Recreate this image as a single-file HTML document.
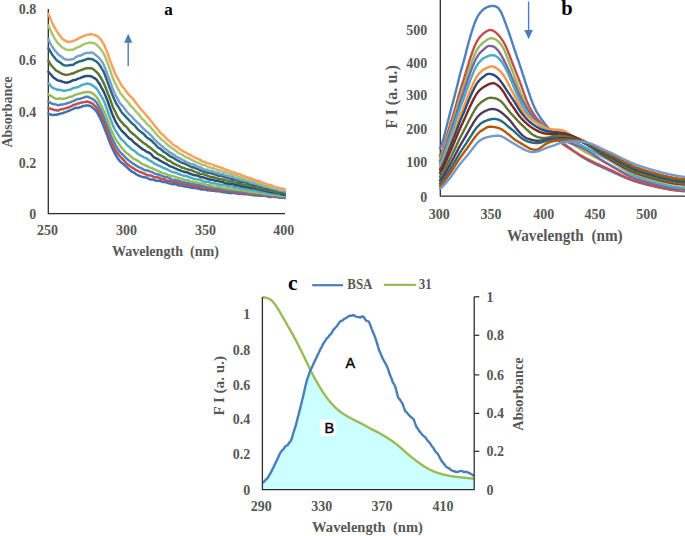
<!DOCTYPE html>
<html><head><meta charset="utf-8"><title>Figure</title>
<style>html,body{margin:0;padding:0;background:#fff;}svg{display:block;}</style></head>
<body><svg width="685" height="536" viewBox="0 0 685 536">
<rect width="685" height="536" fill="#fff"/>
<path d="M48.3 9V213.6H285" fill="none" stroke="#2e2e2e" stroke-width="1.3"/>
<path d="M48.50 113.66L49.49 114.06L50.48 114.36L51.46 114.75L52.45 115.11L53.44 115.12L54.43 114.84L55.42 114.67L56.41 114.66L57.39 114.53L58.38 114.19L59.37 113.91L60.36 113.65L61.35 113.38L62.34 113.20L63.32 112.88L64.31 112.48L65.30 112.19L66.29 111.85L67.28 111.44L68.27 111.09L69.25 110.74L70.24 110.23L71.23 109.68L72.22 109.34L73.21 108.95L74.20 108.35L75.18 107.90L76.17 107.83L77.16 107.91L78.15 107.81L79.14 107.55L80.13 107.31L81.11 106.95L82.10 106.40L83.09 106.02L84.08 105.91L85.07 105.75L86.05 105.49L87.04 105.37L88.03 105.51L89.02 105.75L90.01 106.00L91.00 106.40L91.98 107.06L92.97 107.96L93.96 108.80L94.95 109.68L95.94 110.80L96.93 112.14L97.91 113.72L98.90 115.57L99.89 117.61L100.88 119.68L101.87 121.86L102.86 124.21L103.84 126.75L104.83 129.31L105.82 131.80L106.81 134.30L107.80 136.96L108.79 139.72L109.77 142.34L110.76 144.76L111.75 147.05L112.74 149.19L113.73 151.20L114.72 153.23L115.70 155.14L116.69 156.72L117.68 158.23L118.67 159.66L119.66 160.87L120.64 161.89L121.63 162.76L122.62 163.49L123.61 164.29L124.60 165.20L125.59 166.07L126.57 166.91L127.56 167.84L128.55 168.80L129.54 169.72L130.53 170.67L131.52 171.38L132.50 171.93L133.49 172.46L134.48 173.07L135.47 173.83L136.46 174.46L137.45 174.87L138.43 175.28L139.42 175.77L140.41 176.19L141.40 176.56L142.39 176.90L143.38 177.08L144.36 177.21L145.35 177.40L146.34 177.58L147.33 177.94L148.32 178.52L149.31 179.06L150.29 179.42L151.28 179.54L152.27 179.47L153.26 179.51L154.25 179.93L155.23 180.44L156.22 180.66L157.21 180.68L158.20 180.69L159.19 180.73L160.18 180.87L161.16 181.26L162.15 181.78L163.14 181.99L164.13 181.98L165.12 182.06L166.11 182.23L167.09 182.60L168.08 183.09L169.07 183.38L170.06 183.47L171.05 183.65L172.04 184.05L173.02 184.33L174.01 184.25L175.00 184.10L175.99 184.20L176.98 184.64L177.97 185.21L178.95 185.51L179.94 185.57L180.93 185.53L181.92 185.71L182.91 186.14L183.89 186.38L184.88 186.32L185.87 186.40L186.86 186.72L187.85 186.93L188.84 187.06L189.82 187.21L190.81 187.55L191.80 187.87L192.79 187.95L193.78 187.97L194.77 188.01L195.75 188.01L196.74 188.16L197.73 188.49L198.72 188.76L199.71 188.91L200.70 189.23L201.68 189.54L202.67 189.59L203.66 189.41L204.65 189.32L205.64 189.59L206.63 190.08L207.61 190.39L208.60 190.38L209.59 190.29L210.58 190.41L211.57 190.72L212.56 190.79L213.54 190.62L214.53 190.77L215.52 191.19L216.51 191.36L217.50 191.24L218.48 191.22L219.47 191.39L220.46 191.52L221.45 191.67L222.44 191.98L223.43 192.19L224.41 192.27L225.40 192.37L226.39 192.63L227.38 192.74L228.37 192.80L229.36 193.02L230.34 193.16L231.33 193.04L232.32 192.80L233.31 192.85L234.30 193.16L235.29 193.30L236.27 193.36L237.26 193.56L238.25 193.87L239.24 194.02L240.23 193.98L241.22 193.85L242.20 193.86L243.19 194.06L244.18 194.33L245.17 194.31L246.16 194.14L247.15 194.21L248.13 194.39L249.12 194.44L250.11 194.57L251.10 194.84L252.09 195.09L253.07 195.27L254.06 195.35L255.05 195.38L256.04 195.38L257.03 195.36L258.02 195.51L259.00 195.68L259.99 195.63L260.98 195.60L261.97 195.72L262.96 195.79L263.95 195.74L264.93 195.83L265.92 196.07L266.91 196.31L267.90 196.64L268.89 196.88L269.88 196.94L270.86 196.90L271.85 196.75L272.84 196.67L273.83 196.82L274.82 197.01L275.81 197.08L276.79 197.05L277.78 197.19L278.77 197.43L279.76 197.48L280.75 197.63L281.74 197.78L282.72 197.66L283.71 197.67L284.70 197.96" fill="none" stroke="#3F70B0" stroke-width="2.5" stroke-linejoin="round" stroke-linecap="round"/>
<path d="M48.50 108.03L49.49 108.46L50.48 108.75L51.46 109.04L52.45 109.28L53.44 109.64L54.43 109.95L55.42 110.04L56.41 110.32L57.39 110.60L58.38 110.42L59.37 109.92L60.36 109.55L61.35 109.32L62.34 109.13L63.32 108.93L64.31 108.65L65.30 108.36L66.29 108.05L67.28 107.84L68.27 107.49L69.25 107.01L70.24 106.58L71.23 106.13L72.22 105.60L73.21 105.03L74.20 104.74L75.18 104.62L76.17 104.25L77.16 103.69L78.15 103.40L79.14 103.27L80.13 102.91L81.11 102.58L82.10 102.50L83.09 102.36L84.08 102.16L85.07 101.90L86.05 101.67L87.04 101.57L88.03 101.73L89.02 102.14L90.01 102.53L91.00 102.90L91.98 103.26L92.97 103.86L93.96 104.89L94.95 105.98L95.94 106.95L96.93 108.07L97.91 109.57L98.90 111.40L99.89 113.29L100.88 115.22L101.87 117.15L102.86 119.33L103.84 121.87L104.83 124.48L105.82 127.14L106.81 129.86L107.80 132.51L108.79 135.05L109.77 137.74L110.76 140.32L111.75 142.73L112.74 144.99L113.73 147.15L114.72 149.07L115.70 150.70L116.69 152.24L117.68 153.63L118.67 154.82L119.66 155.97L120.64 157.02L121.63 158.00L122.62 159.00L123.61 160.05L124.60 161.13L125.59 162.24L126.57 163.29L127.56 164.23L128.55 165.04L129.54 165.80L130.53 166.48L131.52 167.17L132.50 167.81L133.49 168.38L134.48 169.03L135.47 169.79L136.46 170.29L137.45 170.64L138.43 171.24L139.42 171.75L140.41 171.94L141.40 172.31L142.39 172.77L143.38 173.15L144.36 173.66L145.35 174.15L146.34 174.54L147.33 174.90L148.32 175.21L149.31 175.36L150.29 175.49L151.28 175.71L152.27 176.13L153.26 176.67L154.25 177.21L155.23 177.38L156.22 177.22L157.21 177.21L158.20 177.50L159.19 178.00L160.18 178.53L161.16 178.88L162.15 179.06L163.14 179.16L164.13 179.32L165.12 179.83L166.11 180.44L167.09 180.72L168.08 180.75L169.07 180.91L170.06 181.26L171.05 181.47L172.04 181.58L173.02 181.66L174.01 181.84L175.00 182.09L175.99 182.27L176.98 182.49L177.97 182.81L178.95 183.10L179.94 183.44L180.93 183.77L181.92 183.93L182.91 183.97L183.89 184.17L184.88 184.46L185.87 184.58L186.86 184.75L187.85 185.02L188.84 185.19L189.82 185.43L190.81 185.59L191.80 185.84L192.79 186.19L193.78 186.34L194.77 186.47L195.75 186.69L196.74 186.97L197.73 187.08L198.72 186.97L199.71 186.93L200.70 187.13L201.68 187.38L202.67 187.55L203.66 187.70L204.65 187.85L205.64 188.10L206.63 188.40L207.61 188.68L208.60 188.90L209.59 188.97L210.58 188.99L211.57 189.15L212.56 189.37L213.54 189.52L214.53 189.81L215.52 190.13L216.51 190.20L217.50 190.06L218.48 190.04L219.47 190.25L220.46 190.44L221.45 190.47L222.44 190.47L223.43 190.48L224.41 190.49L225.40 190.61L226.39 190.89L227.38 191.31L228.37 191.49L229.36 191.32L230.34 191.34L231.33 191.64L232.32 191.79L233.31 191.78L234.30 191.76L235.29 191.98L236.27 192.38L237.26 192.72L238.25 192.98L239.24 193.06L240.23 192.97L241.22 192.98L242.20 193.06L243.19 193.17L244.18 193.40L245.17 193.65L246.16 193.63L247.15 193.61L248.13 193.93L249.12 194.29L250.11 194.34L251.10 194.14L252.09 194.10L253.07 194.47L254.06 194.79L255.05 194.78L256.04 194.67L257.03 194.72L258.02 194.82L259.00 194.89L259.99 195.06L260.98 195.10L261.97 195.14L262.96 195.33L263.95 195.33L264.93 195.25L265.92 195.45L266.91 195.75L267.90 195.90L268.89 196.12L269.88 196.17L270.86 196.06L271.85 196.21L272.84 196.49L273.83 196.65L274.82 196.73L275.81 196.72L276.79 196.72L277.78 196.83L278.77 197.13L279.76 197.28L280.75 197.18L281.74 197.07L282.72 197.11L283.71 197.16L284.70 197.07" fill="none" stroke="#C0504D" stroke-width="2.5" stroke-linejoin="round" stroke-linecap="round"/>
<path d="M48.50 101.60L49.49 102.21L50.48 102.84L51.46 103.47L52.45 103.93L53.44 104.09L54.43 104.22L55.42 104.39L56.41 104.66L57.39 104.98L58.38 105.17L59.37 104.99L60.36 104.62L61.35 104.48L62.34 104.48L63.32 104.35L64.31 104.14L65.30 103.86L66.29 103.53L67.28 103.23L68.27 102.83L69.25 102.60L70.24 102.38L71.23 101.87L72.22 101.37L73.21 101.09L74.20 100.73L75.18 100.14L76.17 99.63L77.16 99.34L78.15 99.06L79.14 98.97L80.13 98.79L81.11 98.39L82.10 98.14L83.09 97.87L84.08 97.41L85.07 97.02L86.05 96.78L87.04 96.71L88.03 96.84L89.02 97.24L90.01 97.79L91.00 98.26L91.98 98.70L92.97 99.33L93.96 100.05L94.95 100.83L95.94 101.81L96.93 103.05L97.91 104.79L98.90 106.70L99.89 108.45L100.88 110.22L101.87 112.21L102.86 114.54L103.84 117.14L104.83 119.71L105.82 122.20L106.81 124.76L107.80 127.29L108.79 129.82L109.77 132.52L110.76 135.18L111.75 137.66L112.74 139.86L113.73 141.82L114.72 143.70L115.70 145.58L116.69 147.25L117.68 148.78L118.67 150.16L119.66 151.52L120.64 152.69L121.63 153.66L122.62 154.48L123.61 155.43L124.60 156.49L125.59 157.58L126.57 158.54L127.56 159.40L128.55 160.33L129.54 161.09L130.53 161.64L131.52 162.39L132.50 163.20L133.49 163.84L134.48 164.46L135.47 165.15L136.46 165.77L137.45 166.38L138.43 166.82L139.42 167.25L140.41 167.77L141.40 168.24L142.39 168.84L143.38 169.43L144.36 169.93L145.35 170.22L146.34 170.31L147.33 170.43L148.32 170.72L149.31 171.15L150.29 171.62L151.28 171.92L152.27 172.24L153.26 172.72L154.25 173.29L155.23 173.79L156.22 174.10L157.21 174.29L158.20 174.48L159.19 174.80L160.18 175.24L161.16 175.63L162.15 175.92L163.14 176.38L164.13 176.79L165.12 176.92L166.11 176.98L167.09 177.23L168.08 177.56L169.07 177.93L170.06 178.45L171.05 179.08L172.04 179.51L173.02 179.75L174.01 179.86L175.00 180.04L175.99 180.32L176.98 180.43L177.97 180.56L178.95 180.87L179.94 181.19L180.93 181.57L181.92 181.78L182.91 181.85L183.89 182.10L184.88 182.47L185.87 182.69L186.86 182.73L187.85 182.79L188.84 183.05L189.82 183.42L190.81 183.71L191.80 183.97L192.79 184.10L193.78 184.08L194.77 184.20L195.75 184.51L196.74 184.74L197.73 184.84L198.72 184.86L199.71 185.04L200.70 185.40L201.68 185.68L202.67 185.88L203.66 186.28L204.65 186.62L205.64 186.75L206.63 186.73L207.61 186.60L208.60 186.58L209.59 186.74L210.58 186.98L211.57 187.33L212.56 187.64L213.54 187.83L214.53 188.01L215.52 188.04L216.51 188.08L217.50 188.30L218.48 188.45L219.47 188.60L220.46 188.94L221.45 189.30L222.44 189.37L223.43 189.38L224.41 189.47L225.40 189.45L226.39 189.54L227.38 189.83L228.37 190.03L229.36 190.03L230.34 190.18L231.33 190.30L232.32 190.42L233.31 190.75L234.30 191.06L235.29 191.08L236.27 191.04L237.26 191.23L238.25 191.45L239.24 191.63L240.23 191.63L241.22 191.64L242.20 191.89L243.19 192.08L244.18 192.18L245.17 192.28L246.16 192.27L247.15 192.37L248.13 192.62L249.12 192.65L250.11 192.60L251.10 192.79L252.09 193.24L253.07 193.56L254.06 193.63L255.05 193.66L256.04 193.61L257.03 193.60L258.02 193.67L259.00 193.84L259.99 194.01L260.98 194.05L261.97 194.15L262.96 194.39L263.95 194.50L264.93 194.51L265.92 194.51L266.91 194.67L267.90 195.02L268.89 195.31L269.88 195.42L270.86 195.39L271.85 195.41L272.84 195.32L273.83 195.28L274.82 195.45L275.81 195.73L276.79 195.94L277.78 196.20L278.77 196.54L279.76 196.75L280.75 196.90L281.74 196.91L282.72 196.78L283.71 196.71L284.70 196.61" fill="none" stroke="#4F81BD" stroke-width="2.5" stroke-linejoin="round" stroke-linecap="round"/>
<path d="M48.50 94.02L49.49 95.02L50.48 95.71L51.46 96.16L52.45 96.75L53.44 97.56L54.43 98.14L55.42 98.43L56.41 98.67L57.39 98.87L58.38 98.74L59.37 98.41L60.36 98.37L61.35 98.69L62.34 98.91L63.32 98.76L64.31 98.54L65.30 98.40L66.29 98.18L67.28 97.91L68.27 97.47L69.25 97.02L70.24 96.82L71.23 96.68L72.22 96.45L73.21 95.95L74.20 95.34L75.18 94.86L76.17 94.49L77.16 94.28L78.15 94.04L79.14 93.67L80.13 93.33L81.11 93.18L82.10 92.99L83.09 92.62L84.08 92.28L85.07 92.26L86.05 92.24L87.04 91.97L88.03 91.87L89.02 92.11L90.01 92.29L91.00 92.48L91.98 92.97L92.97 93.60L93.96 94.25L94.95 95.26L95.94 96.47L96.93 97.64L97.91 98.89L98.90 100.61L99.89 102.60L100.88 104.61L101.87 106.59L102.86 108.58L103.84 110.69L104.83 112.94L105.82 115.38L106.81 118.06L107.80 120.69L108.79 123.39L109.77 126.31L110.76 128.94L111.75 131.21L112.74 133.36L113.73 135.59L114.72 137.63L115.70 139.40L116.69 140.88L117.68 142.27L118.67 143.60L119.66 144.94L120.64 146.40L121.63 147.75L122.62 148.81L123.61 149.88L124.60 151.08L125.59 152.13L126.57 152.92L127.56 153.53L128.55 154.33L129.54 155.26L130.53 156.07L131.52 157.03L132.50 157.94L133.49 158.57L134.48 159.06L135.47 159.54L136.46 160.03L137.45 160.62L138.43 161.35L139.42 162.05L140.41 162.75L141.40 163.55L142.39 164.09L143.38 164.37L144.36 164.86L145.35 165.42L146.34 165.78L147.33 166.16L148.32 166.69L149.31 167.14L150.29 167.58L151.28 167.99L152.27 168.34L153.26 168.77L154.25 169.19L155.23 169.64L156.22 170.10L157.21 170.60L158.20 171.06L159.19 171.46L160.18 171.78L161.16 172.29L162.15 172.86L163.14 173.20L164.13 173.39L165.12 173.61L166.11 173.99L167.09 174.52L168.08 174.91L169.07 175.14L170.06 175.50L171.05 175.88L172.04 175.99L173.02 176.01L174.01 176.35L175.00 176.91L175.99 177.30L176.98 177.52L177.97 177.66L178.95 177.91L179.94 178.34L180.93 178.64L181.92 178.85L182.91 179.06L183.89 179.43L184.88 179.97L185.87 180.16L186.86 179.98L187.85 180.08L188.84 180.62L189.82 181.15L190.81 181.44L191.80 181.61L192.79 181.70L193.78 181.95L194.77 182.28L195.75 182.43L196.74 182.48L197.73 182.69L198.72 182.94L199.71 183.03L200.70 183.11L201.68 183.38L202.67 183.69L203.66 183.77L204.65 183.91L205.64 184.35L206.63 184.92L207.61 185.16L208.60 185.04L209.59 185.02L210.58 185.32L211.57 185.72L212.56 185.99L213.54 186.27L214.53 186.49L215.52 186.64L216.51 186.67L217.50 186.58L218.48 186.65L219.47 187.06L220.46 187.38L221.45 187.38L222.44 187.45L223.43 187.83L224.41 188.16L225.40 188.30L226.39 188.36L227.38 188.38L228.37 188.36L229.36 188.63L230.34 189.07L231.33 189.31L232.32 189.33L233.31 189.29L234.30 189.30L235.29 189.31L236.27 189.49L237.26 189.82L238.25 189.93L239.24 189.88L240.23 189.87L241.22 189.94L242.20 190.18L243.19 190.46L244.18 190.61L245.17 190.81L246.16 191.04L247.15 191.20L248.13 191.46L249.12 191.68L250.11 191.92L251.10 192.08L252.09 192.00L253.07 191.94L254.06 192.12L255.05 192.27L256.04 192.39L257.03 192.63L258.02 192.82L259.00 192.87L259.99 192.87L260.98 192.92L261.97 193.14L262.96 193.56L263.95 193.79L264.93 193.78L265.92 193.95L266.91 194.20L267.90 194.28L268.89 194.21L269.88 194.23L270.86 194.50L271.85 194.94L272.84 195.20L273.83 195.18L274.82 195.02L275.81 195.01L276.79 195.18L277.78 195.38L278.77 195.54L279.76 195.81L280.75 195.98L281.74 195.89L282.72 195.77L283.71 195.89L284.70 196.16" fill="none" stroke="#9BBB59" stroke-width="2.5" stroke-linejoin="round" stroke-linecap="round"/>
<path d="M48.50 83.24L49.49 84.27L50.48 85.48L51.46 86.59L52.45 87.43L53.44 88.14L54.43 88.62L55.42 88.87L56.41 89.30L57.39 89.76L58.38 89.81L59.37 89.78L60.36 89.98L61.35 90.17L62.34 90.37L63.32 90.66L64.31 90.80L65.30 90.74L66.29 90.39L67.28 90.12L68.27 90.03L69.25 89.83L70.24 89.59L71.23 89.22L72.22 88.71L73.21 88.13L74.20 87.74L75.18 87.62L76.17 87.48L77.16 87.21L78.15 86.88L79.14 86.53L80.13 86.05L81.11 85.39L82.10 84.87L83.09 84.64L84.08 84.48L85.07 84.15L86.05 83.77L87.04 83.62L88.03 83.70L89.02 83.88L90.01 84.15L91.00 84.58L91.98 85.09L92.97 85.69L93.96 86.38L94.95 87.22L95.94 88.03L96.93 89.06L97.91 90.52L98.90 92.23L99.89 93.89L100.88 95.46L101.87 97.08L102.86 98.90L103.84 101.01L104.83 103.37L105.82 105.94L106.81 108.69L107.80 111.64L108.79 114.52L109.77 117.17L110.76 119.67L111.75 122.24L112.74 124.87L113.73 127.18L114.72 129.09L115.70 130.80L116.69 132.36L117.68 133.91L118.67 135.51L119.66 137.07L120.64 138.41L121.63 139.56L122.62 140.42L123.61 141.19L124.60 142.22L125.59 143.47L126.57 144.60L127.56 145.45L128.55 146.23L129.54 147.18L130.53 148.19L131.52 149.05L132.50 149.63L133.49 150.25L134.48 151.08L135.47 151.77L136.46 152.60L137.45 153.57L138.43 154.30L139.42 154.82L140.41 155.28L141.40 155.78L142.39 156.42L143.38 157.06L144.36 157.48L145.35 157.82L146.34 158.34L147.33 159.06L148.32 159.79L149.31 160.26L150.29 160.75L151.28 161.41L152.27 162.09L153.26 162.82L154.25 163.44L155.23 163.91L156.22 164.31L157.21 164.77L158.20 165.31L159.19 165.77L160.18 166.08L161.16 166.61L162.15 167.33L163.14 167.89L164.13 168.20L165.12 168.44L166.11 168.83L167.09 169.33L168.08 169.87L169.07 170.48L170.06 171.02L171.05 171.43L172.04 171.81L173.02 172.17L174.01 172.34L175.00 172.44L175.99 172.66L176.98 173.09L177.97 173.71L178.95 174.22L179.94 174.44L180.93 174.66L181.92 175.11L182.91 175.49L183.89 175.67L184.88 175.83L185.87 176.03L186.86 176.29L187.85 176.54L188.84 176.98L189.82 177.50L190.81 177.80L191.80 178.06L192.79 178.45L193.78 178.79L194.77 179.02L195.75 179.17L196.74 179.34L197.73 179.42L198.72 179.38L199.71 179.49L200.70 179.80L201.68 180.33L202.67 180.93L203.66 181.28L204.65 181.51L205.64 181.63L206.63 181.68L207.61 181.89L208.60 182.10L209.59 182.31L210.58 182.66L211.57 182.94L212.56 183.11L213.54 183.32L214.53 183.49L215.52 183.60L216.51 183.82L217.50 184.06L218.48 184.33L219.47 184.52L220.46 184.70L221.45 184.86L222.44 184.82L223.43 184.81L224.41 185.02L225.40 185.35L226.39 185.60L227.38 185.68L228.37 185.84L229.36 185.97L230.34 186.11L231.33 186.41L232.32 186.67L233.31 186.89L234.30 187.06L235.29 187.08L236.27 187.21L237.26 187.37L238.25 187.57L239.24 187.84L240.23 188.17L241.22 188.32L242.20 188.28L243.19 188.48L244.18 188.73L245.17 188.82L246.16 189.04L247.15 189.29L248.13 189.37L249.12 189.61L250.11 189.90L251.10 189.98L252.09 190.05L253.07 190.21L254.06 190.15L255.05 190.22L256.04 190.49L257.03 190.69L258.02 191.02L259.00 191.43L259.99 191.68L260.98 191.88L261.97 192.02L262.96 192.12L263.95 192.42L264.93 192.60L265.92 192.57L266.91 192.61L267.90 192.86L268.89 193.01L269.88 193.13L270.86 193.35L271.85 193.62L272.84 193.96L273.83 194.07L274.82 193.91L275.81 193.89L276.79 194.19L277.78 194.48L278.77 194.49L279.76 194.46L280.75 194.58L281.74 194.89L282.72 195.14L283.71 195.01L284.70 194.77" fill="none" stroke="#4BACC6" stroke-width="2.5" stroke-linejoin="round" stroke-linecap="round"/>
<path d="M48.50 71.81L49.49 73.17L50.48 74.24L51.46 75.23L52.45 76.37L53.44 77.45L54.43 78.16L55.42 78.79L56.41 79.56L57.39 80.13L58.38 80.51L59.37 80.73L60.36 80.93L61.35 81.27L62.34 81.62L63.32 81.90L64.31 82.19L65.30 82.59L66.29 82.71L67.28 82.46L68.27 82.16L69.25 82.07L70.24 81.75L71.23 81.09L72.22 80.57L73.21 80.24L74.20 80.02L75.18 79.89L76.17 79.58L77.16 79.05L78.15 78.61L79.14 78.39L80.13 78.11L81.11 77.65L82.10 77.20L83.09 76.81L84.08 76.48L85.07 76.18L86.05 76.05L87.04 76.11L88.03 76.09L89.02 76.07L90.01 76.15L91.00 76.32L91.98 76.62L92.97 77.28L93.96 77.90L94.95 78.36L95.94 79.04L96.93 80.13L97.91 81.58L98.90 83.00L99.89 84.54L100.88 86.47L101.87 88.31L102.86 90.01L103.84 91.94L104.83 94.15L105.82 96.62L106.81 99.10L107.80 101.67L108.79 104.51L109.77 107.36L110.76 110.05L111.75 112.73L112.74 115.16L113.73 117.52L114.72 119.82L115.70 121.80L116.69 123.49L117.68 125.12L118.67 126.66L119.66 128.04L120.64 129.35L121.63 130.52L122.62 131.57L123.61 132.65L124.60 133.53L125.59 134.46L126.57 135.59L127.56 136.68L128.55 137.69L129.54 138.52L130.53 139.11L131.52 139.85L132.50 140.83L133.49 141.86L134.48 142.80L135.47 143.65L136.46 144.35L137.45 145.11L138.43 146.05L139.42 146.82L140.41 147.44L141.40 148.21L142.39 149.06L143.38 149.63L144.36 150.10L145.35 150.86L146.34 151.63L147.33 152.03L148.32 152.37L149.31 152.89L150.29 153.54L151.28 154.38L152.27 155.47L153.26 156.58L154.25 157.45L155.23 158.00L156.22 158.42L157.21 158.87L158.20 159.41L159.19 160.07L160.18 160.67L161.16 161.23L162.15 161.74L163.14 162.29L164.13 162.88L165.12 163.39L166.11 163.78L167.09 164.27L168.08 164.95L169.07 165.58L170.06 166.10L171.05 166.59L172.04 166.92L173.02 167.24L174.01 167.77L175.00 168.31L175.99 168.67L176.98 169.08L177.97 169.59L178.95 169.98L179.94 170.27L180.93 170.71L181.92 171.10L182.91 171.40L183.89 171.68L184.88 172.00L185.87 172.21L186.86 172.36L187.85 172.66L188.84 173.17L189.82 173.73L190.81 174.02L191.80 174.29L192.79 174.71L193.78 175.03L194.77 175.20L195.75 175.28L196.74 175.40L197.73 175.68L198.72 176.10L199.71 176.54L200.70 176.91L201.68 177.12L202.67 177.28L203.66 177.50L204.65 177.83L205.64 178.13L206.63 178.44L207.61 178.92L208.60 179.30L209.59 179.39L210.58 179.54L211.57 179.74L212.56 179.76L213.54 179.98L214.53 180.46L215.52 180.73L216.51 180.71L217.50 180.79L218.48 181.11L219.47 181.43L220.46 181.63L221.45 181.69L222.44 181.87L223.43 182.24L224.41 182.77L225.40 183.11L226.39 183.22L227.38 183.42L228.37 183.70L229.36 183.74L230.34 183.64L231.33 183.82L232.32 184.14L233.31 184.32L234.30 184.62L235.29 184.99L236.27 185.12L237.26 185.13L238.25 185.17L239.24 185.46L240.23 185.94L241.22 186.16L242.20 186.29L243.19 186.66L244.18 186.91L245.17 186.97L246.16 187.05L247.15 187.07L248.13 187.30L249.12 187.71L250.11 187.89L251.10 187.91L252.09 187.96L253.07 188.08L254.06 188.32L255.05 188.65L256.04 188.87L257.03 189.06L258.02 189.28L259.00 189.39L259.99 189.66L260.98 190.06L261.97 190.17L262.96 190.18L263.95 190.34L264.93 190.52L265.92 190.86L266.91 191.24L267.90 191.42L268.89 191.62L269.88 191.77L270.86 191.97L271.85 192.26L272.84 192.30L273.83 192.26L274.82 192.50L275.81 192.79L276.79 192.91L277.78 192.97L278.77 193.10L279.76 193.34L280.75 193.75L281.74 194.20L282.72 194.40L283.71 194.46L284.70 194.67" fill="none" stroke="#2C4D75" stroke-width="2.5" stroke-linejoin="round" stroke-linecap="round"/>
<path d="M48.50 60.67L49.49 62.64L50.48 64.29L51.46 65.54L52.45 66.70L53.44 67.77L54.43 68.81L55.42 69.89L56.41 70.71L57.39 71.25L58.38 71.71L59.37 72.29L60.36 72.93L61.35 73.46L62.34 73.82L63.32 74.19L64.31 74.49L65.30 74.84L66.29 75.02L67.28 74.86L68.27 74.55L69.25 74.35L70.24 74.15L71.23 73.79L72.22 73.51L73.21 73.40L74.20 72.99L75.18 72.31L76.17 71.84L77.16 71.57L78.15 71.06L79.14 70.62L80.13 70.38L81.11 70.00L82.10 69.65L83.09 69.38L84.08 69.00L85.07 68.59L86.05 68.35L87.04 68.22L88.03 68.20L89.02 68.27L90.01 68.17L91.00 68.12L91.98 68.37L92.97 69.03L93.96 69.87L94.95 70.62L95.94 71.44L96.93 72.32L97.91 73.33L98.90 74.74L99.89 76.26L100.88 77.81L101.87 79.55L102.86 81.36L103.84 83.37L104.83 85.65L105.82 88.02L106.81 90.59L107.80 93.14L108.79 95.75L109.77 98.41L110.76 101.09L111.75 103.82L112.74 106.51L113.73 108.81L114.72 110.59L115.70 112.47L116.69 114.65L117.68 116.73L118.67 118.45L119.66 119.87L120.64 121.07L121.63 122.09L122.62 123.18L123.61 124.47L124.60 125.54L125.59 126.32L126.57 127.11L127.56 128.17L128.55 129.48L129.54 130.77L130.53 131.77L131.52 132.60L132.50 133.42L133.49 134.26L134.48 135.01L135.47 135.86L136.46 136.80L137.45 137.75L138.43 138.70L139.42 139.50L140.41 140.38L141.40 141.28L142.39 141.99L143.38 142.72L144.36 143.46L145.35 144.07L146.34 144.73L147.33 145.59L148.32 146.44L149.31 147.14L150.29 147.81L151.28 148.50L152.27 149.40L153.26 150.32L154.25 151.09L155.23 151.88L156.22 152.61L157.21 153.40L158.20 154.14L159.19 154.76L160.18 155.23L161.16 155.68L162.15 156.22L163.14 156.86L164.13 157.55L165.12 158.22L166.11 159.04L167.09 159.93L168.08 160.49L169.07 160.75L170.06 161.05L171.05 161.72L172.04 162.57L173.02 163.15L174.01 163.66L175.00 164.22L175.99 164.72L176.98 165.17L177.97 165.55L178.95 165.93L179.94 166.47L180.93 167.11L181.92 167.52L182.91 167.65L183.89 167.96L184.88 168.46L185.87 168.82L186.86 169.13L187.85 169.43L188.84 169.73L189.82 169.92L190.81 170.06L191.80 170.38L192.79 170.90L193.78 171.40L194.77 171.80L195.75 172.14L196.74 172.42L197.73 172.75L198.72 173.26L199.71 173.68L200.70 173.88L201.68 173.98L202.67 174.07L203.66 174.29L204.65 174.68L205.64 175.05L206.63 175.31L207.61 175.67L208.60 176.10L209.59 176.50L210.58 176.80L211.57 176.90L212.56 176.95L213.54 177.19L214.53 177.55L215.52 177.86L216.51 178.10L217.50 178.45L218.48 178.89L219.47 179.19L220.46 179.30L221.45 179.34L222.44 179.53L223.43 179.70L224.41 179.78L225.40 180.01L226.39 180.37L227.38 180.62L228.37 180.96L229.36 181.26L230.34 181.39L231.33 181.33L232.32 181.46L233.31 181.91L234.30 182.37L235.29 182.62L236.27 182.78L237.26 182.99L238.25 183.10L239.24 183.14L240.23 183.34L241.22 183.77L242.20 184.21L243.19 184.39L244.18 184.54L245.17 184.86L246.16 185.35L247.15 185.55L248.13 185.46L249.12 185.65L250.11 186.00L251.10 186.10L252.09 186.20L253.07 186.46L254.06 186.61L255.05 186.89L256.04 187.45L257.03 187.83L258.02 188.00L259.00 188.31L259.99 188.62L260.98 188.78L261.97 188.80L262.96 188.92L263.95 189.12L264.93 189.25L265.92 189.40L266.91 189.74L267.90 190.15L268.89 190.33L269.88 190.49L270.86 190.74L271.85 190.76L272.84 190.85L273.83 191.23L274.82 191.62L275.81 191.86L276.79 192.04L277.78 192.24L278.77 192.47L279.76 192.56L280.75 192.63L281.74 192.79L282.72 192.82L283.71 193.01L284.70 193.35" fill="none" stroke="#5F7530" stroke-width="2.5" stroke-linejoin="round" stroke-linecap="round"/>
<path d="M48.50 48.24L49.49 49.88L50.48 51.59L51.46 53.41L52.45 54.95L53.44 56.18L54.43 57.44L55.42 58.71L56.41 59.84L57.39 60.74L58.38 61.42L59.37 62.03L60.36 62.59L61.35 63.36L62.34 64.22L63.32 64.82L64.31 65.25L65.30 65.54L66.29 65.63L67.28 65.53L68.27 65.37L69.25 65.21L70.24 65.05L71.23 65.00L72.22 65.04L73.21 64.83L74.20 64.12L75.18 63.31L76.17 62.74L77.16 62.32L78.15 61.92L79.14 61.58L80.13 61.31L81.11 61.09L82.10 60.80L83.09 60.46L84.08 60.11L85.07 59.78L86.05 59.37L87.04 59.02L88.03 58.75L89.02 58.75L90.01 58.97L91.00 59.06L91.98 59.09L92.97 59.46L93.96 60.15L94.95 60.66L95.94 61.09L96.93 61.94L97.91 63.00L98.90 64.07L99.89 65.45L100.88 67.21L101.87 68.89L102.86 70.36L103.84 72.11L104.83 74.54L105.82 77.29L106.81 80.02L107.80 82.69L108.79 85.37L109.77 87.96L110.76 90.52L111.75 93.28L112.74 95.87L113.73 98.05L114.72 100.18L115.70 102.39L116.69 104.30L117.68 105.83L118.67 107.28L119.66 108.91L120.64 110.58L121.63 112.17L122.62 113.48L123.61 114.48L124.60 115.47L125.59 116.58L126.57 117.69L127.56 118.70L128.55 119.64L129.54 120.77L130.53 121.95L131.52 122.89L132.50 123.66L133.49 124.44L134.48 125.37L135.47 126.54L136.46 127.83L137.45 128.92L138.43 129.88L139.42 130.76L140.41 131.48L141.40 132.17L142.39 133.00L143.38 133.80L144.36 134.66L145.35 135.81L146.34 136.97L147.33 137.77L148.32 138.36L149.31 139.06L150.29 139.72L151.28 140.50L152.27 141.49L153.26 142.48L154.25 143.42L155.23 144.40L156.22 145.48L157.21 146.68L158.20 147.66L159.19 148.24L160.18 148.73L161.16 149.42L162.15 150.36L163.14 151.36L164.13 152.00L165.12 152.53L166.11 153.22L167.09 153.93L168.08 154.68L169.07 155.40L170.06 156.13L171.05 156.76L172.04 157.17L173.02 157.59L174.01 158.21L175.00 158.83L175.99 159.44L176.98 160.13L177.97 160.62L178.95 161.04L179.94 161.70L180.93 162.30L181.92 162.70L182.91 163.04L183.89 163.31L184.88 163.56L185.87 164.05L186.86 164.73L187.85 165.23L188.84 165.68L189.82 166.21L190.81 166.67L191.80 166.96L192.79 167.17L193.78 167.45L194.77 167.86L195.75 168.37L196.74 168.66L197.73 168.94L198.72 169.57L199.71 170.22L200.70 170.59L201.68 170.81L202.67 171.15L203.66 171.56L204.65 171.79L205.64 172.00L206.63 172.42L207.61 172.73L208.60 172.80L209.59 172.92L210.58 173.16L211.57 173.45L212.56 173.82L213.54 174.10L214.53 174.37L215.52 174.57L216.51 174.90L217.50 175.42L218.48 175.77L219.47 175.91L220.46 176.06L221.45 176.12L222.44 176.30L223.43 176.62L224.41 176.92L225.40 177.12L226.39 177.37L227.38 177.76L228.37 178.12L229.36 178.42L230.34 178.63L231.33 178.84L232.32 179.20L233.31 179.60L234.30 179.80L235.29 179.86L236.27 179.97L237.26 180.30L238.25 180.90L239.24 181.40L240.23 181.62L241.22 181.66L242.20 181.60L243.19 181.65L244.18 181.80L245.17 182.07L246.16 182.54L247.15 183.09L248.13 183.55L249.12 183.79L250.11 183.95L251.10 184.35L252.09 184.72L253.07 184.95L254.06 185.24L255.05 185.46L256.04 185.43L257.03 185.40L258.02 185.68L259.00 186.18L259.99 186.53L260.98 186.70L261.97 186.98L262.96 187.45L263.95 187.86L264.93 188.14L265.92 188.32L266.91 188.45L267.90 188.58L268.89 188.78L269.88 189.07L270.86 189.24L271.85 189.30L272.84 189.42L273.83 189.67L274.82 189.98L275.81 190.23L276.79 190.67L277.78 191.19L278.77 191.49L279.76 191.63L280.75 191.79L281.74 191.97L282.72 192.05L283.71 192.04L284.70 192.24" fill="none" stroke="#276A7C" stroke-width="2.5" stroke-linejoin="round" stroke-linecap="round"/>
<path d="M48.50 39.16L49.49 41.53L50.48 43.80L51.46 45.59L52.45 47.03L53.44 48.53L54.43 49.99L55.42 51.19L56.41 52.22L57.39 53.28L58.38 54.46L59.37 55.37L60.36 55.95L61.35 56.52L62.34 57.33L63.32 58.25L64.31 58.94L65.30 59.35L66.29 59.53L67.28 59.67L68.27 59.73L69.25 59.72L70.24 59.58L71.23 59.31L72.22 59.23L73.21 59.11L74.20 58.51L75.18 57.60L76.17 56.88L77.16 56.43L78.15 56.01L79.14 55.73L80.13 55.59L81.11 55.29L82.10 54.85L83.09 54.26L84.08 53.69L85.07 53.35L86.05 53.11L87.04 52.99L88.03 52.97L89.02 52.84L90.01 52.67L91.00 52.51L91.98 52.52L92.97 52.87L93.96 53.55L94.95 54.45L95.94 55.20L96.93 55.91L97.91 56.81L98.90 57.85L99.89 59.02L100.88 60.26L101.87 61.68L102.86 63.27L103.84 65.13L104.83 67.40L105.82 69.93L106.81 72.76L107.80 75.58L108.79 78.14L109.77 80.53L110.76 83.15L111.75 86.06L112.74 88.84L113.73 91.31L114.72 93.52L115.70 95.43L116.69 97.17L117.68 99.01L118.67 100.93L119.66 102.68L120.64 104.05L121.63 105.12L122.62 106.16L123.61 107.27L124.60 108.52L125.59 109.93L126.57 111.36L127.56 112.65L128.55 113.68L129.54 114.59L130.53 115.46L131.52 116.41L132.50 117.51L133.49 118.58L134.48 119.67L135.47 120.73L136.46 121.74L137.45 122.70L138.43 123.54L139.42 124.45L140.41 125.40L141.40 126.48L142.39 127.63L143.38 128.63L144.36 129.50L145.35 130.48L146.34 131.36L147.33 132.00L148.32 132.81L149.31 133.82L150.29 134.68L151.28 135.62L152.27 136.83L153.26 138.09L154.25 139.13L155.23 140.00L156.22 140.97L157.21 142.06L158.20 142.94L159.19 143.78L160.18 144.71L161.16 145.48L162.15 146.17L163.14 147.12L164.13 148.22L165.12 148.94L166.11 149.38L167.09 149.97L168.08 150.79L169.07 151.72L170.06 152.54L171.05 153.07L172.04 153.61L173.02 154.30L174.01 154.85L175.00 155.50L175.99 156.25L176.98 156.82L177.97 157.30L178.95 157.87L179.94 158.38L180.93 158.89L181.92 159.53L182.91 160.02L183.89 160.47L184.88 161.04L185.87 161.60L186.86 162.09L187.85 162.60L188.84 163.02L189.82 163.42L190.81 163.70L191.80 163.89L192.79 164.21L193.78 164.57L194.77 165.01L195.75 165.52L196.74 166.07L197.73 166.58L198.72 166.84L199.71 167.12L200.70 167.54L201.68 168.06L202.67 168.73L203.66 169.21L204.65 169.46L205.64 169.66L206.63 169.81L207.61 170.03L208.60 170.45L209.59 170.95L210.58 171.13L211.57 171.09L212.56 171.31L213.54 171.78L214.53 172.18L215.52 172.41L216.51 172.53L217.50 172.71L218.48 173.17L219.47 173.77L220.46 174.05L221.45 174.08L222.44 174.14L223.43 174.31L224.41 174.76L225.40 175.30L226.39 175.60L227.38 175.80L228.37 176.05L229.36 176.34L230.34 176.46L231.33 176.55L232.32 176.72L233.31 177.02L234.30 177.53L235.29 178.11L236.27 178.44L237.26 178.50L238.25 178.63L239.24 179.01L240.23 179.60L241.22 180.05L242.20 180.12L243.19 180.20L244.18 180.50L245.17 180.69L246.16 180.94L247.15 181.31L248.13 181.51L249.12 181.91L250.11 182.54L251.10 182.88L252.09 182.92L253.07 183.03L254.06 183.30L255.05 183.66L256.04 183.88L257.03 184.07L258.02 184.47L259.00 184.89L259.99 185.03L260.98 185.16L261.97 185.58L262.96 186.19L263.95 186.60L264.93 186.67L265.92 186.67L266.91 186.86L267.90 187.16L268.89 187.46L269.88 187.78L270.86 188.13L271.85 188.38L272.84 188.48L273.83 188.76L274.82 189.16L275.81 189.40L276.79 189.67L277.78 189.99L278.77 190.31L279.76 190.53L280.75 190.45L281.74 190.42L282.72 190.78L283.71 191.30L284.70 191.56" fill="none" stroke="#7BA0D0" stroke-width="2.5" stroke-linejoin="round" stroke-linecap="round"/>
<path d="M48.50 25.42L49.49 27.98L50.48 30.38L51.46 32.53L52.45 34.44L53.44 36.34L54.43 38.06L55.42 39.59L56.41 41.10L57.39 42.44L58.38 43.64L59.37 44.61L60.36 45.65L61.35 46.75L62.34 47.52L63.32 47.98L64.31 48.52L65.30 49.16L66.29 49.64L67.28 49.87L68.27 49.88L69.25 49.90L70.24 49.85L71.23 49.86L72.22 49.82L73.21 49.55L74.20 49.16L75.18 48.56L76.17 47.85L77.16 47.43L78.15 47.15L79.14 46.84L80.13 46.32L81.11 45.72L82.10 45.22L83.09 44.68L84.08 44.15L85.07 43.76L86.05 43.53L87.04 43.35L88.03 43.04L89.02 42.63L90.01 42.47L91.00 42.64L91.98 42.87L92.97 43.02L93.96 43.19L94.95 43.57L95.94 44.21L96.93 45.01L97.91 46.02L98.90 47.08L99.89 48.08L100.88 49.41L101.87 50.79L102.86 52.17L103.84 53.84L104.83 55.90L105.82 58.30L106.81 60.97L107.80 63.62L108.79 66.29L109.77 69.20L110.76 72.19L111.75 75.06L112.74 77.73L113.73 80.24L114.72 82.48L115.70 84.35L116.69 86.19L117.68 88.19L118.67 90.07L119.66 91.92L120.64 93.46L121.63 94.65L122.62 95.92L123.61 97.25L124.60 98.49L125.59 99.60L126.57 100.60L127.56 101.72L128.55 102.89L129.54 104.20L130.53 105.57L131.52 106.67L132.50 107.60L133.49 108.64L134.48 109.77L135.47 110.98L136.46 112.02L137.45 113.03L138.43 114.15L139.42 115.33L140.41 116.73L141.40 118.06L142.39 119.03L143.38 119.77L144.36 120.76L145.35 122.06L146.34 123.28L147.33 124.32L148.32 125.22L149.31 125.97L150.29 126.87L151.28 128.21L152.27 129.48L153.26 130.45L154.25 131.52L155.23 132.83L156.22 134.14L157.21 135.13L158.20 135.99L159.19 137.04L160.18 138.16L161.16 139.24L162.15 140.09L163.14 140.75L164.13 141.45L165.12 142.38L166.11 143.48L167.09 144.38L168.08 145.16L169.07 145.94L170.06 146.66L171.05 147.43L172.04 148.13L173.02 148.80L174.01 149.36L175.00 149.95L175.99 150.79L176.98 151.73L177.97 152.48L178.95 153.04L179.94 153.54L180.93 154.06L181.92 154.46L182.91 155.10L183.89 155.94L184.88 156.57L185.87 157.05L186.86 157.40L187.85 157.70L188.84 158.20L189.82 158.83L190.81 159.40L191.80 159.97L192.79 160.46L193.78 160.85L194.77 161.32L195.75 161.82L196.74 162.31L197.73 162.75L198.72 163.20L199.71 163.61L200.70 164.08L201.68 164.55L202.67 164.84L203.66 164.89L204.65 165.01L205.64 165.46L206.63 166.08L207.61 166.52L208.60 166.93L209.59 167.26L210.58 167.64L211.57 168.05L212.56 168.20L213.54 168.35L214.53 168.69L215.52 168.99L216.51 169.43L217.50 169.90L218.48 170.23L219.47 170.43L220.46 170.53L221.45 170.91L222.44 171.50L223.43 171.86L224.41 171.94L225.40 172.01L226.39 172.33L227.38 172.79L228.37 173.13L229.36 173.47L230.34 173.77L231.33 174.01L232.32 174.28L233.31 174.75L234.30 175.18L235.29 175.40L236.27 175.60L237.26 175.97L238.25 176.48L239.24 176.77L240.23 177.02L241.22 177.53L242.20 177.96L243.19 178.25L244.18 178.61L245.17 178.95L246.16 179.18L247.15 179.25L248.13 179.23L249.12 179.54L250.11 180.11L251.10 180.46L252.09 180.59L253.07 180.87L254.06 181.33L255.05 181.80L256.04 182.15L257.03 182.49L258.02 182.80L259.00 183.14L259.99 183.63L260.98 183.89L261.97 183.92L262.96 184.09L263.95 184.49L264.93 184.96L265.92 185.32L266.91 185.68L267.90 185.92L268.89 186.15L269.88 186.47L270.86 186.89L271.85 187.31L272.84 187.57L273.83 187.63L274.82 187.74L275.81 187.94L276.79 188.11L277.78 188.37L278.77 188.73L279.76 189.27L280.75 189.69L281.74 189.82L282.72 189.75L283.71 189.66L284.70 189.77" fill="none" stroke="#A9C66F" stroke-width="2.5" stroke-linejoin="round" stroke-linecap="round"/>
<path d="M48.50 13.91L49.49 16.31L50.48 18.73L51.46 21.15L52.45 23.49L53.44 25.49L54.43 27.11L55.42 28.74L56.41 30.53L57.39 32.22L58.38 33.59L59.37 34.75L60.36 36.08L61.35 37.61L62.34 38.80L63.32 39.57L64.31 40.18L65.30 40.70L66.29 41.25L67.28 41.78L68.27 41.93L69.25 41.83L70.24 41.75L71.23 41.54L72.22 41.32L73.21 41.05L74.20 40.59L75.18 40.11L76.17 39.64L77.16 39.16L78.15 38.75L79.14 38.18L80.13 37.50L81.11 37.08L82.10 36.82L83.09 36.45L84.08 35.91L85.07 35.41L86.05 35.12L87.04 34.99L88.03 34.88L89.02 34.62L90.01 34.21L91.00 34.11L91.98 34.36L92.97 34.64L93.96 34.83L94.95 35.16L95.94 35.54L96.93 35.83L97.91 36.43L98.90 37.45L99.89 38.53L100.88 39.61L101.87 40.94L102.86 42.53L103.84 44.21L104.83 46.36L105.82 48.87L106.81 51.30L107.80 53.81L108.79 56.77L109.77 59.71L110.76 62.34L111.75 64.87L112.74 67.34L113.73 70.00L114.72 72.60L115.70 74.72L116.69 76.56L117.68 78.36L118.67 80.10L119.66 81.81L120.64 83.61L121.63 85.41L122.62 86.75L123.61 87.77L124.60 89.10L125.59 90.66L126.57 91.92L127.56 93.05L128.55 94.35L129.54 95.47L130.53 96.37L131.52 97.29L132.50 98.40L133.49 99.65L134.48 100.94L135.47 102.28L136.46 103.57L137.45 104.75L138.43 106.02L139.42 107.41L140.41 108.68L141.40 109.81L142.39 110.75L143.38 111.80L144.36 112.97L145.35 114.13L146.34 115.35L147.33 116.48L148.32 117.65L149.31 118.82L150.29 119.97L151.28 121.16L152.27 122.47L153.26 123.80L154.25 125.13L155.23 126.33L156.22 127.57L157.21 128.86L158.20 129.87L159.19 131.02L160.18 132.44L161.16 133.49L162.15 134.18L163.14 135.05L164.13 136.05L165.12 137.00L166.11 138.15L167.09 139.35L168.08 140.23L169.07 140.86L170.06 141.55L171.05 142.57L172.04 143.67L173.02 144.52L174.01 145.18L175.00 145.81L175.99 146.33L176.98 146.74L177.97 147.43L178.95 148.41L179.94 149.27L180.93 149.93L181.92 150.45L182.91 151.05L183.89 151.69L184.88 152.21L185.87 152.64L186.86 153.26L187.85 153.82L188.84 154.15L189.82 154.62L190.81 155.23L191.80 155.86L192.79 156.47L193.78 157.01L194.77 157.51L195.75 157.92L196.74 158.39L197.73 158.94L198.72 159.30L199.71 159.63L200.70 160.26L201.68 161.05L202.67 161.59L203.66 161.79L204.65 161.99L205.64 162.46L206.63 162.93L207.61 163.14L208.60 163.38L209.59 163.75L210.58 164.10L211.57 164.37L212.56 164.68L213.54 165.07L214.53 165.49L215.52 165.80L216.51 166.12L217.50 166.53L218.48 166.96L219.47 167.33L220.46 167.58L221.45 167.70L222.44 167.97L223.43 168.50L224.41 169.11L225.40 169.54L226.39 169.76L227.38 170.08L228.37 170.40L229.36 170.86L230.34 171.37L231.33 171.67L232.32 171.87L233.31 172.13L234.30 172.36L235.29 172.85L236.27 173.48L237.26 173.79L238.25 173.87L239.24 174.04L240.23 174.44L241.22 174.97L242.20 175.42L243.19 175.72L244.18 176.15L245.17 176.51L246.16 176.79L247.15 177.28L248.13 177.66L249.12 177.78L250.11 177.95L251.10 178.32L252.09 178.76L253.07 179.17L254.06 179.58L255.05 179.98L256.04 180.34L257.03 180.73L258.02 180.88L259.00 180.95L259.99 181.34L260.98 181.94L261.97 182.41L262.96 182.74L263.95 183.10L264.93 183.42L265.92 183.77L266.91 184.05L267.90 184.42L268.89 184.74L269.88 184.88L270.86 185.09L271.85 185.49L272.84 186.01L273.83 186.39L274.82 186.69L275.81 187.04L276.79 187.38L277.78 187.57L278.77 187.78L279.76 188.10L280.75 188.31L281.74 188.39L282.72 188.60L283.71 188.91L284.70 188.93" fill="none" stroke="#F9A15E" stroke-width="2.5" stroke-linejoin="round" stroke-linecap="round"/>
<text x="36.30" y="13.50" font-size="14.00" text-anchor="end" font-weight="bold" fill="#575757" font-family='"Liberation Serif", serif' >0.8</text>
<text x="36.30" y="65.30" font-size="14.00" text-anchor="end" font-weight="bold" fill="#575757" font-family='"Liberation Serif", serif' >0.6</text>
<text x="36.30" y="116.90" font-size="14.00" text-anchor="end" font-weight="bold" fill="#575757" font-family='"Liberation Serif", serif' >0.4</text>
<text x="36.30" y="168.40" font-size="14.00" text-anchor="end" font-weight="bold" fill="#575757" font-family='"Liberation Serif", serif' >0.2</text>
<text x="36.30" y="218.90" font-size="14.00" text-anchor="end" font-weight="bold" fill="#575757" font-family='"Liberation Serif", serif' >0</text>
<text x="47.50" y="234.80" font-size="14.00" text-anchor="middle" font-weight="bold" fill="#575757" font-family='"Liberation Serif", serif' >250</text>
<text x="126.50" y="234.80" font-size="14.00" text-anchor="middle" font-weight="bold" fill="#575757" font-family='"Liberation Serif", serif' >300</text>
<text x="205.50" y="234.80" font-size="14.00" text-anchor="middle" font-weight="bold" fill="#575757" font-family='"Liberation Serif", serif' >350</text>
<text x="283.70" y="234.80" font-size="14.00" text-anchor="middle" font-weight="bold" fill="#575757" font-family='"Liberation Serif", serif' >400</text>
<text x="165.40" y="255.50" font-size="14.00" text-anchor="middle" font-weight="bold" fill="#575757" textLength="107.00" lengthAdjust="spacingAndGlyphs" font-family='"Liberation Serif", serif' >Wavelength&#160;&#160;(nm)</text>
<g transform="translate(7.30 112.00) rotate(-90)"><text x="0.00" y="4.62" font-size="14.00" text-anchor="middle" font-weight="bold" fill="#575757" textLength="71.00" lengthAdjust="spacingAndGlyphs" font-family='"Liberation Serif", serif' >Absorbance</text></g>
<text x="168.50" y="14.90" font-size="17.00" text-anchor="middle" font-weight="bold" fill="#000" font-family='"Liberation Serif", serif' >a</text>
<path d="M128.2 66V41" stroke="#4A7EBB" stroke-width="1.4" fill="none"/>
<path d="M128.2 33.7L124.1 42.7H132.3Z" fill="#4A7EBB"/>
<path d="M440.3 0V196.2H685" fill="none" stroke="#2e2e2e" stroke-width="1.3"/>
<clipPath id="cb"><rect x="438" y="0" width="247" height="197"/></clipPath>
<g clip-path="url(#cb)"><path d="M440.00 148.20L440.50 147.32L441.00 146.23L441.50 144.95L442.00 143.52L442.50 141.96L443.00 140.31L443.50 138.57L444.00 136.78L444.50 134.92L445.00 133.01L445.50 131.06L446.00 129.08L446.50 127.07L447.00 125.05L447.50 123.03L448.00 121.02L448.50 119.02L449.00 117.04L449.50 115.09L450.00 113.17L450.50 111.26L451.00 109.38L451.50 107.51L452.00 105.65L452.50 103.80L453.00 101.96L453.50 100.10L454.00 98.24L454.50 96.36L455.00 94.45L455.50 92.52L456.00 90.56L456.50 88.56L457.00 86.53L457.50 84.48L458.00 82.42L458.50 80.36L459.00 78.32L459.50 76.32L460.00 74.38L460.50 72.50L461.00 70.68L461.50 68.93L462.00 67.20L462.50 65.50L463.00 63.78L463.50 62.02L464.00 60.22L464.50 58.36L465.00 56.45L465.50 54.50L466.00 52.52L466.50 50.55L467.00 48.59L467.50 46.66L468.00 44.75L468.50 42.88L469.00 41.05L469.50 39.26L470.00 37.51L470.50 35.80L471.00 34.13L471.50 32.49L472.00 30.90L472.50 29.33L473.00 27.81L473.50 26.33L474.00 24.89L474.50 23.52L475.00 22.20L475.50 20.97L476.00 19.81L476.50 18.73L477.00 17.73L477.50 16.80L478.00 15.94L478.50 15.14L479.00 14.39L479.50 13.68L480.00 13.01L480.50 12.39L481.00 11.80L481.50 11.24L482.00 10.73L482.50 10.24L483.00 9.80L483.50 9.39L484.00 9.00L484.50 8.65L485.00 8.32L485.50 8.02L486.00 7.73L486.50 7.47L487.00 7.22L487.50 7.00L488.00 6.80L488.50 6.63L489.00 6.47L489.50 6.34L490.00 6.22L490.50 6.13L491.00 6.05L491.50 5.99L492.00 5.95L492.50 5.92L493.00 5.93L493.50 5.95L494.00 6.01L494.50 6.10L495.00 6.22L495.50 6.37L496.00 6.56L496.50 6.80L497.00 7.09L497.50 7.44L498.00 7.86L498.50 8.36L499.00 8.94L499.50 9.60L500.00 10.36L500.50 11.20L501.00 12.14L501.50 13.15L502.00 14.24L502.50 15.40L503.00 16.62L503.50 17.87L504.00 19.17L504.50 20.48L505.00 21.81L505.50 23.15L506.00 24.49L506.50 25.83L507.00 27.19L507.50 28.57L508.00 29.97L508.50 31.39L509.00 32.84L509.50 34.31L510.00 35.81L510.50 37.32L511.00 38.85L511.50 40.38L512.00 41.91L512.50 43.45L513.00 44.98L513.50 46.50L514.00 48.01L514.50 49.51L515.00 50.99L515.50 52.46L516.00 53.92L516.50 55.38L517.00 56.83L517.50 58.28L518.00 59.74L518.50 61.20L519.00 62.67L519.50 64.15L520.00 65.63L520.50 67.13L521.00 68.64L521.50 70.17L522.00 71.71L522.50 73.26L523.00 74.81L523.50 76.37L524.00 77.93L524.50 79.47L525.00 81.01L525.50 82.53L526.00 84.04L526.50 85.54L527.00 87.03L527.50 88.52L528.00 90.01L528.50 91.50L529.00 92.99L529.50 94.46L530.00 95.93L530.50 97.37L531.00 98.79L531.50 100.18L532.00 101.53L532.50 102.84L533.00 104.10L533.50 105.31L534.00 106.47L534.50 107.57L535.00 108.62L535.50 109.61L536.00 110.56L536.50 111.46L537.00 112.32L537.50 113.16L538.00 113.98L538.50 114.79L539.00 115.57L539.50 116.35L540.00 117.11L540.50 117.86L541.00 118.59L541.50 119.30L542.00 119.99L542.50 120.66L543.00 121.32L543.50 121.96L544.00 122.59L544.50 123.22L545.00 123.84L545.50 124.48L546.00 125.11L546.50 125.75L547.00 126.40L547.50 127.04L548.00 127.69L548.50 128.33L549.00 128.97L549.50 129.60L550.00 130.22L550.50 130.84L551.00 131.45L551.50 132.05L552.00 132.64L552.50 133.22L553.00 133.79L553.50 134.35L554.00 134.89L554.50 135.42L555.00 135.94L555.50 136.44L556.00 136.93L556.50 137.41L557.00 137.88L557.50 138.34L558.00 138.79L558.50 139.24L559.00 139.67L559.50 140.10L560.00 140.53L560.50 140.94L561.00 141.36L561.50 141.77L562.00 142.17L562.50 142.58L563.00 142.97L563.50 143.37L564.00 143.76L564.50 144.15L565.00 144.53L565.50 144.91L566.00 145.28L566.50 145.65L567.00 146.02L567.50 146.38L568.00 146.75L568.50 147.11L569.00 147.47L569.50 147.83L570.00 148.19L570.50 148.55L571.00 148.91L571.50 149.28L572.00 149.64L572.50 150.01L573.00 150.39L573.50 150.76L574.00 151.13L574.50 151.51L575.00 151.88L575.50 152.26L576.00 152.63L576.50 153.01L577.00 153.38L577.50 153.75L578.00 154.11L578.50 154.47L579.00 154.83L579.50 155.18L580.00 155.53L580.50 155.87L581.00 156.20L581.50 156.53L582.00 156.85L582.50 157.16L583.00 157.47L583.50 157.78L584.00 158.07L584.50 158.37L585.00 158.66L585.50 158.94L586.00 159.23L586.50 159.51L587.00 159.78L587.50 160.06L588.00 160.33L588.50 160.60L589.00 160.87L589.50 161.13L590.00 161.39L590.50 161.65L591.00 161.91L591.50 162.17L592.00 162.42L592.50 162.67L593.00 162.92L593.50 163.17L594.00 163.41L594.50 163.66L595.00 163.90L595.50 164.14L596.00 164.38L596.50 164.62L597.00 164.85L597.50 165.09L598.00 165.32L598.50 165.56L599.00 165.79L599.50 166.02L600.00 166.25L600.50 166.48L601.00 166.71L601.50 166.94L602.00 167.16L602.50 167.39L603.00 167.62L603.50 167.84L604.00 168.07L604.50 168.29L605.00 168.52L605.50 168.74L606.00 168.97L606.50 169.20L607.00 169.42L607.50 169.65L608.00 169.88L608.50 170.10L609.00 170.33L609.50 170.56L610.00 170.79L610.50 171.02L611.00 171.25L611.50 171.48L612.00 171.71L612.50 171.94L613.00 172.17L613.50 172.40L614.00 172.63L614.50 172.86L615.00 173.09L615.50 173.32L616.00 173.55L616.50 173.78L617.00 174.01L617.50 174.23L618.00 174.46L618.50 174.69L619.00 174.91L619.50 175.14L620.00 175.36L620.50 175.59L621.00 175.81L621.50 176.03L622.00 176.25L622.50 176.47L623.00 176.69L623.50 176.90L624.00 177.12L624.50 177.33L625.00 177.54L625.50 177.75L626.00 177.96L626.50 178.17L627.00 178.37L627.50 178.58L628.00 178.78L628.50 178.98L629.00 179.17L629.50 179.37L630.00 179.56L630.50 179.75L631.00 179.93L631.50 180.12L632.00 180.30L632.50 180.48L633.00 180.66L633.50 180.83L634.00 181.00L634.50 181.17L635.00 181.34L635.50 181.50L636.00 181.66L636.50 181.81L637.00 181.97L637.50 182.12L638.00 182.26L638.50 182.41L639.00 182.55L639.50 182.68L640.00 182.82L640.50 182.95L641.00 183.08L641.50 183.21L642.00 183.34L642.50 183.47L643.00 183.60L643.50 183.73L644.00 183.86L644.50 183.98L645.00 184.11L645.50 184.24L646.00 184.36L646.50 184.49L647.00 184.61L647.50 184.74L648.00 184.86L648.50 184.99L649.00 185.11L649.50 185.23L650.00 185.35L650.50 185.47L651.00 185.59L651.50 185.71L652.00 185.83L652.50 185.95L653.00 186.07L653.50 186.18L654.00 186.30L654.50 186.42L655.00 186.53L655.50 186.64L656.00 186.76L656.50 186.87L657.00 186.98L657.50 187.09L658.00 187.20L658.50 187.31L659.00 187.42L659.50 187.52L660.00 187.63L660.50 187.73L661.00 187.83L661.50 187.94L662.00 188.04L662.50 188.14L663.00 188.24L663.50 188.34L664.00 188.43L664.50 188.53L665.00 188.62L665.50 188.71L666.00 188.81L666.50 188.90L667.00 188.99L667.50 189.07L668.00 189.16L668.50 189.25L669.00 189.33L669.50 189.41L670.00 189.49L670.50 189.57L671.00 189.65L671.50 189.73L672.00 189.81L672.50 189.88L673.00 189.95L673.50 190.02L674.00 190.09L674.50 190.16L675.00 190.23L675.50 190.29L676.00 190.36L676.50 190.42L677.00 190.48L677.50 190.53L678.00 190.59L678.50 190.65L679.00 190.70L679.50 190.75L680.00 190.80L680.50 190.85L681.00 190.89L681.50 190.94L682.00 190.98L682.50 191.02L683.00 191.05L683.50 191.09L684.00 191.12L684.50 191.14L685.00 191.16" fill="none" stroke="#4F81BD" stroke-width="2.4" stroke-linejoin="round" stroke-linecap="round"/><path d="M440.00 155.77L440.50 155.00L441.00 154.05L441.50 152.93L442.00 151.68L442.50 150.32L443.00 148.88L443.50 147.37L444.00 145.81L444.50 144.20L445.00 142.54L445.50 140.85L446.00 139.13L446.50 137.39L447.00 135.64L447.50 133.88L448.00 132.13L448.50 130.40L449.00 128.67L449.50 126.97L450.00 125.28L450.50 123.61L451.00 121.95L451.50 120.31L452.00 118.67L452.50 117.03L453.00 115.40L453.50 113.76L454.00 112.11L454.50 110.44L455.00 108.76L455.50 107.06L456.00 105.33L456.50 103.57L457.00 101.79L457.50 100.00L458.00 98.19L458.50 96.39L459.00 94.61L459.50 92.87L460.00 91.17L460.50 89.52L461.00 87.93L461.50 86.39L462.00 84.88L462.50 83.37L463.00 81.86L463.50 80.33L464.00 78.75L464.50 77.13L465.00 75.46L465.50 73.76L466.00 72.05L466.50 70.34L467.00 68.63L467.50 66.95L468.00 65.29L468.50 63.65L469.00 62.05L469.50 60.47L470.00 58.93L470.50 57.42L471.00 55.94L471.50 54.49L472.00 53.07L472.50 51.67L473.00 50.31L473.50 48.99L474.00 47.70L474.50 46.46L475.00 45.28L475.50 44.16L476.00 43.10L476.50 42.12L477.00 41.20L477.50 40.35L478.00 39.55L478.50 38.81L479.00 38.12L479.50 37.47L480.00 36.85L480.50 36.28L481.00 35.73L481.50 35.23L482.00 34.75L482.50 34.30L483.00 33.88L483.50 33.48L484.00 33.09L484.50 32.72L485.00 32.37L485.50 32.02L486.00 31.68L486.50 31.36L487.00 31.06L487.50 30.78L488.00 30.54L488.50 30.33L489.00 30.17L489.50 30.05L490.00 29.99L490.50 29.98L491.00 30.03L491.50 30.13L492.00 30.27L492.50 30.46L493.00 30.69L493.50 30.95L494.00 31.24L494.50 31.56L495.00 31.90L495.50 32.28L496.00 32.69L496.50 33.13L497.00 33.60L497.50 34.10L498.00 34.63L498.50 35.18L499.00 35.75L499.50 36.34L500.00 36.95L500.50 37.58L501.00 38.23L501.50 38.90L502.00 39.60L502.50 40.34L503.00 41.12L503.50 41.95L504.00 42.82L504.50 43.75L505.00 44.73L505.50 45.77L506.00 46.86L506.50 47.99L507.00 49.16L507.50 50.36L508.00 51.59L508.50 52.84L509.00 54.11L509.50 55.40L510.00 56.70L510.50 58.01L511.00 59.32L511.50 60.63L512.00 61.94L512.50 63.23L513.00 64.52L513.50 65.80L514.00 67.07L514.50 68.33L515.00 69.59L515.50 70.85L516.00 72.10L516.50 73.36L517.00 74.62L517.50 75.89L518.00 77.16L518.50 78.43L519.00 79.72L519.50 81.01L520.00 82.32L520.50 83.65L521.00 84.99L521.50 86.36L522.00 87.74L522.50 89.15L523.00 90.58L523.50 92.02L524.00 93.46L524.50 94.89L525.00 96.30L525.50 97.69L526.00 99.05L526.50 100.36L527.00 101.62L527.50 102.82L528.00 103.97L528.50 105.06L529.00 106.10L529.50 107.08L530.00 108.02L530.50 108.92L531.00 109.79L531.50 110.64L532.00 111.46L532.50 112.27L533.00 113.06L533.50 113.83L534.00 114.58L534.50 115.31L535.00 116.02L535.50 116.71L536.00 117.36L536.50 118.00L537.00 118.60L537.50 119.19L538.00 119.75L538.50 120.30L539.00 120.83L539.50 121.36L540.00 121.88L540.50 122.39L541.00 122.90L541.50 123.42L542.00 123.93L542.50 124.44L543.00 124.95L543.50 125.46L544.00 125.97L544.50 126.48L545.00 126.99L545.50 127.50L546.00 128.01L546.50 128.51L547.00 129.02L547.50 129.53L548.00 130.04L548.50 130.55L549.00 131.06L549.50 131.57L550.00 132.08L550.50 132.58L551.00 133.09L551.50 133.59L552.00 134.09L552.50 134.59L553.00 135.08L553.50 135.57L554.00 136.06L554.50 136.54L555.00 137.02L555.50 137.49L556.00 137.96L556.50 138.43L557.00 138.90L557.50 139.36L558.00 139.83L558.50 140.28L559.00 140.73L559.50 141.18L560.00 141.62L560.50 142.06L561.00 142.48L561.50 142.90L562.00 143.31L562.50 143.71L563.00 144.10L563.50 144.48L564.00 144.85L564.50 145.22L565.00 145.57L565.50 145.92L566.00 146.26L566.50 146.60L567.00 146.93L567.50 147.25L568.00 147.57L568.50 147.89L569.00 148.21L569.50 148.52L570.00 148.84L570.50 149.15L571.00 149.46L571.50 149.78L572.00 150.09L572.50 150.40L573.00 150.71L573.50 151.03L574.00 151.34L574.50 151.65L575.00 151.96L575.50 152.27L576.00 152.58L576.50 152.88L577.00 153.19L577.50 153.49L578.00 153.79L578.50 154.09L579.00 154.39L579.50 154.68L580.00 154.97L580.50 155.26L581.00 155.55L581.50 155.83L582.00 156.11L582.50 156.39L583.00 156.67L583.50 156.94L584.00 157.21L584.50 157.48L585.00 157.75L585.50 158.01L586.00 158.28L586.50 158.54L587.00 158.80L587.50 159.05L588.00 159.31L588.50 159.57L589.00 159.82L589.50 160.07L590.00 160.32L590.50 160.57L591.00 160.82L591.50 161.07L592.00 161.31L592.50 161.56L593.00 161.80L593.50 162.04L594.00 162.28L594.50 162.52L595.00 162.76L595.50 163.00L596.00 163.24L596.50 163.47L597.00 163.71L597.50 163.95L598.00 164.18L598.50 164.41L599.00 164.65L599.50 164.88L600.00 165.11L600.50 165.34L601.00 165.57L601.50 165.80L602.00 166.03L602.50 166.26L603.00 166.49L603.50 166.72L604.00 166.95L604.50 167.18L605.00 167.41L605.50 167.64L606.00 167.87L606.50 168.10L607.00 168.33L607.50 168.56L608.00 168.79L608.50 169.02L609.00 169.26L609.50 169.49L610.00 169.73L610.50 169.97L611.00 170.20L611.50 170.44L612.00 170.68L612.50 170.92L613.00 171.16L613.50 171.40L614.00 171.64L614.50 171.88L615.00 172.13L615.50 172.37L616.00 172.61L616.50 172.85L617.00 173.09L617.50 173.33L618.00 173.57L618.50 173.81L619.00 174.05L619.50 174.29L620.00 174.53L620.50 174.77L621.00 175.01L621.50 175.24L622.00 175.48L622.50 175.71L623.00 175.94L623.50 176.17L624.00 176.40L624.50 176.63L625.00 176.86L625.50 177.08L626.00 177.30L626.50 177.53L627.00 177.74L627.50 177.96L628.00 178.18L628.50 178.39L629.00 178.60L629.50 178.81L630.00 179.01L630.50 179.22L631.00 179.42L631.50 179.62L632.00 179.81L632.50 180.00L633.00 180.19L633.50 180.38L634.00 180.56L634.50 180.74L635.00 180.92L635.50 181.09L636.00 181.26L636.50 181.42L637.00 181.59L637.50 181.74L638.00 181.90L638.50 182.05L639.00 182.20L639.50 182.34L640.00 182.48L640.50 182.62L641.00 182.76L641.50 182.90L642.00 183.03L642.50 183.17L643.00 183.30L643.50 183.44L644.00 183.57L644.50 183.70L645.00 183.83L645.50 183.97L646.00 184.10L646.50 184.23L647.00 184.36L647.50 184.49L648.00 184.62L648.50 184.75L649.00 184.88L649.50 185.01L650.00 185.13L650.50 185.26L651.00 185.39L651.50 185.51L652.00 185.64L652.50 185.76L653.00 185.88L653.50 186.00L654.00 186.13L654.50 186.25L655.00 186.37L655.50 186.49L656.00 186.60L656.50 186.72L657.00 186.84L657.50 186.95L658.00 187.07L658.50 187.18L659.00 187.29L659.50 187.40L660.00 187.51L660.50 187.62L661.00 187.73L661.50 187.84L662.00 187.94L662.50 188.05L663.00 188.15L663.50 188.25L664.00 188.35L664.50 188.45L665.00 188.55L665.50 188.65L666.00 188.74L666.50 188.84L667.00 188.93L667.50 189.02L668.00 189.11L668.50 189.20L669.00 189.29L669.50 189.37L670.00 189.46L670.50 189.54L671.00 189.62L671.50 189.70L672.00 189.78L672.50 189.86L673.00 189.93L673.50 190.00L674.00 190.08L674.50 190.15L675.00 190.21L675.50 190.28L676.00 190.35L676.50 190.41L677.00 190.47L677.50 190.53L678.00 190.59L678.50 190.64L679.00 190.70L679.50 190.75L680.00 190.80L680.50 190.85L681.00 190.89L681.50 190.94L682.00 190.98L682.50 191.02L683.00 191.05L683.50 191.09L684.00 191.12L684.50 191.14L685.00 191.16" fill="none" stroke="#C0504D" stroke-width="2.4" stroke-linejoin="round" stroke-linecap="round"/><path d="M440.00 158.57L440.50 157.84L441.00 156.94L441.50 155.88L442.00 154.70L442.50 153.41L443.00 152.05L443.50 150.62L444.00 149.14L444.50 147.62L445.00 146.06L445.50 144.46L446.00 142.84L446.50 141.20L447.00 139.55L447.50 137.89L448.00 136.24L448.50 134.59L449.00 132.96L449.50 131.35L450.00 129.75L450.50 128.16L451.00 126.59L451.50 125.03L452.00 123.47L452.50 121.91L453.00 120.36L453.50 118.80L454.00 117.22L454.50 115.64L455.00 114.04L455.50 112.42L456.00 110.78L456.50 109.11L457.00 107.43L457.50 105.72L458.00 104.01L458.50 102.31L459.00 100.63L459.50 98.97L460.00 97.37L460.50 95.81L461.00 94.30L461.50 92.83L462.00 91.40L462.50 89.97L463.00 88.54L463.50 87.08L464.00 85.59L464.50 84.05L465.00 82.48L465.50 80.87L466.00 79.26L466.50 77.64L467.00 76.03L467.50 74.43L468.00 72.86L468.50 71.32L469.00 69.80L469.50 68.30L470.00 66.84L470.50 65.40L471.00 63.99L471.50 62.61L472.00 61.25L472.50 59.92L473.00 58.62L473.50 57.35L474.00 56.11L474.50 54.93L475.00 53.79L475.50 52.71L476.00 51.70L476.50 50.75L477.00 49.86L477.50 49.04L478.00 48.27L478.50 47.55L479.00 46.88L479.50 46.24L480.00 45.65L480.50 45.09L481.00 44.57L481.50 44.07L482.00 43.61L482.50 43.18L483.00 42.76L483.50 42.37L484.00 41.99L484.50 41.62L485.00 41.26L485.50 40.90L486.00 40.55L486.50 40.20L487.00 39.87L487.50 39.55L488.00 39.26L488.50 38.99L489.00 38.76L489.50 38.56L490.00 38.41L490.50 38.30L491.00 38.24L491.50 38.23L492.00 38.26L492.50 38.33L493.00 38.45L493.50 38.60L494.00 38.77L494.50 38.98L495.00 39.21L495.50 39.47L496.00 39.74L496.50 40.05L497.00 40.38L497.50 40.75L498.00 41.16L498.50 41.60L499.00 42.09L499.50 42.62L500.00 43.19L500.50 43.81L501.00 44.48L501.50 45.20L502.00 45.97L502.50 46.80L503.00 47.68L503.50 48.63L504.00 49.63L504.50 50.69L505.00 51.80L505.50 52.97L506.00 54.19L506.50 55.46L507.00 56.77L507.50 58.11L508.00 59.46L508.50 60.83L509.00 62.19L509.50 63.53L510.00 64.86L510.50 66.16L511.00 67.45L511.50 68.73L512.00 70.00L512.50 71.26L513.00 72.54L513.50 73.82L514.00 75.11L514.50 76.42L515.00 77.75L515.50 79.09L516.00 80.44L516.50 81.79L517.00 83.15L517.50 84.50L518.00 85.84L518.50 87.17L519.00 88.49L519.50 89.79L520.00 91.09L520.50 92.36L521.00 93.62L521.50 94.87L522.00 96.09L522.50 97.29L523.00 98.48L523.50 99.64L524.00 100.78L524.50 101.89L525.00 102.99L525.50 104.06L526.00 105.10L526.50 106.12L527.00 107.10L527.50 108.05L528.00 108.96L528.50 109.85L529.00 110.70L529.50 111.52L530.00 112.31L530.50 113.07L531.00 113.80L531.50 114.50L532.00 115.18L532.50 115.83L533.00 116.45L533.50 117.05L534.00 117.63L534.50 118.19L535.00 118.72L535.50 119.25L536.00 119.76L536.50 120.25L537.00 120.74L537.50 121.22L538.00 121.69L538.50 122.15L539.00 122.61L539.50 123.05L540.00 123.49L540.50 123.93L541.00 124.36L541.50 124.78L542.00 125.21L542.50 125.63L543.00 126.05L543.50 126.48L544.00 126.90L544.50 127.33L545.00 127.76L545.50 128.20L546.00 128.63L546.50 129.06L547.00 129.50L547.50 129.92L548.00 130.34L548.50 130.76L549.00 131.17L549.50 131.57L550.00 131.96L550.50 132.35L551.00 132.72L551.50 133.10L552.00 133.46L552.50 133.82L553.00 134.17L553.50 134.52L554.00 134.87L554.50 135.21L555.00 135.54L555.50 135.88L556.00 136.21L556.50 136.53L557.00 136.85L557.50 137.17L558.00 137.49L558.50 137.81L559.00 138.12L559.50 138.43L560.00 138.74L560.50 139.04L561.00 139.34L561.50 139.63L562.00 139.91L562.50 140.19L563.00 140.45L563.50 140.70L564.00 140.94L564.50 141.17L565.00 141.39L565.50 141.59L566.00 141.79L566.50 141.98L567.00 142.17L567.50 142.35L568.00 142.53L568.50 142.71L569.00 142.89L569.50 143.08L570.00 143.27L570.50 143.48L571.00 143.69L571.50 143.91L572.00 144.14L572.50 144.38L573.00 144.63L573.50 144.89L574.00 145.16L574.50 145.44L575.00 145.73L575.50 146.02L576.00 146.32L576.50 146.62L577.00 146.92L577.50 147.23L578.00 147.54L578.50 147.86L579.00 148.17L579.50 148.48L580.00 148.79L580.50 149.10L581.00 149.40L581.50 149.70L582.00 150.00L582.50 150.29L583.00 150.58L583.50 150.87L584.00 151.15L584.50 151.44L585.00 151.72L585.50 151.99L586.00 152.27L586.50 152.55L587.00 152.82L587.50 153.10L588.00 153.37L588.50 153.65L589.00 153.92L589.50 154.19L590.00 154.47L590.50 154.74L591.00 155.01L591.50 155.28L592.00 155.55L592.50 155.82L593.00 156.09L593.50 156.35L594.00 156.62L594.50 156.89L595.00 157.15L595.50 157.42L596.00 157.68L596.50 157.95L597.00 158.21L597.50 158.48L598.00 158.74L598.50 159.00L599.00 159.26L599.50 159.53L600.00 159.79L600.50 160.05L601.00 160.31L601.50 160.57L602.00 160.83L602.50 161.09L603.00 161.34L603.50 161.60L604.00 161.86L604.50 162.12L605.00 162.37L605.50 162.63L606.00 162.89L606.50 163.15L607.00 163.40L607.50 163.66L608.00 163.92L608.50 164.18L609.00 164.45L609.50 164.71L610.00 164.97L610.50 165.24L611.00 165.51L611.50 165.77L612.00 166.04L612.50 166.31L613.00 166.58L613.50 166.85L614.00 167.12L614.50 167.40L615.00 167.67L615.50 167.94L616.00 168.21L616.50 168.48L617.00 168.76L617.50 169.03L618.00 169.30L618.50 169.57L619.00 169.84L619.50 170.11L620.00 170.38L620.50 170.65L621.00 170.92L621.50 171.19L622.00 171.45L622.50 171.72L623.00 171.98L623.50 172.24L624.00 172.50L624.50 172.76L625.00 173.02L625.50 173.27L626.00 173.53L626.50 173.78L627.00 174.03L627.50 174.28L628.00 174.52L628.50 174.76L629.00 175.00L629.50 175.24L630.00 175.48L630.50 175.71L631.00 175.94L631.50 176.16L632.00 176.39L632.50 176.61L633.00 176.82L633.50 177.04L634.00 177.25L634.50 177.45L635.00 177.66L635.50 177.86L636.00 178.05L636.50 178.24L637.00 178.43L637.50 178.61L638.00 178.79L638.50 178.97L639.00 179.14L639.50 179.31L640.00 179.47L640.50 179.63L641.00 179.79L641.50 179.95L642.00 180.11L642.50 180.27L643.00 180.42L643.50 180.58L644.00 180.74L644.50 180.89L645.00 181.05L645.50 181.20L646.00 181.35L646.50 181.51L647.00 181.66L647.50 181.81L648.00 181.96L648.50 182.11L649.00 182.26L649.50 182.41L650.00 182.56L650.50 182.71L651.00 182.85L651.50 183.00L652.00 183.14L652.50 183.29L653.00 183.43L653.50 183.57L654.00 183.71L654.50 183.85L655.00 183.99L655.50 184.13L656.00 184.27L656.50 184.41L657.00 184.54L657.50 184.68L658.00 184.81L658.50 184.94L659.00 185.07L659.50 185.20L660.00 185.33L660.50 185.46L661.00 185.59L661.50 185.71L662.00 185.84L662.50 185.96L663.00 186.08L663.50 186.20L664.00 186.32L664.50 186.43L665.00 186.55L665.50 186.66L666.00 186.78L666.50 186.89L667.00 187.00L667.50 187.11L668.00 187.21L668.50 187.32L669.00 187.42L669.50 187.52L670.00 187.63L670.50 187.72L671.00 187.82L671.50 187.92L672.00 188.01L672.50 188.10L673.00 188.19L673.50 188.28L674.00 188.37L674.50 188.45L675.00 188.54L675.50 188.62L676.00 188.70L676.50 188.77L677.00 188.85L677.50 188.92L678.00 188.99L678.50 189.06L679.00 189.13L679.50 189.19L680.00 189.26L680.50 189.32L681.00 189.38L681.50 189.43L682.00 189.49L682.50 189.54L683.00 189.59L683.50 189.63L684.00 189.67L684.50 189.70L685.00 189.73" fill="none" stroke="#9BBB59" stroke-width="2.4" stroke-linejoin="round" stroke-linecap="round"/><path d="M440.00 160.87L440.50 160.18L441.00 159.32L441.50 158.31L442.00 157.18L442.50 155.96L443.00 154.66L443.50 153.30L444.00 151.90L444.50 150.45L445.00 148.96L445.50 147.45L446.00 145.90L446.50 144.34L447.00 142.77L447.50 141.20L448.00 139.62L448.50 138.06L449.00 136.51L449.50 134.97L450.00 133.44L450.50 131.93L451.00 130.42L451.50 128.93L452.00 127.44L452.50 125.95L453.00 124.45L453.50 122.96L454.00 121.45L454.50 119.93L455.00 118.40L455.50 116.85L456.00 115.28L456.50 113.69L457.00 112.08L457.50 110.45L458.00 108.82L458.50 107.20L459.00 105.59L459.50 104.02L460.00 102.48L460.50 101.00L461.00 99.56L461.50 98.16L462.00 96.78L462.50 95.42L463.00 94.05L463.50 92.66L464.00 91.23L464.50 89.77L465.00 88.27L465.50 86.75L466.00 85.21L466.50 83.67L467.00 82.14L467.50 80.62L468.00 79.12L468.50 77.65L469.00 76.20L469.50 74.77L470.00 73.37L470.50 71.99L471.00 70.64L471.50 69.31L472.00 68.01L472.50 66.73L473.00 65.47L473.50 64.25L474.00 63.06L474.50 61.92L475.00 60.82L475.50 59.78L476.00 58.80L476.50 57.88L477.00 57.02L477.50 56.21L478.00 55.46L478.50 54.77L479.00 54.11L479.50 53.49L480.00 52.92L480.50 52.37L481.00 51.86L481.50 51.38L482.00 50.93L482.50 50.49L483.00 50.06L483.50 49.63L484.00 49.20L484.50 48.76L485.00 48.31L485.50 47.87L486.00 47.44L486.50 47.04L487.00 46.69L487.50 46.40L488.00 46.18L488.50 46.02L489.00 45.93L489.50 45.89L490.00 45.89L490.50 45.93L491.00 45.99L491.50 46.07L492.00 46.17L492.50 46.29L493.00 46.45L493.50 46.63L494.00 46.86L494.50 47.14L495.00 47.47L495.50 47.85L496.00 48.29L496.50 48.78L497.00 49.31L497.50 49.88L498.00 50.49L498.50 51.13L499.00 51.80L499.50 52.50L500.00 53.24L500.50 54.02L501.00 54.83L501.50 55.67L502.00 56.56L502.50 57.47L503.00 58.42L503.50 59.39L504.00 60.39L504.50 61.40L505.00 62.43L505.50 63.47L506.00 64.51L506.50 65.57L507.00 66.63L507.50 67.70L508.00 68.79L508.50 69.88L509.00 70.97L509.50 72.08L510.00 73.20L510.50 74.32L511.00 75.46L511.50 76.61L512.00 77.76L512.50 78.92L513.00 80.09L513.50 81.27L514.00 82.45L514.50 83.63L515.00 84.81L515.50 85.99L516.00 87.18L516.50 88.37L517.00 89.55L517.50 90.73L518.00 91.90L518.50 93.04L519.00 94.16L519.50 95.25L520.00 96.31L520.50 97.34L521.00 98.33L521.50 99.29L522.00 100.23L522.50 101.14L523.00 102.02L523.50 102.89L524.00 103.74L524.50 104.57L525.00 105.39L525.50 106.18L526.00 106.97L526.50 107.73L527.00 108.49L527.50 109.22L528.00 109.95L528.50 110.66L529.00 111.35L529.50 112.04L530.00 112.70L530.50 113.36L531.00 114.00L531.50 114.63L532.00 115.25L532.50 115.86L533.00 116.47L533.50 117.06L534.00 117.64L534.50 118.22L535.00 118.79L535.50 119.36L536.00 119.92L536.50 120.48L537.00 121.03L537.50 121.57L538.00 122.11L538.50 122.64L539.00 123.16L539.50 123.68L540.00 124.19L540.50 124.70L541.00 125.20L541.50 125.70L542.00 126.19L542.50 126.68L543.00 127.17L543.50 127.65L544.00 128.13L544.50 128.61L545.00 129.08L545.50 129.54L546.00 130.00L546.50 130.44L547.00 130.87L547.50 131.28L548.00 131.68L548.50 132.06L549.00 132.43L549.50 132.78L550.00 133.12L550.50 133.44L551.00 133.76L551.50 134.06L552.00 134.35L552.50 134.64L553.00 134.92L553.50 135.19L554.00 135.46L554.50 135.72L555.00 135.98L555.50 136.24L556.00 136.49L556.50 136.74L557.00 136.99L557.50 137.23L558.00 137.47L558.50 137.71L559.00 137.94L559.50 138.18L560.00 138.40L560.50 138.63L561.00 138.85L561.50 139.07L562.00 139.29L562.50 139.51L563.00 139.72L563.50 139.94L564.00 140.15L564.50 140.36L565.00 140.57L565.50 140.79L566.00 141.00L566.50 141.20L567.00 141.41L567.50 141.62L568.00 141.82L568.50 142.03L569.00 142.23L569.50 142.43L570.00 142.64L570.50 142.84L571.00 143.04L571.50 143.24L572.00 143.44L572.50 143.65L573.00 143.85L573.50 144.05L574.00 144.26L574.50 144.46L575.00 144.67L575.50 144.87L576.00 145.08L576.50 145.28L577.00 145.48L577.50 145.69L578.00 145.89L578.50 146.10L579.00 146.31L579.50 146.52L580.00 146.74L580.50 146.96L581.00 147.18L581.50 147.41L582.00 147.64L582.50 147.88L583.00 148.13L583.50 148.38L584.00 148.64L584.50 148.91L585.00 149.18L585.50 149.46L586.00 149.74L586.50 150.03L587.00 150.32L587.50 150.62L588.00 150.93L588.50 151.24L589.00 151.55L589.50 151.87L590.00 152.19L590.50 152.52L591.00 152.85L591.50 153.18L592.00 153.51L592.50 153.85L593.00 154.19L593.50 154.53L594.00 154.87L594.50 155.21L595.00 155.56L595.50 155.90L596.00 156.25L596.50 156.59L597.00 156.94L597.50 157.28L598.00 157.63L598.50 157.97L599.00 158.31L599.50 158.65L600.00 158.99L600.50 159.33L601.00 159.66L601.50 159.99L602.00 160.32L602.50 160.65L603.00 160.97L603.50 161.29L604.00 161.60L604.50 161.92L605.00 162.22L605.50 162.52L606.00 162.82L606.50 163.12L607.00 163.41L607.50 163.71L608.00 164.00L608.50 164.29L609.00 164.58L609.50 164.87L610.00 165.16L610.50 165.46L611.00 165.75L611.50 166.05L612.00 166.34L612.50 166.64L613.00 166.93L613.50 167.23L614.00 167.52L614.50 167.82L615.00 168.11L615.50 168.41L616.00 168.70L616.50 169.00L617.00 169.29L617.50 169.58L618.00 169.87L618.50 170.16L619.00 170.45L619.50 170.74L620.00 171.03L620.50 171.32L621.00 171.60L621.50 171.88L622.00 172.16L622.50 172.44L623.00 172.72L623.50 173.00L624.00 173.27L624.50 173.54L625.00 173.81L625.50 174.08L626.00 174.34L626.50 174.60L627.00 174.86L627.50 175.12L628.00 175.37L628.50 175.62L629.00 175.87L629.50 176.11L630.00 176.35L630.50 176.59L631.00 176.82L631.50 177.05L632.00 177.28L632.50 177.50L633.00 177.72L633.50 177.93L634.00 178.14L634.50 178.35L635.00 178.55L635.50 178.74L636.00 178.94L636.50 179.12L637.00 179.31L637.50 179.48L638.00 179.66L638.50 179.82L639.00 179.99L639.50 180.15L640.00 180.31L640.50 180.46L641.00 180.61L641.50 180.76L642.00 180.91L642.50 181.06L643.00 181.21L643.50 181.36L644.00 181.50L644.50 181.65L645.00 181.80L645.50 181.94L646.00 182.09L646.50 182.23L647.00 182.38L647.50 182.52L648.00 182.66L648.50 182.81L649.00 182.95L649.50 183.09L650.00 183.23L650.50 183.37L651.00 183.51L651.50 183.65L652.00 183.79L652.50 183.92L653.00 184.06L653.50 184.19L654.00 184.33L654.50 184.46L655.00 184.59L655.50 184.72L656.00 184.85L656.50 184.98L657.00 185.11L657.50 185.24L658.00 185.36L658.50 185.48L659.00 185.61L659.50 185.73L660.00 185.85L660.50 185.97L661.00 186.08L661.50 186.20L662.00 186.32L662.50 186.43L663.00 186.54L663.50 186.65L664.00 186.76L664.50 186.86L665.00 186.97L665.50 187.07L666.00 187.18L666.50 187.28L667.00 187.37L667.50 187.47L668.00 187.56L668.50 187.66L669.00 187.75L669.50 187.84L670.00 187.92L670.50 188.01L671.00 188.09L671.50 188.17L672.00 188.25L672.50 188.33L673.00 188.40L673.50 188.48L674.00 188.55L674.50 188.62L675.00 188.68L675.50 188.75L676.00 188.81L676.50 188.87L677.00 188.92L677.50 188.98L678.00 189.03L678.50 189.08L679.00 189.13L679.50 189.17L680.00 189.21L680.50 189.25L681.00 189.29L681.50 189.32L682.00 189.35L682.50 189.38L683.00 189.41L683.50 189.43L684.00 189.45L684.50 189.46L685.00 189.47" fill="none" stroke="#8064A2" stroke-width="2.4" stroke-linejoin="round" stroke-linecap="round"/><path d="M440.00 163.55L440.50 162.89L441.00 162.08L441.50 161.13L442.00 160.07L442.50 158.91L443.00 157.69L443.50 156.41L444.00 155.09L444.50 153.73L445.00 152.33L445.50 150.90L446.00 149.45L446.50 147.99L447.00 146.51L447.50 145.03L448.00 143.55L448.50 142.07L449.00 140.61L449.50 139.16L450.00 137.72L450.50 136.29L451.00 134.86L451.50 133.44L452.00 132.03L452.50 130.62L453.00 129.20L453.50 127.78L454.00 126.35L454.50 124.91L455.00 123.45L455.50 121.98L456.00 120.49L456.50 118.99L457.00 117.46L457.50 115.93L458.00 114.39L458.50 112.86L459.00 111.34L459.50 109.86L460.00 108.41L460.50 107.01L461.00 105.64L461.50 104.32L462.00 103.02L462.50 101.73L463.00 100.43L463.50 99.12L464.00 97.77L464.50 96.39L465.00 94.98L465.50 93.55L466.00 92.10L466.50 90.65L467.00 89.21L467.50 87.78L468.00 86.37L468.50 84.98L469.00 83.61L469.50 82.26L470.00 80.93L470.50 79.62L471.00 78.34L471.50 77.07L472.00 75.83L472.50 74.61L473.00 73.42L473.50 72.25L474.00 71.11L474.50 70.02L475.00 68.97L475.50 67.96L476.00 67.02L476.50 66.13L477.00 65.30L477.50 64.52L478.00 63.80L478.50 63.12L479.00 62.49L479.50 61.89L480.00 61.33L480.50 60.80L481.00 60.31L481.50 59.85L482.00 59.42L482.50 59.02L483.00 58.65L483.50 58.31L484.00 58.00L484.50 57.71L485.00 57.45L485.50 57.20L486.00 56.97L486.50 56.75L487.00 56.54L487.50 56.34L488.00 56.15L488.50 55.98L489.00 55.81L489.50 55.66L490.00 55.53L490.50 55.41L491.00 55.31L491.50 55.24L492.00 55.19L492.50 55.17L493.00 55.19L493.50 55.25L494.00 55.35L494.50 55.50L495.00 55.70L495.50 55.93L496.00 56.21L496.50 56.52L497.00 56.87L497.50 57.25L498.00 57.67L498.50 58.12L499.00 58.61L499.50 59.14L500.00 59.71L500.50 60.31L501.00 60.95L501.50 61.61L502.00 62.31L502.50 63.04L503.00 63.80L503.50 64.59L504.00 65.42L504.50 66.29L505.00 67.20L505.50 68.15L506.00 69.14L506.50 70.17L507.00 71.23L507.50 72.32L508.00 73.43L508.50 74.56L509.00 75.70L509.50 76.85L510.00 78.01L510.50 79.17L511.00 80.33L511.50 81.50L512.00 82.68L512.50 83.85L513.00 85.03L513.50 86.21L514.00 87.39L514.50 88.57L515.00 89.75L515.50 90.92L516.00 92.10L516.50 93.27L517.00 94.43L517.50 95.57L518.00 96.70L518.50 97.81L519.00 98.90L519.50 99.96L520.00 100.99L520.50 101.99L521.00 102.97L521.50 103.93L522.00 104.86L522.50 105.76L523.00 106.63L523.50 107.48L524.00 108.30L524.50 109.09L525.00 109.86L525.50 110.61L526.00 111.33L526.50 112.04L527.00 112.72L527.50 113.38L528.00 114.03L528.50 114.66L529.00 115.27L529.50 115.87L530.00 116.45L530.50 117.02L531.00 117.57L531.50 118.11L532.00 118.63L532.50 119.14L533.00 119.64L533.50 120.13L534.00 120.60L534.50 121.06L535.00 121.51L535.50 121.94L536.00 122.36L536.50 122.76L537.00 123.16L537.50 123.54L538.00 123.92L538.50 124.29L539.00 124.65L539.50 125.01L540.00 125.37L540.50 125.73L541.00 126.10L541.50 126.46L542.00 126.83L542.50 127.21L543.00 127.59L543.50 127.97L544.00 128.35L544.50 128.72L545.00 129.09L545.50 129.44L546.00 129.78L546.50 130.11L547.00 130.41L547.50 130.70L548.00 130.98L548.50 131.24L549.00 131.48L549.50 131.72L550.00 131.95L550.50 132.17L551.00 132.38L551.50 132.59L552.00 132.80L552.50 133.00L553.00 133.20L553.50 133.40L554.00 133.60L554.50 133.80L555.00 134.00L555.50 134.19L556.00 134.39L556.50 134.58L557.00 134.77L557.50 134.96L558.00 135.15L558.50 135.33L559.00 135.52L559.50 135.70L560.00 135.89L560.50 136.07L561.00 136.26L561.50 136.44L562.00 136.63L562.50 136.81L563.00 137.00L563.50 137.19L564.00 137.38L564.50 137.56L565.00 137.75L565.50 137.94L566.00 138.13L566.50 138.32L567.00 138.51L567.50 138.70L568.00 138.89L568.50 139.08L569.00 139.28L569.50 139.48L570.00 139.68L570.50 139.88L571.00 140.09L571.50 140.30L572.00 140.52L572.50 140.74L573.00 140.96L573.50 141.19L574.00 141.43L574.50 141.66L575.00 141.90L575.50 142.15L576.00 142.39L576.50 142.64L577.00 142.89L577.50 143.15L578.00 143.40L578.50 143.66L579.00 143.92L579.50 144.18L580.00 144.44L580.50 144.70L581.00 144.96L581.50 145.22L582.00 145.48L582.50 145.74L583.00 146.00L583.50 146.26L584.00 146.52L584.50 146.78L585.00 147.05L585.50 147.31L586.00 147.57L586.50 147.84L587.00 148.10L587.50 148.37L588.00 148.63L588.50 148.90L589.00 149.17L589.50 149.44L590.00 149.71L590.50 149.98L591.00 150.25L591.50 150.52L592.00 150.79L592.50 151.06L593.00 151.33L593.50 151.60L594.00 151.88L594.50 152.15L595.00 152.42L595.50 152.70L596.00 152.97L596.50 153.24L597.00 153.52L597.50 153.79L598.00 154.07L598.50 154.34L599.00 154.62L599.50 154.89L600.00 155.17L600.50 155.44L601.00 155.72L601.50 156.00L602.00 156.27L602.50 156.55L603.00 156.82L603.50 157.10L604.00 157.37L604.50 157.65L605.00 157.92L605.50 158.20L606.00 158.47L606.50 158.75L607.00 159.03L607.50 159.31L608.00 159.59L608.50 159.87L609.00 160.16L609.50 160.45L610.00 160.74L610.50 161.04L611.00 161.33L611.50 161.63L612.00 161.93L612.50 162.23L613.00 162.54L613.50 162.84L614.00 163.15L614.50 163.46L615.00 163.77L615.50 164.08L616.00 164.39L616.50 164.70L617.00 165.01L617.50 165.32L618.00 165.63L618.50 165.95L619.00 166.26L619.50 166.57L620.00 166.88L620.50 167.19L621.00 167.50L621.50 167.81L622.00 168.12L622.50 168.43L623.00 168.73L623.50 169.04L624.00 169.34L624.50 169.64L625.00 169.94L625.50 170.24L626.00 170.53L626.50 170.83L627.00 171.12L627.50 171.40L628.00 171.69L628.50 171.97L629.00 172.25L629.50 172.52L630.00 172.79L630.50 173.06L631.00 173.33L631.50 173.59L632.00 173.84L632.50 174.10L633.00 174.34L633.50 174.59L634.00 174.83L634.50 175.06L635.00 175.29L635.50 175.51L636.00 175.73L636.50 175.95L637.00 176.15L637.50 176.36L638.00 176.55L638.50 176.75L639.00 176.93L639.50 177.11L640.00 177.29L640.50 177.47L641.00 177.64L641.50 177.81L642.00 177.98L642.50 178.15L643.00 178.31L643.50 178.48L644.00 178.65L644.50 178.81L645.00 178.98L645.50 179.14L646.00 179.31L646.50 179.47L647.00 179.63L647.50 179.80L648.00 179.96L648.50 180.12L649.00 180.28L649.50 180.44L650.00 180.60L650.50 180.75L651.00 180.91L651.50 181.07L652.00 181.22L652.50 181.38L653.00 181.53L653.50 181.68L654.00 181.83L654.50 181.98L655.00 182.13L655.50 182.28L656.00 182.43L656.50 182.57L657.00 182.72L657.50 182.86L658.00 183.00L658.50 183.14L659.00 183.28L659.50 183.42L660.00 183.55L660.50 183.69L661.00 183.82L661.50 183.95L662.00 184.08L662.50 184.21L663.00 184.34L663.50 184.47L664.00 184.59L664.50 184.71L665.00 184.83L665.50 184.95L666.00 185.07L666.50 185.19L667.00 185.30L667.50 185.41L668.00 185.52L668.50 185.63L669.00 185.73L669.50 185.84L670.00 185.94L670.50 186.04L671.00 186.14L671.50 186.23L672.00 186.33L672.50 186.42L673.00 186.51L673.50 186.60L674.00 186.68L674.50 186.76L675.00 186.84L675.50 186.92L676.00 187.00L676.50 187.07L677.00 187.14L677.50 187.21L678.00 187.28L678.50 187.34L679.00 187.40L679.50 187.46L680.00 187.51L680.50 187.57L681.00 187.62L681.50 187.66L682.00 187.71L682.50 187.75L683.00 187.79L683.50 187.82L684.00 187.85L684.50 187.88L685.00 187.90" fill="none" stroke="#4BACC6" stroke-width="2.4" stroke-linejoin="round" stroke-linecap="round"/><path d="M440.00 167.11L440.50 166.51L441.00 165.76L441.50 164.89L442.00 163.91L442.50 162.85L443.00 161.72L443.50 160.55L444.00 159.34L444.50 158.09L445.00 156.81L445.50 155.51L446.00 154.18L446.50 152.84L447.00 151.49L447.50 150.13L448.00 148.78L448.50 147.43L449.00 146.08L449.50 144.75L450.00 143.42L450.50 142.10L451.00 140.78L451.50 139.47L452.00 138.15L452.50 136.84L453.00 135.52L453.50 134.20L454.00 132.87L454.50 131.54L455.00 130.18L455.50 128.82L456.00 127.44L456.50 126.05L457.00 124.64L457.50 123.23L458.00 121.81L458.50 120.41L459.00 119.01L459.50 117.65L460.00 116.31L460.50 115.02L461.00 113.76L461.50 112.54L462.00 111.34L462.50 110.14L463.00 108.95L463.50 107.73L464.00 106.49L464.50 105.22L465.00 103.93L465.50 102.61L466.00 101.29L466.50 99.96L467.00 98.64L467.50 97.33L468.00 96.03L468.50 94.75L469.00 93.49L469.50 92.24L470.00 91.01L470.50 89.80L471.00 88.60L471.50 87.42L472.00 86.26L472.50 85.12L473.00 84.01L473.50 82.91L474.00 81.85L474.50 80.81L475.00 79.82L475.50 78.88L476.00 77.98L476.50 77.14L477.00 76.35L477.50 75.61L478.00 74.91L478.50 74.26L479.00 73.65L479.50 73.08L480.00 72.55L480.50 72.05L481.00 71.57L481.50 71.13L482.00 70.72L482.50 70.34L483.00 69.98L483.50 69.64L484.00 69.33L484.50 69.03L485.00 68.75L485.50 68.48L486.00 68.22L486.50 67.98L487.00 67.74L487.50 67.51L488.00 67.30L488.50 67.11L489.00 66.93L489.50 66.77L490.00 66.63L490.50 66.53L491.00 66.45L491.50 66.41L492.00 66.41L492.50 66.46L493.00 66.54L493.50 66.68L494.00 66.86L494.50 67.07L495.00 67.33L495.50 67.60L496.00 67.91L496.50 68.23L497.00 68.57L497.50 68.94L498.00 69.32L498.50 69.72L499.00 70.15L499.50 70.61L500.00 71.08L500.50 71.59L501.00 72.12L501.50 72.68L502.00 73.27L502.50 73.89L503.00 74.54L503.50 75.23L504.00 75.95L504.50 76.71L505.00 77.51L505.50 78.36L506.00 79.25L506.50 80.18L507.00 81.14L507.50 82.13L508.00 83.14L508.50 84.16L509.00 85.19L509.50 86.20L510.00 87.20L510.50 88.18L511.00 89.14L511.50 90.09L512.00 91.02L512.50 91.94L513.00 92.86L513.50 93.78L514.00 94.72L514.50 95.67L515.00 96.64L515.50 97.63L516.00 98.64L516.50 99.66L517.00 100.68L517.50 101.69L518.00 102.69L518.50 103.66L519.00 104.60L519.50 105.51L520.00 106.40L520.50 107.25L521.00 108.07L521.50 108.86L522.00 109.61L522.50 110.33L523.00 111.01L523.50 111.66L524.00 112.28L524.50 112.87L525.00 113.42L525.50 113.96L526.00 114.47L526.50 114.97L527.00 115.45L527.50 115.92L528.00 116.38L528.50 116.83L529.00 117.28L529.50 117.71L530.00 118.14L530.50 118.57L531.00 118.98L531.50 119.38L532.00 119.77L532.50 120.15L533.00 120.51L533.50 120.86L534.00 121.20L534.50 121.52L535.00 121.83L535.50 122.14L536.00 122.43L536.50 122.71L537.00 122.99L537.50 123.27L538.00 123.55L538.50 123.83L539.00 124.11L539.50 124.40L540.00 124.69L540.50 124.98L541.00 125.27L541.50 125.57L542.00 125.86L542.50 126.14L543.00 126.42L543.50 126.69L544.00 126.94L544.50 127.18L545.00 127.41L545.50 127.61L546.00 127.81L546.50 127.99L547.00 128.16L547.50 128.32L548.00 128.46L548.50 128.60L549.00 128.73L549.50 128.86L550.00 128.97L550.50 129.07L551.00 129.16L551.50 129.25L552.00 129.32L552.50 129.38L553.00 129.44L553.50 129.49L554.00 129.53L554.50 129.57L555.00 129.61L555.50 129.64L556.00 129.67L556.50 129.70L557.00 129.73L557.50 129.75L558.00 129.78L558.50 129.81L559.00 129.84L559.50 129.87L560.00 129.92L560.50 129.97L561.00 130.03L561.50 130.12L562.00 130.23L562.50 130.37L563.00 130.53L563.50 130.72L564.00 130.93L564.50 131.17L565.00 131.42L565.50 131.68L566.00 131.96L566.50 132.24L567.00 132.54L567.50 132.84L568.00 133.15L568.50 133.47L569.00 133.80L569.50 134.13L570.00 134.45L570.50 134.77L571.00 135.08L571.50 135.39L572.00 135.68L572.50 135.97L573.00 136.24L573.50 136.51L574.00 136.76L574.50 137.01L575.00 137.25L575.50 137.48L576.00 137.70L576.50 137.90L577.00 138.10L577.50 138.28L578.00 138.46L578.50 138.62L579.00 138.78L579.50 138.94L580.00 139.10L580.50 139.26L581.00 139.42L581.50 139.59L582.00 139.77L582.50 139.96L583.00 140.17L583.50 140.39L584.00 140.63L584.50 140.88L585.00 141.14L585.50 141.42L586.00 141.71L586.50 142.01L587.00 142.33L587.50 142.66L588.00 143.00L588.50 143.35L589.00 143.71L589.50 144.08L590.00 144.46L590.50 144.84L591.00 145.24L591.50 145.64L592.00 146.04L592.50 146.45L593.00 146.87L593.50 147.29L594.00 147.72L594.50 148.14L595.00 148.57L595.50 149.01L596.00 149.44L596.50 149.87L597.00 150.31L597.50 150.74L598.00 151.18L598.50 151.61L599.00 152.04L599.50 152.46L600.00 152.88L600.50 153.30L601.00 153.71L601.50 154.12L602.00 154.52L602.50 154.92L603.00 155.30L603.50 155.68L604.00 156.05L604.50 156.42L605.00 156.77L605.50 157.12L606.00 157.45L606.50 157.78L607.00 158.11L607.50 158.43L608.00 158.74L608.50 159.06L609.00 159.37L609.50 159.68L610.00 159.99L610.50 160.30L611.00 160.60L611.50 160.91L612.00 161.22L612.50 161.53L613.00 161.83L613.50 162.14L614.00 162.44L614.50 162.74L615.00 163.04L615.50 163.34L616.00 163.64L616.50 163.94L617.00 164.24L617.50 164.53L618.00 164.83L618.50 165.12L619.00 165.41L619.50 165.70L620.00 165.98L620.50 166.27L621.00 166.55L621.50 166.83L622.00 167.11L622.50 167.39L623.00 167.67L623.50 167.94L624.00 168.21L624.50 168.48L625.00 168.74L625.50 169.01L626.00 169.27L626.50 169.53L627.00 169.78L627.50 170.04L628.00 170.29L628.50 170.53L629.00 170.78L629.50 171.02L630.00 171.26L630.50 171.49L631.00 171.72L631.50 171.95L632.00 172.18L632.50 172.40L633.00 172.62L633.50 172.83L634.00 173.05L634.50 173.25L635.00 173.46L635.50 173.66L636.00 173.85L636.50 174.05L637.00 174.24L637.50 174.42L638.00 174.60L638.50 174.78L639.00 174.95L639.50 175.12L640.00 175.29L640.50 175.45L641.00 175.62L641.50 175.78L642.00 175.94L642.50 176.10L643.00 176.26L643.50 176.42L644.00 176.58L644.50 176.74L645.00 176.89L645.50 177.05L646.00 177.21L646.50 177.36L647.00 177.52L647.50 177.67L648.00 177.83L648.50 177.98L649.00 178.13L649.50 178.29L650.00 178.44L650.50 178.59L651.00 178.74L651.50 178.89L652.00 179.03L652.50 179.18L653.00 179.33L653.50 179.47L654.00 179.62L654.50 179.76L655.00 179.90L655.50 180.04L656.00 180.18L656.50 180.32L657.00 180.46L657.50 180.60L658.00 180.73L658.50 180.87L659.00 181.00L659.50 181.13L660.00 181.26L660.50 181.39L661.00 181.52L661.50 181.64L662.00 181.77L662.50 181.89L663.00 182.01L663.50 182.13L664.00 182.25L664.50 182.37L665.00 182.49L665.50 182.60L666.00 182.71L666.50 182.82L667.00 182.93L667.50 183.04L668.00 183.15L668.50 183.25L669.00 183.35L669.50 183.45L670.00 183.55L670.50 183.65L671.00 183.74L671.50 183.83L672.00 183.93L672.50 184.01L673.00 184.10L673.50 184.19L674.00 184.27L674.50 184.35L675.00 184.43L675.50 184.50L676.00 184.58L676.50 184.65L677.00 184.72L677.50 184.79L678.00 184.85L678.50 184.91L679.00 184.97L679.50 185.03L680.00 185.09L680.50 185.14L681.00 185.19L681.50 185.24L682.00 185.29L682.50 185.33L683.00 185.37L683.50 185.40L684.00 185.43L684.50 185.46L685.00 185.48" fill="none" stroke="#F79646" stroke-width="2.4" stroke-linejoin="round" stroke-linecap="round"/><path d="M440.00 169.38L440.50 168.81L441.00 168.10L441.50 167.28L442.00 166.35L442.50 165.35L443.00 164.29L443.50 163.19L444.00 162.04L444.50 160.87L445.00 159.67L445.50 158.44L446.00 157.19L446.50 155.93L447.00 154.66L447.50 153.38L448.00 152.11L448.50 150.83L449.00 149.56L449.50 148.30L450.00 147.05L450.50 145.79L451.00 144.54L451.50 143.30L452.00 142.05L452.50 140.80L453.00 139.55L453.50 138.29L454.00 137.03L454.50 135.75L455.00 134.47L455.50 133.17L456.00 131.87L456.50 130.55L457.00 129.21L457.50 127.88L458.00 126.54L458.50 125.21L459.00 123.89L459.50 122.60L460.00 121.34L460.50 120.12L461.00 118.93L461.50 117.77L462.00 116.63L462.50 115.50L463.00 114.36L463.50 113.21L464.00 112.04L464.50 110.84L465.00 109.62L465.50 108.38L466.00 107.14L466.50 105.89L467.00 104.64L467.50 103.41L468.00 102.18L468.50 100.97L469.00 99.77L469.50 98.59L470.00 97.42L470.50 96.27L471.00 95.13L471.50 94.01L472.00 92.90L472.50 91.82L473.00 90.74L473.50 89.70L474.00 88.67L474.50 87.68L475.00 86.73L475.50 85.82L476.00 84.96L476.50 84.14L477.00 83.38L477.50 82.66L478.00 81.98L478.50 81.35L479.00 80.76L479.50 80.21L480.00 79.69L480.50 79.20L481.00 78.75L481.50 78.31L482.00 77.91L482.50 77.51L483.00 77.12L483.50 76.74L484.00 76.34L484.50 75.95L485.00 75.56L485.50 75.18L486.00 74.83L486.50 74.53L487.00 74.28L487.50 74.09L488.00 73.97L488.50 73.91L489.00 73.89L489.50 73.91L490.00 73.96L490.50 74.02L491.00 74.11L491.50 74.21L492.00 74.34L492.50 74.48L493.00 74.65L493.50 74.84L494.00 75.07L494.50 75.34L495.00 75.65L495.50 75.98L496.00 76.36L496.50 76.76L497.00 77.19L497.50 77.65L498.00 78.14L498.50 78.66L499.00 79.21L499.50 79.79L500.00 80.41L500.50 81.05L501.00 81.71L501.50 82.40L502.00 83.10L502.50 83.81L503.00 84.54L503.50 85.27L504.00 86.02L504.50 86.77L505.00 87.53L505.50 88.30L506.00 89.07L506.50 89.85L507.00 90.62L507.50 91.39L508.00 92.15L508.50 92.91L509.00 93.66L509.50 94.41L510.00 95.15L510.50 95.89L511.00 96.62L511.50 97.36L512.00 98.09L512.50 98.83L513.00 99.58L513.50 100.34L514.00 101.11L514.50 101.89L515.00 102.69L515.50 103.50L516.00 104.33L516.50 105.17L517.00 106.01L517.50 106.86L518.00 107.69L518.50 108.52L519.00 109.33L519.50 110.11L520.00 110.87L520.50 111.60L521.00 112.30L521.50 112.99L522.00 113.65L522.50 114.29L523.00 114.91L523.50 115.52L524.00 116.11L524.50 116.68L525.00 117.23L525.50 117.77L526.00 118.30L526.50 118.81L527.00 119.31L527.50 119.80L528.00 120.27L528.50 120.73L529.00 121.18L529.50 121.61L530.00 122.04L530.50 122.45L531.00 122.85L531.50 123.25L532.00 123.63L532.50 124.00L533.00 124.36L533.50 124.72L534.00 125.07L534.50 125.40L535.00 125.73L535.50 126.06L536.00 126.37L536.50 126.68L537.00 126.98L537.50 127.28L538.00 127.57L538.50 127.86L539.00 128.14L539.50 128.42L540.00 128.69L540.50 128.95L541.00 129.20L541.50 129.44L542.00 129.66L542.50 129.87L543.00 130.07L543.50 130.24L544.00 130.40L544.50 130.55L545.00 130.69L545.50 130.81L546.00 130.93L546.50 131.04L547.00 131.14L547.50 131.24L548.00 131.33L548.50 131.42L549.00 131.50L549.50 131.58L550.00 131.65L550.50 131.72L551.00 131.78L551.50 131.84L552.00 131.89L552.50 131.94L553.00 131.99L553.50 132.03L554.00 132.07L554.50 132.10L555.00 132.14L555.50 132.17L556.00 132.20L556.50 132.24L557.00 132.27L557.50 132.31L558.00 132.35L558.50 132.39L559.00 132.44L559.50 132.50L560.00 132.56L560.50 132.62L561.00 132.70L561.50 132.78L562.00 132.86L562.50 132.96L563.00 133.06L563.50 133.17L564.00 133.28L564.50 133.40L565.00 133.52L565.50 133.65L566.00 133.78L566.50 133.91L567.00 134.05L567.50 134.19L568.00 134.34L568.50 134.50L569.00 134.66L569.50 134.82L570.00 135.00L570.50 135.18L571.00 135.37L571.50 135.56L572.00 135.76L572.50 135.96L573.00 136.17L573.50 136.39L574.00 136.60L574.50 136.83L575.00 137.05L575.50 137.29L576.00 137.52L576.50 137.76L577.00 138.01L577.50 138.26L578.00 138.52L578.50 138.78L579.00 139.05L579.50 139.32L580.00 139.60L580.50 139.89L581.00 140.18L581.50 140.48L582.00 140.78L582.50 141.08L583.00 141.39L583.50 141.71L584.00 142.03L584.50 142.35L585.00 142.67L585.50 143.00L586.00 143.34L586.50 143.67L587.00 144.01L587.50 144.35L588.00 144.69L588.50 145.04L589.00 145.39L589.50 145.74L590.00 146.09L590.50 146.44L591.00 146.79L591.50 147.15L592.00 147.51L592.50 147.86L593.00 148.22L593.50 148.57L594.00 148.93L594.50 149.29L595.00 149.64L595.50 150.00L596.00 150.35L596.50 150.71L597.00 151.06L597.50 151.41L598.00 151.76L598.50 152.11L599.00 152.45L599.50 152.80L600.00 153.14L600.50 153.48L601.00 153.81L601.50 154.14L602.00 154.47L602.50 154.80L603.00 155.12L603.50 155.44L604.00 155.75L604.50 156.06L605.00 156.37L605.50 156.67L606.00 156.97L606.50 157.26L607.00 157.56L607.50 157.85L608.00 158.14L608.50 158.43L609.00 158.72L609.50 159.02L610.00 159.31L610.50 159.60L611.00 159.89L611.50 160.18L612.00 160.48L612.50 160.77L613.00 161.06L613.50 161.36L614.00 161.65L614.50 161.94L615.00 162.24L615.50 162.53L616.00 162.82L616.50 163.11L617.00 163.40L617.50 163.69L618.00 163.98L618.50 164.27L619.00 164.56L619.50 164.84L620.00 165.13L620.50 165.41L621.00 165.69L621.50 165.97L622.00 166.25L622.50 166.53L623.00 166.80L623.50 167.08L624.00 167.35L624.50 167.62L625.00 167.89L625.50 168.15L626.00 168.41L626.50 168.67L627.00 168.93L627.50 169.19L628.00 169.44L628.50 169.69L629.00 169.94L629.50 170.18L630.00 170.42L630.50 170.66L631.00 170.89L631.50 171.12L632.00 171.35L632.50 171.57L633.00 171.79L633.50 172.01L634.00 172.22L634.50 172.43L635.00 172.64L635.50 172.84L636.00 173.03L636.50 173.22L637.00 173.41L637.50 173.60L638.00 173.77L638.50 173.95L639.00 174.12L639.50 174.29L640.00 174.45L640.50 174.61L641.00 174.77L641.50 174.93L642.00 175.09L642.50 175.24L643.00 175.40L643.50 175.56L644.00 175.71L644.50 175.86L645.00 176.02L645.50 176.17L646.00 176.32L646.50 176.48L647.00 176.63L647.50 176.78L648.00 176.93L648.50 177.08L649.00 177.23L649.50 177.38L650.00 177.52L650.50 177.67L651.00 177.82L651.50 177.96L652.00 178.11L652.50 178.25L653.00 178.39L653.50 178.53L654.00 178.67L654.50 178.81L655.00 178.95L655.50 179.09L656.00 179.23L656.50 179.36L657.00 179.50L657.50 179.63L658.00 179.76L658.50 179.89L659.00 180.02L659.50 180.15L660.00 180.28L660.50 180.40L661.00 180.53L661.50 180.65L662.00 180.77L662.50 180.89L663.00 181.01L663.50 181.13L664.00 181.24L664.50 181.36L665.00 181.47L665.50 181.58L666.00 181.69L666.50 181.80L667.00 181.90L667.50 182.01L668.00 182.11L668.50 182.21L669.00 182.31L669.50 182.41L670.00 182.50L670.50 182.60L671.00 182.69L671.50 182.78L672.00 182.86L672.50 182.95L673.00 183.03L673.50 183.12L674.00 183.20L674.50 183.27L675.00 183.35L675.50 183.42L676.00 183.49L676.50 183.56L677.00 183.63L677.50 183.69L678.00 183.76L678.50 183.82L679.00 183.87L679.50 183.93L680.00 183.98L680.50 184.03L681.00 184.08L681.50 184.12L682.00 184.17L682.50 184.21L683.00 184.24L683.50 184.28L684.00 184.30L684.50 184.33L685.00 184.35" fill="none" stroke="#2C4D75" stroke-width="2.4" stroke-linejoin="round" stroke-linecap="round"/><path d="M440.00 172.62L440.50 172.10L441.00 171.45L441.50 170.69L442.00 169.85L442.50 168.93L443.00 167.96L443.50 166.95L444.00 165.91L444.50 164.84L445.00 163.74L445.50 162.63L446.00 161.49L446.50 160.34L447.00 159.19L447.50 158.03L448.00 156.86L448.50 155.70L449.00 154.54L449.50 153.38L450.00 152.23L450.50 151.08L451.00 149.92L451.50 148.77L452.00 147.62L452.50 146.46L453.00 145.30L453.50 144.13L454.00 142.96L454.50 141.78L455.00 140.59L455.50 139.39L456.00 138.18L456.50 136.97L457.00 135.74L457.50 134.51L458.00 133.29L458.50 132.07L459.00 130.86L459.50 129.68L460.00 128.53L460.50 127.40L461.00 126.31L461.50 125.24L462.00 124.19L462.50 123.15L463.00 122.10L463.50 121.04L464.00 119.97L464.50 118.87L465.00 117.76L465.50 116.63L466.00 115.49L466.50 114.35L467.00 113.21L467.50 112.09L468.00 110.97L468.50 109.86L469.00 108.76L469.50 107.67L470.00 106.59L470.50 105.52L471.00 104.46L471.50 103.42L472.00 102.39L472.50 101.37L473.00 100.37L473.50 99.39L474.00 98.43L474.50 97.50L475.00 96.60L475.50 95.74L476.00 94.92L476.50 94.15L477.00 93.42L477.50 92.73L478.00 92.09L478.50 91.48L479.00 90.91L479.50 90.38L480.00 89.89L480.50 89.42L481.00 88.98L481.50 88.58L482.00 88.19L482.50 87.83L483.00 87.49L483.50 87.17L484.00 86.86L484.50 86.56L485.00 86.27L485.50 85.99L486.00 85.71L486.50 85.43L487.00 85.17L487.50 84.90L488.00 84.65L488.50 84.41L489.00 84.18L489.50 83.97L490.00 83.78L490.50 83.61L491.00 83.46L491.50 83.35L492.00 83.27L492.50 83.23L493.00 83.23L493.50 83.27L494.00 83.37L494.50 83.51L495.00 83.71L495.50 83.94L496.00 84.22L496.50 84.52L497.00 84.86L497.50 85.22L498.00 85.61L498.50 86.03L499.00 86.47L499.50 86.95L500.00 87.46L500.50 88.00L501.00 88.57L501.50 89.17L502.00 89.81L502.50 90.47L503.00 91.18L503.50 91.91L504.00 92.68L504.50 93.49L505.00 94.32L505.50 95.17L506.00 96.04L506.50 96.91L507.00 97.77L507.50 98.62L508.00 99.45L508.50 100.25L509.00 101.04L509.50 101.81L510.00 102.56L510.50 103.29L511.00 104.02L511.50 104.74L512.00 105.45L512.50 106.16L513.00 106.87L513.50 107.58L514.00 108.30L514.50 109.02L515.00 109.75L515.50 110.49L516.00 111.23L516.50 111.98L517.00 112.72L517.50 113.46L518.00 114.18L518.50 114.88L519.00 115.55L519.50 116.20L520.00 116.83L520.50 117.42L521.00 118.00L521.50 118.55L522.00 119.08L522.50 119.59L523.00 120.09L523.50 120.58L524.00 121.07L524.50 121.54L525.00 122.01L525.50 122.47L526.00 122.92L526.50 123.37L527.00 123.82L527.50 124.25L528.00 124.68L528.50 125.10L529.00 125.51L529.50 125.90L530.00 126.28L530.50 126.66L531.00 127.01L531.50 127.36L532.00 127.70L532.50 128.02L533.00 128.34L533.50 128.65L534.00 128.95L534.50 129.24L535.00 129.52L535.50 129.80L536.00 130.07L536.50 130.33L537.00 130.58L537.50 130.83L538.00 131.08L538.50 131.32L539.00 131.56L539.50 131.79L540.00 132.01L540.50 132.22L541.00 132.41L541.50 132.59L542.00 132.75L542.50 132.90L543.00 133.04L543.50 133.16L544.00 133.27L544.50 133.37L545.00 133.46L545.50 133.55L546.00 133.63L546.50 133.71L547.00 133.78L547.50 133.85L548.00 133.91L548.50 133.97L549.00 134.02L549.50 134.06L550.00 134.10L550.50 134.13L551.00 134.14L551.50 134.15L552.00 134.15L552.50 134.14L553.00 134.13L553.50 134.10L554.00 134.07L554.50 134.03L555.00 133.98L555.50 133.93L556.00 133.89L556.50 133.84L557.00 133.79L557.50 133.75L558.00 133.71L558.50 133.69L559.00 133.67L559.50 133.66L560.00 133.67L560.50 133.69L561.00 133.72L561.50 133.77L562.00 133.83L562.50 133.90L563.00 133.98L563.50 134.07L564.00 134.17L564.50 134.27L565.00 134.37L565.50 134.48L566.00 134.60L566.50 134.72L567.00 134.84L567.50 134.96L568.00 135.09L568.50 135.23L569.00 135.37L569.50 135.52L570.00 135.68L570.50 135.84L571.00 136.01L571.50 136.18L572.00 136.36L572.50 136.54L573.00 136.73L573.50 136.92L574.00 137.12L574.50 137.32L575.00 137.52L575.50 137.73L576.00 137.95L576.50 138.17L577.00 138.39L577.50 138.63L578.00 138.86L578.50 139.11L579.00 139.36L579.50 139.62L580.00 139.88L580.50 140.15L581.00 140.42L581.50 140.69L582.00 140.98L582.50 141.26L583.00 141.55L583.50 141.85L584.00 142.15L584.50 142.45L585.00 142.76L585.50 143.07L586.00 143.38L586.50 143.70L587.00 144.02L587.50 144.34L588.00 144.67L588.50 144.99L589.00 145.32L589.50 145.65L590.00 145.99L590.50 146.32L591.00 146.66L591.50 146.99L592.00 147.33L592.50 147.67L593.00 148.01L593.50 148.35L594.00 148.69L594.50 149.03L595.00 149.37L595.50 149.71L596.00 150.05L596.50 150.39L597.00 150.72L597.50 151.06L598.00 151.40L598.50 151.73L599.00 152.06L599.50 152.39L600.00 152.72L600.50 153.04L601.00 153.37L601.50 153.69L602.00 154.01L602.50 154.32L603.00 154.63L603.50 154.94L604.00 155.25L604.50 155.55L605.00 155.85L605.50 156.14L606.00 156.43L606.50 156.72L607.00 157.01L607.50 157.30L608.00 157.58L608.50 157.87L609.00 158.16L609.50 158.44L610.00 158.73L610.50 159.02L611.00 159.31L611.50 159.61L612.00 159.90L612.50 160.19L613.00 160.49L613.50 160.78L614.00 161.07L614.50 161.37L615.00 161.66L615.50 161.96L616.00 162.25L616.50 162.55L617.00 162.84L617.50 163.13L618.00 163.43L618.50 163.72L619.00 164.01L619.50 164.30L620.00 164.59L620.50 164.88L621.00 165.16L621.50 165.45L622.00 165.74L622.50 166.02L623.00 166.30L623.50 166.58L624.00 166.86L624.50 167.13L625.00 167.40L625.50 167.68L626.00 167.95L626.50 168.21L627.00 168.48L627.50 168.74L628.00 169.00L628.50 169.25L629.00 169.50L629.50 169.75L630.00 170.00L630.50 170.24L631.00 170.48L631.50 170.72L632.00 170.95L632.50 171.18L633.00 171.41L633.50 171.63L634.00 171.85L634.50 172.06L635.00 172.27L635.50 172.48L636.00 172.68L636.50 172.87L637.00 173.06L637.50 173.25L638.00 173.43L638.50 173.61L639.00 173.78L639.50 173.95L640.00 174.12L640.50 174.28L641.00 174.44L641.50 174.60L642.00 174.76L642.50 174.92L643.00 175.07L643.50 175.23L644.00 175.38L644.50 175.54L645.00 175.70L645.50 175.85L646.00 176.00L646.50 176.16L647.00 176.31L647.50 176.46L648.00 176.61L648.50 176.76L649.00 176.91L649.50 177.06L650.00 177.21L650.50 177.36L651.00 177.51L651.50 177.65L652.00 177.80L652.50 177.94L653.00 178.09L653.50 178.23L654.00 178.37L654.50 178.51L655.00 178.65L655.50 178.79L656.00 178.93L656.50 179.07L657.00 179.20L657.50 179.34L658.00 179.47L658.50 179.60L659.00 179.73L659.50 179.86L660.00 179.99L660.50 180.11L661.00 180.24L661.50 180.36L662.00 180.48L662.50 180.61L663.00 180.73L663.50 180.84L664.00 180.96L664.50 181.07L665.00 181.19L665.50 181.30L666.00 181.41L666.50 181.52L667.00 181.62L667.50 181.73L668.00 181.83L668.50 181.93L669.00 182.03L669.50 182.13L670.00 182.23L670.50 182.32L671.00 182.41L671.50 182.50L672.00 182.59L672.50 182.67L673.00 182.76L673.50 182.84L674.00 182.92L674.50 183.00L675.00 183.07L675.50 183.15L676.00 183.22L676.50 183.29L677.00 183.35L677.50 183.42L678.00 183.48L678.50 183.54L679.00 183.60L679.50 183.65L680.00 183.70L680.50 183.75L681.00 183.80L681.50 183.85L682.00 183.89L682.50 183.93L683.00 183.96L683.50 183.99L684.00 184.02L684.50 184.05L685.00 184.06" fill="none" stroke="#772C2A" stroke-width="2.4" stroke-linejoin="round" stroke-linecap="round"/><path d="M440.00 176.87L440.50 176.41L441.00 175.84L441.50 175.18L442.00 174.43L442.50 173.63L443.00 172.78L443.50 171.89L444.00 170.98L444.50 170.05L445.00 169.10L445.50 168.12L446.00 167.14L446.50 166.14L447.00 165.13L447.50 164.12L448.00 163.10L448.50 162.09L449.00 161.07L449.50 160.05L450.00 159.03L450.50 158.01L451.00 156.98L451.50 155.96L452.00 154.93L452.50 153.89L453.00 152.85L453.50 151.80L454.00 150.75L454.50 149.69L455.00 148.62L455.50 147.55L456.00 146.48L456.50 145.40L457.00 144.31L457.50 143.23L458.00 142.15L458.50 141.07L459.00 140.01L459.50 138.97L460.00 137.96L460.50 136.96L461.00 135.99L461.50 135.04L462.00 134.11L462.50 133.18L463.00 132.26L463.50 131.32L464.00 130.37L464.50 129.41L465.00 128.43L465.50 127.45L466.00 126.45L466.50 125.46L467.00 124.47L467.50 123.48L468.00 122.50L468.50 121.52L469.00 120.55L469.50 119.58L470.00 118.62L470.50 117.66L471.00 116.71L471.50 115.77L472.00 114.84L472.50 113.92L473.00 113.01L473.50 112.11L474.00 111.24L474.50 110.38L475.00 109.56L475.50 108.76L476.00 108.00L476.50 107.28L477.00 106.60L477.50 105.95L478.00 105.34L478.50 104.77L479.00 104.24L479.50 103.74L480.00 103.27L480.50 102.83L481.00 102.43L481.50 102.04L482.00 101.68L482.50 101.34L483.00 101.01L483.50 100.69L484.00 100.37L484.50 100.06L485.00 99.76L485.50 99.45L486.00 99.16L486.50 98.88L487.00 98.63L487.50 98.40L488.00 98.21L488.50 98.06L489.00 97.94L489.50 97.86L490.00 97.82L490.50 97.80L491.00 97.81L491.50 97.83L492.00 97.86L492.50 97.91L493.00 97.96L493.50 98.03L494.00 98.10L494.50 98.19L495.00 98.29L495.50 98.42L496.00 98.57L496.50 98.74L497.00 98.93L497.50 99.16L498.00 99.40L498.50 99.68L499.00 99.97L499.50 100.30L500.00 100.65L500.50 101.03L501.00 101.45L501.50 101.90L502.00 102.39L502.50 102.90L503.00 103.45L503.50 104.02L504.00 104.61L504.50 105.23L505.00 105.87L505.50 106.52L506.00 107.19L506.50 107.86L507.00 108.53L507.50 109.20L508.00 109.85L508.50 110.48L509.00 111.10L509.50 111.70L510.00 112.29L510.50 112.87L511.00 113.43L511.50 113.99L512.00 114.55L512.50 115.09L513.00 115.64L513.50 116.18L514.00 116.72L514.50 117.26L515.00 117.80L515.50 118.34L516.00 118.88L516.50 119.41L517.00 119.95L517.50 120.48L518.00 121.00L518.50 121.53L519.00 122.05L519.50 122.56L520.00 123.07L520.50 123.57L521.00 124.07L521.50 124.56L522.00 125.05L522.50 125.53L523.00 126.01L523.50 126.48L524.00 126.96L524.50 127.42L525.00 127.89L525.50 128.36L526.00 128.83L526.50 129.30L527.00 129.77L527.50 130.24L528.00 130.70L528.50 131.17L529.00 131.63L529.50 132.07L530.00 132.50L530.50 132.92L531.00 133.32L531.50 133.70L532.00 134.06L532.50 134.41L533.00 134.74L533.50 135.05L534.00 135.35L534.50 135.64L535.00 135.90L535.50 136.15L536.00 136.38L536.50 136.59L537.00 136.79L537.50 136.96L538.00 137.13L538.50 137.28L539.00 137.41L539.50 137.54L540.00 137.65L540.50 137.75L541.00 137.84L541.50 137.91L542.00 137.96L542.50 138.00L543.00 138.02L543.50 138.02L544.00 138.01L544.50 137.98L545.00 137.95L545.50 137.90L546.00 137.85L546.50 137.78L547.00 137.72L547.50 137.65L548.00 137.57L548.50 137.49L549.00 137.41L549.50 137.32L550.00 137.22L550.50 137.13L551.00 137.02L551.50 136.92L552.00 136.82L552.50 136.72L553.00 136.63L553.50 136.54L554.00 136.46L554.50 136.39L555.00 136.32L555.50 136.25L556.00 136.19L556.50 136.14L557.00 136.09L557.50 136.05L558.00 136.01L558.50 135.98L559.00 135.96L559.50 135.95L560.00 135.95L560.50 135.96L561.00 135.98L561.50 136.00L562.00 136.04L562.50 136.08L563.00 136.13L563.50 136.18L564.00 136.24L564.50 136.30L565.00 136.36L565.50 136.44L566.00 136.51L566.50 136.59L567.00 136.68L567.50 136.78L568.00 136.88L568.50 136.99L569.00 137.10L569.50 137.22L570.00 137.35L570.50 137.48L571.00 137.62L571.50 137.76L572.00 137.90L572.50 138.05L573.00 138.20L573.50 138.36L574.00 138.52L574.50 138.69L575.00 138.86L575.50 139.03L576.00 139.22L576.50 139.41L577.00 139.60L577.50 139.80L578.00 140.01L578.50 140.22L579.00 140.44L579.50 140.67L580.00 140.90L580.50 141.13L581.00 141.38L581.50 141.62L582.00 141.87L582.50 142.13L583.00 142.39L583.50 142.65L584.00 142.92L584.50 143.19L585.00 143.47L585.50 143.75L586.00 144.03L586.50 144.32L587.00 144.61L587.50 144.90L588.00 145.19L588.50 145.49L589.00 145.79L589.50 146.09L590.00 146.39L590.50 146.70L591.00 147.01L591.50 147.32L592.00 147.62L592.50 147.94L593.00 148.25L593.50 148.56L594.00 148.87L594.50 149.19L595.00 149.50L595.50 149.81L596.00 150.13L596.50 150.44L597.00 150.75L597.50 151.06L598.00 151.37L598.50 151.68L599.00 151.99L599.50 152.30L600.00 152.60L600.50 152.91L601.00 153.21L601.50 153.51L602.00 153.81L602.50 154.10L603.00 154.39L603.50 154.68L604.00 154.97L604.50 155.25L605.00 155.54L605.50 155.81L606.00 156.09L606.50 156.36L607.00 156.64L607.50 156.91L608.00 157.18L608.50 157.46L609.00 157.73L609.50 158.01L610.00 158.29L610.50 158.57L611.00 158.85L611.50 159.13L612.00 159.41L612.50 159.70L613.00 159.98L613.50 160.27L614.00 160.56L614.50 160.85L615.00 161.13L615.50 161.42L616.00 161.71L616.50 162.00L617.00 162.29L617.50 162.58L618.00 162.87L618.50 163.16L619.00 163.45L619.50 163.74L620.00 164.02L620.50 164.31L621.00 164.60L621.50 164.88L622.00 165.16L622.50 165.45L623.00 165.73L623.50 166.01L624.00 166.28L624.50 166.56L625.00 166.84L625.50 167.11L626.00 167.38L626.50 167.65L627.00 167.91L627.50 168.17L628.00 168.43L628.50 168.69L629.00 168.95L629.50 169.20L630.00 169.45L630.50 169.69L631.00 169.94L631.50 170.18L632.00 170.41L632.50 170.64L633.00 170.87L633.50 171.10L634.00 171.32L634.50 171.53L635.00 171.74L635.50 171.95L636.00 172.15L636.50 172.35L637.00 172.55L637.50 172.74L638.00 172.92L638.50 173.10L639.00 173.27L639.50 173.45L640.00 173.61L640.50 173.78L641.00 173.94L641.50 174.10L642.00 174.26L642.50 174.42L643.00 174.58L643.50 174.74L644.00 174.90L644.50 175.05L645.00 175.21L645.50 175.37L646.00 175.52L646.50 175.68L647.00 175.83L647.50 175.99L648.00 176.14L648.50 176.29L649.00 176.44L649.50 176.59L650.00 176.74L650.50 176.89L651.00 177.04L651.50 177.19L652.00 177.34L652.50 177.48L653.00 177.63L653.50 177.77L654.00 177.92L654.50 178.06L655.00 178.20L655.50 178.34L656.00 178.48L656.50 178.62L657.00 178.75L657.50 178.89L658.00 179.02L658.50 179.16L659.00 179.29L659.50 179.42L660.00 179.55L660.50 179.68L661.00 179.81L661.50 179.93L662.00 180.06L662.50 180.18L663.00 180.30L663.50 180.42L664.00 180.54L664.50 180.65L665.00 180.77L665.50 180.88L666.00 181.00L666.50 181.11L667.00 181.21L667.50 181.32L668.00 181.43L668.50 181.53L669.00 181.63L669.50 181.73L670.00 181.83L670.50 181.93L671.00 182.02L671.50 182.12L672.00 182.21L672.50 182.29L673.00 182.38L673.50 182.47L674.00 182.55L674.50 182.63L675.00 182.71L675.50 182.79L676.00 182.86L676.50 182.93L677.00 183.00L677.50 183.07L678.00 183.14L678.50 183.20L679.00 183.26L679.50 183.32L680.00 183.37L680.50 183.43L681.00 183.48L681.50 183.53L682.00 183.58L682.50 183.62L683.00 183.66L683.50 183.70L684.00 183.73L684.50 183.75L685.00 183.77" fill="none" stroke="#5F7530" stroke-width="2.4" stroke-linejoin="round" stroke-linecap="round"/><path d="M440.00 180.40L440.50 179.99L441.00 179.48L441.50 178.89L442.00 178.23L442.50 177.52L443.00 176.77L443.50 175.99L444.00 175.19L444.50 174.37L445.00 173.53L445.50 172.68L446.00 171.81L446.50 170.94L447.00 170.06L447.50 169.17L448.00 168.27L448.50 167.38L449.00 166.48L449.50 165.57L450.00 164.67L450.50 163.75L451.00 162.83L451.50 161.91L452.00 160.98L452.50 160.04L453.00 159.10L453.50 158.15L454.00 157.20L454.50 156.24L455.00 155.28L455.50 154.32L456.00 153.35L456.50 152.38L457.00 151.41L457.50 150.45L458.00 149.49L458.50 148.53L459.00 147.60L459.50 146.67L460.00 145.77L460.50 144.88L461.00 144.02L461.50 143.17L462.00 142.33L462.50 141.50L463.00 140.67L463.50 139.84L464.00 138.99L464.50 138.14L465.00 137.28L465.50 136.41L466.00 135.54L466.50 134.66L467.00 133.79L467.50 132.92L468.00 132.05L468.50 131.18L469.00 130.31L469.50 129.45L470.00 128.58L470.50 127.72L471.00 126.86L471.50 126.00L472.00 125.15L472.50 124.31L473.00 123.47L473.50 122.65L474.00 121.84L474.50 121.06L475.00 120.29L475.50 119.55L476.00 118.84L476.50 118.16L477.00 117.52L477.50 116.91L478.00 116.33L478.50 115.79L479.00 115.28L479.50 114.81L480.00 114.36L480.50 113.95L481.00 113.56L481.50 113.20L482.00 112.86L482.50 112.54L483.00 112.24L483.50 111.96L484.00 111.69L484.50 111.44L485.00 111.19L485.50 110.96L486.00 110.73L486.50 110.51L487.00 110.30L487.50 110.09L488.00 109.90L488.50 109.72L489.00 109.56L489.50 109.42L490.00 109.29L490.50 109.19L491.00 109.11L491.50 109.05L492.00 109.03L492.50 109.02L493.00 109.04L493.50 109.08L494.00 109.15L494.50 109.23L495.00 109.33L495.50 109.45L496.00 109.58L496.50 109.74L497.00 109.91L497.50 110.11L498.00 110.34L498.50 110.59L499.00 110.87L499.50 111.17L500.00 111.49L500.50 111.83L501.00 112.19L501.50 112.56L502.00 112.95L502.50 113.35L503.00 113.76L503.50 114.19L504.00 114.62L504.50 115.05L505.00 115.50L505.50 115.94L506.00 116.39L506.50 116.85L507.00 117.32L507.50 117.80L508.00 118.30L508.50 118.82L509.00 119.37L509.50 119.93L510.00 120.51L510.50 121.11L511.00 121.72L511.50 122.35L512.00 122.98L512.50 123.61L513.00 124.25L513.50 124.89L514.00 125.53L514.50 126.16L515.00 126.79L515.50 127.42L516.00 128.05L516.50 128.67L517.00 129.29L517.50 129.91L518.00 130.51L518.50 131.11L519.00 131.69L519.50 132.25L520.00 132.79L520.50 133.32L521.00 133.84L521.50 134.33L522.00 134.81L522.50 135.28L523.00 135.72L523.50 136.15L524.00 136.55L524.50 136.92L525.00 137.26L525.50 137.58L526.00 137.86L526.50 138.11L527.00 138.34L527.50 138.54L528.00 138.72L528.50 138.89L529.00 139.05L529.50 139.20L530.00 139.34L530.50 139.47L531.00 139.60L531.50 139.73L532.00 139.86L532.50 139.98L533.00 140.10L533.50 140.22L534.00 140.34L534.50 140.45L535.00 140.55L535.50 140.63L536.00 140.70L536.50 140.76L537.00 140.80L537.50 140.81L538.00 140.82L538.50 140.80L539.00 140.78L539.50 140.74L540.00 140.69L540.50 140.63L541.00 140.57L541.50 140.50L542.00 140.43L542.50 140.36L543.00 140.28L543.50 140.19L544.00 140.10L544.50 140.00L545.00 139.90L545.50 139.80L546.00 139.70L546.50 139.60L547.00 139.51L547.50 139.41L548.00 139.33L548.50 139.25L549.00 139.19L549.50 139.12L550.00 139.07L550.50 139.01L551.00 138.97L551.50 138.92L552.00 138.88L552.50 138.84L553.00 138.79L553.50 138.75L554.00 138.71L554.50 138.67L555.00 138.62L555.50 138.57L556.00 138.53L556.50 138.48L557.00 138.43L557.50 138.38L558.00 138.34L558.50 138.30L559.00 138.26L559.50 138.22L560.00 138.19L560.50 138.17L561.00 138.15L561.50 138.14L562.00 138.13L562.50 138.13L563.00 138.14L563.50 138.16L564.00 138.18L564.50 138.20L565.00 138.23L565.50 138.27L566.00 138.31L566.50 138.35L567.00 138.40L567.50 138.45L568.00 138.50L568.50 138.56L569.00 138.62L569.50 138.68L570.00 138.74L570.50 138.81L571.00 138.88L571.50 138.95L572.00 139.02L572.50 139.10L573.00 139.19L573.50 139.28L574.00 139.38L574.50 139.48L575.00 139.60L575.50 139.72L576.00 139.85L576.50 139.99L577.00 140.13L577.50 140.28L578.00 140.44L578.50 140.61L579.00 140.78L579.50 140.96L580.00 141.15L580.50 141.34L581.00 141.54L581.50 141.74L582.00 141.95L582.50 142.16L583.00 142.38L583.50 142.60L584.00 142.83L584.50 143.07L585.00 143.31L585.50 143.55L586.00 143.79L586.50 144.04L587.00 144.30L587.50 144.55L588.00 144.81L588.50 145.08L589.00 145.34L589.50 145.61L590.00 145.88L590.50 146.15L591.00 146.43L591.50 146.71L592.00 146.98L592.50 147.26L593.00 147.55L593.50 147.83L594.00 148.11L594.50 148.39L595.00 148.68L595.50 148.96L596.00 149.25L596.50 149.53L597.00 149.82L597.50 150.10L598.00 150.38L598.50 150.66L599.00 150.95L599.50 151.23L600.00 151.50L600.50 151.78L601.00 152.05L601.50 152.33L602.00 152.60L602.50 152.87L603.00 153.13L603.50 153.39L604.00 153.65L604.50 153.91L605.00 154.16L605.50 154.42L606.00 154.66L606.50 154.91L607.00 155.16L607.50 155.41L608.00 155.65L608.50 155.90L609.00 156.15L609.50 156.40L610.00 156.66L610.50 156.92L611.00 157.17L611.50 157.44L612.00 157.70L612.50 157.96L613.00 158.23L613.50 158.50L614.00 158.77L614.50 159.04L615.00 159.31L615.50 159.58L616.00 159.85L616.50 160.13L617.00 160.40L617.50 160.68L618.00 160.95L618.50 161.23L619.00 161.50L619.50 161.78L620.00 162.05L620.50 162.33L621.00 162.60L621.50 162.87L622.00 163.15L622.50 163.42L623.00 163.69L623.50 163.96L624.00 164.23L624.50 164.50L625.00 164.76L625.50 165.03L626.00 165.29L626.50 165.55L627.00 165.81L627.50 166.07L628.00 166.32L628.50 166.58L629.00 166.83L629.50 167.07L630.00 167.32L630.50 167.56L631.00 167.80L631.50 168.03L632.00 168.26L632.50 168.49L633.00 168.72L633.50 168.94L634.00 169.16L634.50 169.37L635.00 169.58L635.50 169.79L636.00 169.99L636.50 170.18L637.00 170.38L637.50 170.56L638.00 170.75L638.50 170.93L639.00 171.10L639.50 171.27L640.00 171.44L640.50 171.60L641.00 171.77L641.50 171.93L642.00 172.09L642.50 172.25L643.00 172.40L643.50 172.56L644.00 172.72L644.50 172.87L645.00 173.03L645.50 173.19L646.00 173.34L646.50 173.50L647.00 173.65L647.50 173.80L648.00 173.95L648.50 174.11L649.00 174.26L649.50 174.41L650.00 174.56L650.50 174.71L651.00 174.85L651.50 175.00L652.00 175.15L652.50 175.29L653.00 175.44L653.50 175.58L654.00 175.72L654.50 175.87L655.00 176.01L655.50 176.15L656.00 176.29L656.50 176.42L657.00 176.56L657.50 176.70L658.00 176.83L658.50 176.96L659.00 177.10L659.50 177.23L660.00 177.36L660.50 177.49L661.00 177.61L661.50 177.74L662.00 177.86L662.50 177.99L663.00 178.11L663.50 178.23L664.00 178.35L664.50 178.47L665.00 178.59L665.50 178.70L666.00 178.81L666.50 178.93L667.00 179.04L667.50 179.15L668.00 179.25L668.50 179.36L669.00 179.46L669.50 179.57L670.00 179.67L670.50 179.77L671.00 179.87L671.50 179.96L672.00 180.06L672.50 180.15L673.00 180.24L673.50 180.33L674.00 180.41L674.50 180.50L675.00 180.58L675.50 180.66L676.00 180.74L676.50 180.82L677.00 180.90L677.50 180.97L678.00 181.04L678.50 181.11L679.00 181.18L679.50 181.24L680.00 181.31L680.50 181.37L681.00 181.43L681.50 181.48L682.00 181.54L682.50 181.59L683.00 181.64L683.50 181.68L684.00 181.72L684.50 181.75L685.00 181.78" fill="none" stroke="#4D3B62" stroke-width="2.4" stroke-linejoin="round" stroke-linecap="round"/><path d="M440.00 183.52L440.50 183.15L441.00 182.70L441.50 182.18L442.00 181.59L442.50 180.96L443.00 180.30L443.50 179.61L444.00 178.91L444.50 178.19L445.00 177.45L445.50 176.71L446.00 175.95L446.50 175.19L447.00 174.41L447.50 173.64L448.00 172.85L448.50 172.06L449.00 171.27L449.50 170.46L450.00 169.65L450.50 168.84L451.00 168.01L451.50 167.18L452.00 166.34L452.50 165.49L453.00 164.64L453.50 163.78L454.00 162.91L454.50 162.04L455.00 161.17L455.50 160.30L456.00 159.43L456.50 158.56L457.00 157.70L457.50 156.83L458.00 155.98L458.50 155.14L459.00 154.31L459.50 153.49L460.00 152.68L460.50 151.90L461.00 151.12L461.50 150.36L462.00 149.61L462.50 148.86L463.00 148.12L463.50 147.37L464.00 146.62L464.50 145.87L465.00 145.11L465.50 144.34L466.00 143.58L466.50 142.81L467.00 142.04L467.50 141.27L468.00 140.51L468.50 139.73L469.00 138.96L469.50 138.18L470.00 137.40L470.50 136.62L471.00 135.84L471.50 135.06L472.00 134.28L472.50 133.51L473.00 132.74L473.50 131.98L474.00 131.23L474.50 130.50L475.00 129.79L475.50 129.10L476.00 128.43L476.50 127.79L477.00 127.18L477.50 126.60L478.00 126.05L478.50 125.54L479.00 125.05L479.50 124.60L480.00 124.18L480.50 123.78L481.00 123.42L481.50 123.07L482.00 122.75L482.50 122.45L483.00 122.17L483.50 121.91L484.00 121.66L484.50 121.43L485.00 121.21L485.50 121.00L486.00 120.80L486.50 120.61L487.00 120.42L487.50 120.24L488.00 120.07L488.50 119.90L489.00 119.74L489.50 119.60L490.00 119.46L490.50 119.34L491.00 119.23L491.50 119.13L492.00 119.05L492.50 118.98L493.00 118.94L493.50 118.91L494.00 118.90L494.50 118.92L495.00 118.95L495.50 119.01L496.00 119.08L496.50 119.18L497.00 119.29L497.50 119.41L498.00 119.56L498.50 119.72L499.00 119.89L499.50 120.09L500.00 120.31L500.50 120.55L501.00 120.82L501.50 121.11L502.00 121.41L502.50 121.74L503.00 122.10L503.50 122.47L504.00 122.86L504.50 123.27L505.00 123.70L505.50 124.14L506.00 124.58L506.50 125.04L507.00 125.49L507.50 125.93L508.00 126.37L508.50 126.79L509.00 127.21L509.50 127.62L510.00 128.02L510.50 128.41L511.00 128.80L511.50 129.19L512.00 129.58L512.50 129.98L513.00 130.38L513.50 130.79L514.00 131.21L514.50 131.64L515.00 132.09L515.50 132.55L516.00 133.03L516.50 133.52L517.00 134.01L517.50 134.52L518.00 135.02L518.50 135.51L519.00 135.99L519.50 136.45L520.00 136.89L520.50 137.31L521.00 137.71L521.50 138.09L522.00 138.45L522.50 138.79L523.00 139.12L523.50 139.43L524.00 139.73L524.50 140.01L525.00 140.27L525.50 140.52L526.00 140.75L526.50 140.97L527.00 141.17L527.50 141.37L528.00 141.55L528.50 141.72L529.00 141.88L529.50 142.03L530.00 142.17L530.50 142.29L531.00 142.40L531.50 142.50L532.00 142.59L532.50 142.67L533.00 142.74L533.50 142.80L534.00 142.86L534.50 142.91L535.00 142.95L535.50 142.99L536.00 143.01L536.50 143.03L537.00 143.03L537.50 143.02L538.00 142.99L538.50 142.94L539.00 142.88L539.50 142.80L540.00 142.71L540.50 142.61L541.00 142.49L541.50 142.37L542.00 142.24L542.50 142.11L543.00 141.98L543.50 141.83L544.00 141.69L544.50 141.53L545.00 141.38L545.50 141.22L546.00 141.06L546.50 140.91L547.00 140.76L547.50 140.62L548.00 140.49L548.50 140.37L549.00 140.26L549.50 140.15L550.00 140.05L550.50 139.96L551.00 139.87L551.50 139.79L552.00 139.71L552.50 139.64L553.00 139.58L553.50 139.52L554.00 139.46L554.50 139.42L555.00 139.38L555.50 139.35L556.00 139.32L556.50 139.30L557.00 139.29L557.50 139.28L558.00 139.27L558.50 139.26L559.00 139.25L559.50 139.24L560.00 139.23L560.50 139.23L561.00 139.22L561.50 139.22L562.00 139.21L562.50 139.21L563.00 139.21L563.50 139.21L564.00 139.21L564.50 139.21L565.00 139.21L565.50 139.22L566.00 139.23L566.50 139.25L567.00 139.27L567.50 139.29L568.00 139.32L568.50 139.35L569.00 139.38L569.50 139.42L570.00 139.46L570.50 139.51L571.00 139.56L571.50 139.61L572.00 139.66L572.50 139.71L573.00 139.77L573.50 139.83L574.00 139.89L574.50 139.95L575.00 140.02L575.50 140.09L576.00 140.17L576.50 140.26L577.00 140.35L577.50 140.45L578.00 140.56L578.50 140.68L579.00 140.80L579.50 140.93L580.00 141.07L580.50 141.22L581.00 141.37L581.50 141.53L582.00 141.70L582.50 141.87L583.00 142.05L583.50 142.24L584.00 142.43L584.50 142.63L585.00 142.83L585.50 143.04L586.00 143.25L586.50 143.47L587.00 143.69L587.50 143.92L588.00 144.15L588.50 144.38L589.00 144.62L589.50 144.86L590.00 145.11L590.50 145.36L591.00 145.61L591.50 145.86L592.00 146.12L592.50 146.37L593.00 146.63L593.50 146.90L594.00 147.16L594.50 147.42L595.00 147.69L595.50 147.96L596.00 148.22L596.50 148.49L597.00 148.76L597.50 149.03L598.00 149.30L598.50 149.56L599.00 149.83L599.50 150.10L600.00 150.36L600.50 150.63L601.00 150.89L601.50 151.15L602.00 151.41L602.50 151.67L603.00 151.92L603.50 152.17L604.00 152.42L604.50 152.67L605.00 152.91L605.50 153.16L606.00 153.40L606.50 153.64L607.00 153.87L607.50 154.11L608.00 154.35L608.50 154.59L609.00 154.84L609.50 155.08L610.00 155.33L610.50 155.58L611.00 155.84L611.50 156.09L612.00 156.35L612.50 156.61L613.00 156.87L613.50 157.14L614.00 157.40L614.50 157.67L615.00 157.94L615.50 158.21L616.00 158.48L616.50 158.75L617.00 159.02L617.50 159.30L618.00 159.57L618.50 159.85L619.00 160.12L619.50 160.39L620.00 160.67L620.50 160.94L621.00 161.22L621.50 161.49L622.00 161.76L622.50 162.04L623.00 162.31L623.50 162.58L624.00 162.85L624.50 163.12L625.00 163.39L625.50 163.65L626.00 163.92L626.50 164.18L627.00 164.44L627.50 164.70L628.00 164.95L628.50 165.21L629.00 165.46L629.50 165.71L630.00 165.95L630.50 166.20L631.00 166.44L631.50 166.67L632.00 166.91L632.50 167.14L633.00 167.36L633.50 167.59L634.00 167.81L634.50 168.02L635.00 168.23L635.50 168.44L636.00 168.64L636.50 168.84L637.00 169.03L637.50 169.22L638.00 169.41L638.50 169.59L639.00 169.76L639.50 169.93L640.00 170.10L640.50 170.27L641.00 170.43L641.50 170.59L642.00 170.75L642.50 170.91L643.00 171.07L643.50 171.23L644.00 171.38L644.50 171.54L645.00 171.70L645.50 171.85L646.00 172.01L646.50 172.16L647.00 172.32L647.50 172.47L648.00 172.62L648.50 172.77L649.00 172.93L649.50 173.08L650.00 173.23L650.50 173.38L651.00 173.52L651.50 173.67L652.00 173.82L652.50 173.96L653.00 174.11L653.50 174.25L654.00 174.40L654.50 174.54L655.00 174.68L655.50 174.82L656.00 174.96L656.50 175.10L657.00 175.23L657.50 175.37L658.00 175.51L658.50 175.64L659.00 175.77L659.50 175.90L660.00 176.03L660.50 176.16L661.00 176.29L661.50 176.42L662.00 176.54L662.50 176.67L663.00 176.79L663.50 176.91L664.00 177.03L664.50 177.15L665.00 177.27L665.50 177.38L666.00 177.50L666.50 177.61L667.00 177.72L667.50 177.83L668.00 177.94L668.50 178.05L669.00 178.15L669.50 178.26L670.00 178.36L670.50 178.46L671.00 178.56L671.50 178.65L672.00 178.75L672.50 178.84L673.00 178.93L673.50 179.02L674.00 179.11L674.50 179.20L675.00 179.28L675.50 179.36L676.00 179.44L676.50 179.52L677.00 179.60L677.50 179.67L678.00 179.75L678.50 179.82L679.00 179.88L679.50 179.95L680.00 180.02L680.50 180.08L681.00 180.14L681.50 180.20L682.00 180.25L682.50 180.30L683.00 180.35L683.50 180.40L684.00 180.44L684.50 180.47L685.00 180.50" fill="none" stroke="#276A7C" stroke-width="2.4" stroke-linejoin="round" stroke-linecap="round"/><path d="M440.00 185.91L440.50 185.58L441.00 185.17L441.50 184.69L442.00 184.17L442.50 183.60L443.00 183.00L443.50 182.39L444.00 181.76L444.50 181.11L445.00 180.46L445.50 179.80L446.00 179.12L446.50 178.44L447.00 177.75L447.50 177.06L448.00 176.36L448.50 175.65L449.00 174.93L449.50 174.21L450.00 173.48L450.50 172.73L451.00 171.98L451.50 171.22L452.00 170.44L452.50 169.66L453.00 168.88L453.50 168.08L454.00 167.29L454.50 166.49L455.00 165.69L455.50 164.89L456.00 164.09L456.50 163.30L457.00 162.51L457.50 161.73L458.00 160.96L458.50 160.20L459.00 159.45L459.50 158.71L460.00 157.98L460.50 157.27L461.00 156.56L461.50 155.87L462.00 155.18L462.50 154.50L463.00 153.82L463.50 153.15L464.00 152.47L464.50 151.79L465.00 151.11L465.50 150.42L466.00 149.74L466.50 149.05L467.00 148.37L467.50 147.68L468.00 146.98L468.50 146.29L469.00 145.58L469.50 144.88L470.00 144.16L470.50 143.45L471.00 142.72L471.50 142.00L472.00 141.28L472.50 140.56L473.00 139.84L473.50 139.13L474.00 138.43L474.50 137.74L475.00 137.07L475.50 136.42L476.00 135.78L476.50 135.17L477.00 134.59L477.50 134.03L478.00 133.51L478.50 133.01L479.00 132.54L479.50 132.11L480.00 131.70L480.50 131.32L481.00 130.97L481.50 130.64L482.00 130.33L482.50 130.02L483.00 129.72L483.50 129.42L484.00 129.12L484.50 128.80L485.00 128.49L485.50 128.17L486.00 127.87L486.50 127.58L487.00 127.33L487.50 127.12L488.00 126.95L488.50 126.83L489.00 126.76L489.50 126.72L490.00 126.70L490.50 126.71L491.00 126.74L491.50 126.77L492.00 126.81L492.50 126.86L493.00 126.91L493.50 126.97L494.00 127.03L494.50 127.11L495.00 127.19L495.50 127.28L496.00 127.38L496.50 127.49L497.00 127.61L497.50 127.74L498.00 127.89L498.50 128.04L499.00 128.21L499.50 128.39L500.00 128.59L500.50 128.81L501.00 129.04L501.50 129.30L502.00 129.59L502.50 129.89L503.00 130.21L503.50 130.55L504.00 130.91L504.50 131.28L505.00 131.66L505.50 132.04L506.00 132.43L506.50 132.83L507.00 133.22L507.50 133.62L508.00 134.02L508.50 134.42L509.00 134.83L509.50 135.25L510.00 135.67L510.50 136.09L511.00 136.52L511.50 136.95L512.00 137.37L512.50 137.79L513.00 138.20L513.50 138.61L514.00 138.99L514.50 139.36L515.00 139.72L515.50 140.07L516.00 140.39L516.50 140.71L517.00 141.02L517.50 141.32L518.00 141.61L518.50 141.90L519.00 142.19L519.50 142.48L520.00 142.77L520.50 143.06L521.00 143.36L521.50 143.66L522.00 143.97L522.50 144.27L523.00 144.58L523.50 144.89L524.00 145.19L524.50 145.49L525.00 145.79L525.50 146.09L526.00 146.38L526.50 146.67L527.00 146.96L527.50 147.25L528.00 147.53L528.50 147.81L529.00 148.07L529.50 148.32L530.00 148.55L530.50 148.76L531.00 148.95L531.50 149.11L532.00 149.26L532.50 149.38L533.00 149.49L533.50 149.57L534.00 149.65L534.50 149.70L535.00 149.73L535.50 149.74L536.00 149.71L536.50 149.64L537.00 149.53L537.50 149.37L538.00 149.17L538.50 148.93L539.00 148.66L539.50 148.36L540.00 148.04L540.50 147.70L541.00 147.36L541.50 147.01L542.00 146.65L542.50 146.29L543.00 145.93L543.50 145.58L544.00 145.23L544.50 144.90L545.00 144.58L545.50 144.26L546.00 143.96L546.50 143.67L547.00 143.40L547.50 143.13L548.00 142.89L548.50 142.65L549.00 142.44L549.50 142.24L550.00 142.07L550.50 141.91L551.00 141.76L551.50 141.63L552.00 141.52L552.50 141.41L553.00 141.31L553.50 141.21L554.00 141.12L554.50 141.04L555.00 140.96L555.50 140.89L556.00 140.82L556.50 140.76L557.00 140.70L557.50 140.65L558.00 140.60L558.50 140.55L559.00 140.51L559.50 140.47L560.00 140.43L560.50 140.40L561.00 140.36L561.50 140.33L562.00 140.30L562.50 140.27L563.00 140.24L563.50 140.22L564.00 140.20L564.50 140.17L565.00 140.16L565.50 140.14L566.00 140.13L566.50 140.12L567.00 140.11L567.50 140.11L568.00 140.10L568.50 140.10L569.00 140.10L569.50 140.10L570.00 140.10L570.50 140.10L571.00 140.10L571.50 140.10L572.00 140.10L572.50 140.10L573.00 140.10L573.50 140.10L574.00 140.10L574.50 140.11L575.00 140.11L575.50 140.12L576.00 140.13L576.50 140.15L577.00 140.18L577.50 140.22L578.00 140.27L578.50 140.33L579.00 140.40L579.50 140.48L580.00 140.57L580.50 140.67L581.00 140.78L581.50 140.90L582.00 141.03L582.50 141.17L583.00 141.32L583.50 141.48L584.00 141.64L584.50 141.81L585.00 141.99L585.50 142.18L586.00 142.37L586.50 142.58L587.00 142.78L587.50 143.00L588.00 143.22L588.50 143.44L589.00 143.67L589.50 143.91L590.00 144.15L590.50 144.39L591.00 144.64L591.50 144.89L592.00 145.15L592.50 145.41L593.00 145.67L593.50 145.93L594.00 146.20L594.50 146.47L595.00 146.74L595.50 147.01L596.00 147.28L596.50 147.55L597.00 147.83L597.50 148.10L598.00 148.37L598.50 148.64L599.00 148.92L599.50 149.19L600.00 149.46L600.50 149.73L601.00 149.99L601.50 150.26L602.00 150.52L602.50 150.78L603.00 151.03L603.50 151.28L604.00 151.53L604.50 151.78L605.00 152.02L605.50 152.25L606.00 152.49L606.50 152.72L607.00 152.95L607.50 153.18L608.00 153.41L608.50 153.65L609.00 153.88L609.50 154.12L610.00 154.36L610.50 154.60L611.00 154.84L611.50 155.09L612.00 155.34L612.50 155.59L613.00 155.84L613.50 156.10L614.00 156.36L614.50 156.61L615.00 156.87L615.50 157.13L616.00 157.40L616.50 157.66L617.00 157.92L617.50 158.19L618.00 158.45L618.50 158.72L619.00 158.98L619.50 159.25L620.00 159.52L620.50 159.78L621.00 160.05L621.50 160.31L622.00 160.58L622.50 160.84L623.00 161.11L623.50 161.37L624.00 161.63L624.50 161.90L625.00 162.16L625.50 162.42L626.00 162.67L626.50 162.93L627.00 163.18L627.50 163.43L628.00 163.69L628.50 163.93L629.00 164.18L629.50 164.42L630.00 164.66L630.50 164.90L631.00 165.14L631.50 165.37L632.00 165.60L632.50 165.83L633.00 166.05L633.50 166.27L634.00 166.48L634.50 166.70L635.00 166.91L635.50 167.11L636.00 167.31L636.50 167.51L637.00 167.70L637.50 167.89L638.00 168.07L638.50 168.25L639.00 168.42L639.50 168.60L640.00 168.76L640.50 168.93L641.00 169.09L641.50 169.25L642.00 169.41L642.50 169.57L643.00 169.73L643.50 169.89L644.00 170.05L644.50 170.21L645.00 170.36L645.50 170.52L646.00 170.67L646.50 170.83L647.00 170.98L647.50 171.14L648.00 171.29L648.50 171.44L649.00 171.59L649.50 171.75L650.00 171.90L650.50 172.05L651.00 172.19L651.50 172.34L652.00 172.49L652.50 172.64L653.00 172.78L653.50 172.93L654.00 173.07L654.50 173.21L655.00 173.35L655.50 173.49L656.00 173.63L656.50 173.77L657.00 173.91L657.50 174.05L658.00 174.18L658.50 174.32L659.00 174.45L659.50 174.58L660.00 174.72L660.50 174.85L661.00 174.98L661.50 175.10L662.00 175.23L662.50 175.36L663.00 175.48L663.50 175.60L664.00 175.72L664.50 175.85L665.00 175.96L665.50 176.08L666.00 176.20L666.50 176.31L667.00 176.43L667.50 176.54L668.00 176.65L668.50 176.76L669.00 176.87L669.50 176.97L670.00 177.08L670.50 177.18L671.00 177.28L671.50 177.38L672.00 177.48L672.50 177.58L673.00 177.67L673.50 177.76L674.00 177.86L674.50 177.95L675.00 178.03L675.50 178.12L676.00 178.21L676.50 178.29L677.00 178.37L677.50 178.45L678.00 178.53L678.50 178.60L679.00 178.68L679.50 178.75L680.00 178.82L680.50 178.88L681.00 178.95L681.50 179.01L682.00 179.08L682.50 179.13L683.00 179.19L683.50 179.24L684.00 179.28L684.50 179.32L685.00 179.35" fill="none" stroke="#B65708" stroke-width="2.4" stroke-linejoin="round" stroke-linecap="round"/><path d="M440.00 188.70L440.50 188.41L441.00 188.05L441.50 187.64L442.00 187.18L442.50 186.69L443.00 186.17L443.50 185.64L444.00 185.09L444.50 184.54L445.00 183.98L445.50 183.41L446.00 182.83L446.50 182.25L447.00 181.66L447.50 181.06L448.00 180.46L448.50 179.85L449.00 179.22L449.50 178.59L450.00 177.95L450.50 177.29L451.00 176.62L451.50 175.94L452.00 175.25L452.50 174.54L453.00 173.84L453.50 173.12L454.00 172.40L454.50 171.68L455.00 170.97L455.50 170.25L456.00 169.54L456.50 168.84L457.00 168.14L457.50 167.46L458.00 166.78L458.50 166.11L459.00 165.46L459.50 164.81L460.00 164.18L460.50 163.55L461.00 162.93L461.50 162.31L462.00 161.70L462.50 161.10L463.00 160.50L463.50 159.90L464.00 159.31L464.50 158.71L465.00 158.12L465.50 157.53L466.00 156.94L466.50 156.35L467.00 155.76L467.50 155.16L468.00 154.56L468.50 153.95L469.00 153.33L469.50 152.70L470.00 152.07L470.50 151.42L471.00 150.77L471.50 150.12L472.00 149.46L472.50 148.80L473.00 148.14L473.50 147.49L474.00 146.84L474.50 146.21L475.00 145.58L475.50 144.97L476.00 144.38L476.50 143.80L477.00 143.25L477.50 142.72L478.00 142.22L478.50 141.74L479.00 141.30L479.50 140.88L480.00 140.49L480.50 140.13L481.00 139.80L481.50 139.49L482.00 139.20L482.50 138.93L483.00 138.68L483.50 138.45L484.00 138.24L484.50 138.05L485.00 137.88L485.50 137.72L486.00 137.58L486.50 137.44L487.00 137.31L487.50 137.18L488.00 137.06L488.50 136.94L489.00 136.83L489.50 136.72L490.00 136.61L490.50 136.51L491.00 136.41L491.50 136.32L492.00 136.23L492.50 136.15L493.00 136.08L493.50 136.01L494.00 135.94L494.50 135.88L495.00 135.83L495.50 135.78L496.00 135.74L496.50 135.71L497.00 135.69L497.50 135.68L498.00 135.68L498.50 135.70L499.00 135.75L499.50 135.82L500.00 135.92L500.50 136.05L501.00 136.20L501.50 136.38L502.00 136.59L502.50 136.81L503.00 137.05L503.50 137.30L504.00 137.56L504.50 137.84L505.00 138.13L505.50 138.44L506.00 138.76L506.50 139.09L507.00 139.42L507.50 139.76L508.00 140.10L508.50 140.43L509.00 140.75L509.50 141.07L510.00 141.38L510.50 141.68L511.00 141.98L511.50 142.28L512.00 142.57L512.50 142.86L513.00 143.15L513.50 143.44L514.00 143.73L514.50 144.02L515.00 144.31L515.50 144.61L516.00 144.90L516.50 145.20L517.00 145.50L517.50 145.80L518.00 146.09L518.50 146.39L519.00 146.68L519.50 146.96L520.00 147.25L520.50 147.53L521.00 147.81L521.50 148.08L522.00 148.35L522.50 148.62L523.00 148.88L523.50 149.13L524.00 149.38L524.50 149.62L525.00 149.85L525.50 150.08L526.00 150.29L526.50 150.50L527.00 150.71L527.50 150.90L528.00 151.09L528.50 151.27L529.00 151.44L529.50 151.59L530.00 151.72L530.50 151.82L531.00 151.91L531.50 151.96L532.00 152.00L532.50 152.01L533.00 152.00L533.50 151.98L534.00 151.94L534.50 151.89L535.00 151.84L535.50 151.77L536.00 151.69L536.50 151.61L537.00 151.51L537.50 151.40L538.00 151.27L538.50 151.13L539.00 150.96L539.50 150.79L540.00 150.59L540.50 150.39L541.00 150.18L541.50 149.96L542.00 149.75L542.50 149.53L543.00 149.32L543.50 149.11L544.00 148.90L544.50 148.70L545.00 148.50L545.50 148.29L546.00 148.10L546.50 147.90L547.00 147.71L547.50 147.52L548.00 147.34L548.50 147.17L549.00 147.00L549.50 146.84L550.00 146.68L550.50 146.52L551.00 146.37L551.50 146.22L552.00 146.07L552.50 145.92L553.00 145.76L553.50 145.59L554.00 145.42L554.50 145.23L555.00 145.04L555.50 144.84L556.00 144.63L556.50 144.42L557.00 144.21L557.50 144.00L558.00 143.80L558.50 143.61L559.00 143.43L559.50 143.26L560.00 143.11L560.50 142.97L561.00 142.84L561.50 142.72L562.00 142.61L562.50 142.50L563.00 142.41L563.50 142.31L564.00 142.23L564.50 142.15L565.00 142.07L565.50 142.00L566.00 141.93L566.50 141.86L567.00 141.80L567.50 141.73L568.00 141.68L568.50 141.62L569.00 141.57L569.50 141.53L570.00 141.50L570.50 141.47L571.00 141.45L571.50 141.43L572.00 141.42L572.50 141.42L573.00 141.42L573.50 141.42L574.00 141.43L574.50 141.44L575.00 141.45L575.50 141.46L576.00 141.48L576.50 141.49L577.00 141.51L577.50 141.53L578.00 141.55L578.50 141.57L579.00 141.59L579.50 141.62L580.00 141.64L580.50 141.67L581.00 141.69L581.50 141.72L582.00 141.75L582.50 141.79L583.00 141.83L583.50 141.88L584.00 141.93L584.50 142.00L585.00 142.07L585.50 142.15L586.00 142.25L586.50 142.35L587.00 142.47L587.50 142.60L588.00 142.73L588.50 142.88L589.00 143.03L589.50 143.19L590.00 143.36L590.50 143.54L591.00 143.73L591.50 143.92L592.00 144.12L592.50 144.32L593.00 144.53L593.50 144.75L594.00 144.97L594.50 145.19L595.00 145.42L595.50 145.65L596.00 145.89L596.50 146.13L597.00 146.37L597.50 146.61L598.00 146.86L598.50 147.10L599.00 147.35L599.50 147.60L600.00 147.84L600.50 148.09L601.00 148.34L601.50 148.58L602.00 148.82L602.50 149.07L603.00 149.31L603.50 149.54L604.00 149.78L604.50 150.01L605.00 150.23L605.50 150.46L606.00 150.68L606.50 150.90L607.00 151.11L607.50 151.33L608.00 151.55L608.50 151.77L609.00 151.99L609.50 152.21L610.00 152.43L610.50 152.66L611.00 152.89L611.50 153.12L612.00 153.36L612.50 153.59L613.00 153.83L613.50 154.07L614.00 154.31L614.50 154.55L615.00 154.79L615.50 155.04L616.00 155.28L616.50 155.53L617.00 155.77L617.50 156.02L618.00 156.27L618.50 156.52L619.00 156.77L619.50 157.02L620.00 157.27L620.50 157.52L621.00 157.77L621.50 158.02L622.00 158.27L622.50 158.52L623.00 158.76L623.50 159.01L624.00 159.26L624.50 159.51L625.00 159.75L625.50 160.00L626.00 160.24L626.50 160.48L627.00 160.72L627.50 160.96L628.00 161.20L628.50 161.43L629.00 161.66L629.50 161.89L630.00 162.12L630.50 162.35L631.00 162.58L631.50 162.80L632.00 163.02L632.50 163.23L633.00 163.45L633.50 163.66L634.00 163.87L634.50 164.07L635.00 164.27L635.50 164.47L636.00 164.66L636.50 164.85L637.00 165.04L637.50 165.23L638.00 165.40L638.50 165.58L639.00 165.75L639.50 165.92L640.00 166.09L640.50 166.25L641.00 166.41L641.50 166.57L642.00 166.73L642.50 166.89L643.00 167.05L643.50 167.21L644.00 167.37L644.50 167.52L645.00 167.68L645.50 167.83L646.00 167.99L646.50 168.14L647.00 168.30L647.50 168.45L648.00 168.60L648.50 168.75L649.00 168.90L649.50 169.05L650.00 169.20L650.50 169.35L651.00 169.50L651.50 169.65L652.00 169.79L652.50 169.94L653.00 170.09L653.50 170.23L654.00 170.37L654.50 170.52L655.00 170.66L655.50 170.80L656.00 170.94L656.50 171.08L657.00 171.22L657.50 171.35L658.00 171.49L658.50 171.62L659.00 171.76L659.50 171.89L660.00 172.02L660.50 172.16L661.00 172.29L661.50 172.41L662.00 172.54L662.50 172.67L663.00 172.80L663.50 172.92L664.00 173.04L664.50 173.17L665.00 173.29L665.50 173.41L666.00 173.53L666.50 173.64L667.00 173.76L667.50 173.88L668.00 173.99L668.50 174.10L669.00 174.21L669.50 174.32L670.00 174.43L670.50 174.54L671.00 174.65L671.50 174.75L672.00 174.85L672.50 174.96L673.00 175.06L673.50 175.15L674.00 175.25L674.50 175.35L675.00 175.44L675.50 175.53L676.00 175.63L676.50 175.72L677.00 175.80L677.50 175.89L678.00 175.98L678.50 176.06L679.00 176.14L679.50 176.22L680.00 176.30L680.50 176.38L681.00 176.45L681.50 176.53L682.00 176.60L682.50 176.66L683.00 176.73L683.50 176.79L684.00 176.84L684.50 176.89L685.00 176.92" fill="none" stroke="#729ACA" stroke-width="2.4" stroke-linejoin="round" stroke-linecap="round"/></g>
<text x="427.20" y="35.00" font-size="14.00" text-anchor="end" font-weight="bold" fill="#575757" font-family='"Liberation Serif", serif' >500</text>
<text x="427.20" y="67.70" font-size="14.00" text-anchor="end" font-weight="bold" fill="#575757" font-family='"Liberation Serif", serif' >400</text>
<text x="427.20" y="100.40" font-size="14.00" text-anchor="end" font-weight="bold" fill="#575757" font-family='"Liberation Serif", serif' >300</text>
<text x="427.20" y="134.00" font-size="14.00" text-anchor="end" font-weight="bold" fill="#575757" font-family='"Liberation Serif", serif' >200</text>
<text x="427.20" y="167.00" font-size="14.00" text-anchor="end" font-weight="bold" fill="#575757" font-family='"Liberation Serif", serif' >100</text>
<text x="427.20" y="201.50" font-size="14.00" text-anchor="end" font-weight="bold" fill="#575757" font-family='"Liberation Serif", serif' >0</text>
<text x="439.20" y="218.80" font-size="14.00" text-anchor="middle" font-weight="bold" fill="#575757" font-family='"Liberation Serif", serif' >300</text>
<text x="491.10" y="218.80" font-size="14.00" text-anchor="middle" font-weight="bold" fill="#575757" font-family='"Liberation Serif", serif' >350</text>
<text x="543.70" y="218.80" font-size="14.00" text-anchor="middle" font-weight="bold" fill="#575757" font-family='"Liberation Serif", serif' >400</text>
<text x="594.90" y="218.80" font-size="14.00" text-anchor="middle" font-weight="bold" fill="#575757" font-family='"Liberation Serif", serif' >450</text>
<text x="646.70" y="218.80" font-size="14.00" text-anchor="middle" font-weight="bold" fill="#575757" font-family='"Liberation Serif", serif' >500</text>
<text x="564.80" y="240.60" font-size="16.00" text-anchor="middle" font-weight="bold" fill="#575757" textLength="115.80" lengthAdjust="spacingAndGlyphs" font-family='"Liberation Serif", serif' >Wavelength&#160;&#160;(nm)</text>
<g transform="translate(391.60 97.00) rotate(-90)"><text x="0.00" y="5.28" font-size="16.00" text-anchor="middle" font-weight="bold" fill="#575757" textLength="63.60" lengthAdjust="spacingAndGlyphs" font-family='"Liberation Serif", serif' >F I (a. u.)</text></g>
<text x="567.00" y="15.00" font-size="20.50" text-anchor="middle" font-weight="bold" fill="#000" font-family='"Liberation Serif", serif' >b</text>
<path d="M528.6 1.5V31" stroke="#4A7EBB" stroke-width="1.4" fill="none"/>
<path d="M528.6 39.2L524.3 29.9H532.9Z" fill="#4A7EBB"/>
<path d="M262.5 489.5L262.50 483.20L263.00 482.66L263.50 482.12L264.00 481.58L264.50 481.04L265.00 480.50L265.50 479.98L266.00 479.45L266.50 478.93L267.00 478.40L267.50 477.71L268.00 476.97L268.50 476.24L269.00 475.50L269.50 474.72L270.00 473.94L270.50 473.16L271.00 472.26L271.50 471.34L272.00 470.42L272.50 469.50L273.00 468.44L273.50 467.38L274.00 466.32L274.50 465.22L275.00 464.09L275.50 462.97L276.00 461.84L276.50 460.71L277.00 459.58L277.50 458.45L278.00 457.42L278.50 456.44L279.00 455.47L279.50 454.50L280.00 453.72L280.50 452.94L281.00 452.17L281.50 451.43L282.00 450.74L282.50 450.06L283.00 449.37L283.50 448.69L284.00 448.00L284.50 447.52L285.00 447.04L285.50 446.56L286.00 446.08L286.50 445.60L287.00 445.18L287.50 444.79L288.00 444.39L288.50 444.00L289.00 443.41L289.50 442.82L290.00 442.24L290.50 441.25L291.00 440.00L291.50 438.75L292.00 437.50L292.50 435.94L293.00 434.38L293.50 432.82L294.00 431.17L294.50 429.44L295.00 427.72L295.50 426.00L296.00 424.28L296.50 422.56L297.00 420.83L297.50 418.99L298.00 416.96L298.50 414.93L299.00 412.90L299.50 410.87L300.00 408.85L300.50 406.82L301.00 404.81L301.50 402.85L302.00 400.89L302.50 398.93L303.00 396.96L303.50 395.00L304.00 392.73L304.50 390.46L305.00 388.20L305.50 385.93L306.00 383.66L306.50 381.70L307.00 380.20L307.50 378.70L308.00 377.20L308.50 375.70L309.00 374.20L309.50 372.70L310.00 371.20L310.50 370.23L311.00 371.26L311.50 372.26L312.00 373.25L312.50 374.23L313.00 375.18L313.50 376.11L314.00 377.04L314.50 377.94L315.00 378.84L315.50 379.73L316.00 380.61L316.50 381.48L317.00 382.35L317.50 383.21L318.00 384.07L318.50 384.93L319.00 385.78L319.50 386.62L320.00 387.46L320.50 388.29L321.00 389.11L321.50 389.92L322.00 390.72L322.50 391.50L323.00 392.28L323.50 393.04L324.00 393.79L324.50 394.52L325.00 395.24L325.50 395.94L326.00 396.63L326.50 397.31L327.00 397.97L327.50 398.62L328.00 399.26L328.50 399.89L329.00 400.50L329.50 401.10L330.00 401.70L330.50 402.28L331.00 402.85L331.50 403.41L332.00 403.97L332.50 404.51L333.00 405.05L333.50 405.57L334.00 406.09L334.50 406.60L335.00 407.10L335.50 407.60L336.00 408.08L336.50 408.55L337.00 409.02L337.50 409.47L338.00 409.91L338.50 410.34L339.00 410.76L339.50 411.17L340.00 411.57L340.50 411.95L341.00 412.32L341.50 412.69L342.00 413.04L342.50 413.38L343.00 413.71L343.50 414.04L344.00 414.35L344.50 414.66L345.00 414.96L345.50 415.26L346.00 415.55L346.50 415.83L347.00 416.11L347.50 416.39L348.00 416.66L348.50 416.94L349.00 417.21L349.50 417.47L350.00 417.74L350.50 418.01L351.00 418.27L351.50 418.53L352.00 418.79L352.50 419.05L353.00 419.31L353.50 419.57L354.00 419.82L354.50 420.07L355.00 420.33L355.50 420.58L356.00 420.83L356.50 421.08L357.00 421.33L357.50 421.58L358.00 421.83L358.50 422.08L359.00 422.33L359.50 422.58L360.00 422.84L360.50 423.10L361.00 423.36L361.50 423.62L362.00 423.89L362.50 424.16L363.00 424.43L363.50 424.71L364.00 424.99L364.50 425.27L365.00 425.55L365.50 425.83L366.00 426.11L366.50 426.40L367.00 426.68L367.50 426.96L368.00 427.24L368.50 427.51L369.00 427.78L369.50 428.05L370.00 428.31L370.50 428.58L371.00 428.83L371.50 429.09L372.00 429.34L372.50 429.59L373.00 429.84L373.50 430.09L374.00 430.34L374.50 430.59L375.00 430.84L375.50 431.09L376.00 431.34L376.50 431.59L377.00 431.85L377.50 432.11L378.00 432.38L378.50 432.64L379.00 432.91L379.50 433.19L380.00 433.47L380.50 433.75L381.00 434.03L381.50 434.32L382.00 434.61L382.50 434.91L383.00 435.21L383.50 435.51L384.00 435.81L384.50 436.12L385.00 436.43L385.50 436.74L386.00 437.05L386.50 437.36L387.00 437.68L387.50 438.00L388.00 438.32L388.50 438.65L389.00 438.97L389.50 439.30L390.00 439.63L390.50 439.97L391.00 440.30L391.50 440.64L392.00 440.99L392.50 441.33L393.00 441.68L393.50 442.04L394.00 442.40L394.50 442.76L395.00 443.13L395.50 443.50L396.00 443.88L396.50 444.27L397.00 444.66L397.50 445.06L398.00 445.47L398.50 445.88L399.00 446.31L399.50 446.73L400.00 447.17L400.50 447.61L401.00 448.05L401.50 448.50L402.00 448.95L402.50 449.40L403.00 449.85L403.50 450.30L404.00 450.75L404.50 451.20L405.00 451.65L405.50 452.09L406.00 452.53L406.50 452.97L407.00 453.40L407.50 453.83L408.00 454.26L408.50 454.68L409.00 455.10L409.50 455.52L410.00 455.93L410.50 456.34L411.00 456.75L411.50 457.15L412.00 457.55L412.50 457.95L413.00 458.35L413.50 458.74L414.00 459.14L414.50 459.52L415.00 459.91L415.50 460.29L416.00 460.67L416.50 461.05L417.00 461.43L417.50 461.80L418.00 462.17L418.50 462.54L419.00 462.91L419.50 463.27L420.00 463.63L420.50 463.98L421.00 464.33L421.50 464.68L422.00 465.02L422.50 465.35L423.00 465.68L423.50 466.01L424.00 466.33L424.50 466.64L425.00 466.95L425.50 467.25L426.00 467.54L426.50 467.84L427.00 468.12L427.50 468.40L428.00 468.68L428.50 468.95L429.00 469.21L429.50 469.47L430.00 469.72L430.50 469.97L431.00 470.22L431.50 470.45L432.00 470.68L432.50 470.91L433.00 471.13L433.50 471.34L434.00 471.55L434.50 471.75L435.00 471.94L435.50 472.13L436.00 472.31L436.50 472.49L437.00 472.66L437.50 472.83L438.00 472.99L438.50 473.15L439.00 473.31L439.50 473.46L440.00 473.61L440.50 473.75L441.00 473.89L441.50 474.03L442.00 474.16L442.50 474.29L443.00 474.42L443.50 474.55L444.00 474.67L444.50 474.79L445.00 474.90L445.50 475.02L446.00 475.13L446.50 475.24L447.00 475.35L447.50 475.45L448.00 475.55L448.50 475.65L449.00 475.75L449.50 475.84L450.00 475.93L450.50 476.02L451.00 476.11L451.50 476.19L452.00 476.27L452.50 476.35L453.00 476.42L453.50 476.49L454.00 476.56L454.50 476.62L455.00 476.69L455.50 476.75L456.00 476.81L456.50 476.86L457.00 476.92L457.50 476.97L458.00 477.03L458.50 477.08L459.00 477.13L459.50 477.18L460.00 477.24L460.50 477.29L461.00 477.34L461.50 477.39L462.00 477.44L462.50 477.50L463.00 477.55L463.50 477.61L464.00 477.66L464.50 477.72L465.00 477.77L465.50 477.83L466.00 477.88L466.50 477.94L467.00 478.00L467.50 478.05L468.00 478.11L468.50 478.17L469.00 478.22L469.50 478.28L470.00 478.34L470.50 478.39L471.00 478.44L471.50 478.49L472.00 478.54L472.50 478.59L473.00 478.63L473.50 478.66L474.00 478.69L474 489.5Z" fill="#CCFFFF"/>
<rect x="319.8" y="419.7" width="16.4" height="16.1" fill="#fff"/>
<text x="329.40" y="432.60" font-size="14.50" text-anchor="middle" font-weight="normal" fill="#000" font-family='"Liberation Sans", sans-serif' stroke="#000" stroke-width="0.4">B</text>
<text x="350.40" y="367.60" font-size="14.50" text-anchor="middle" font-weight="normal" fill="#000" font-family='"Liberation Sans", sans-serif' stroke="#000" stroke-width="0.4">A</text>
<path d="M262.50 297.29L263.00 297.32L263.50 297.36L264.00 297.41L264.50 297.47L265.00 297.54L265.50 297.63L266.00 297.73L266.50 297.84L267.00 297.98L267.50 298.14L268.00 298.32L268.50 298.53L269.00 298.76L269.50 299.03L270.00 299.33L270.50 299.67L271.00 300.04L271.50 300.45L272.00 300.90L272.50 301.39L273.00 301.92L273.50 302.49L274.00 303.09L274.50 303.72L275.00 304.38L275.50 305.07L276.00 305.79L276.50 306.53L277.00 307.30L277.50 308.08L278.00 308.88L278.50 309.70L279.00 310.54L279.50 311.38L280.00 312.24L280.50 313.11L281.00 313.99L281.50 314.87L282.00 315.75L282.50 316.63L283.00 317.51L283.50 318.39L284.00 319.27L284.50 320.15L285.00 321.02L285.50 321.89L286.00 322.76L286.50 323.63L287.00 324.50L287.50 325.37L288.00 326.23L288.50 327.10L289.00 327.96L289.50 328.83L290.00 329.70L290.50 330.57L291.00 331.44L291.50 332.32L292.00 333.20L292.50 334.09L293.00 334.99L293.50 335.89L294.00 336.81L294.50 337.74L295.00 338.68L295.50 339.63L296.00 340.59L296.50 341.56L297.00 342.54L297.50 343.53L298.00 344.52L298.50 345.52L299.00 346.52L299.50 347.53L300.00 348.53L300.50 349.54L301.00 350.55L301.50 351.55L302.00 352.56L302.50 353.56L303.00 354.57L303.50 355.58L304.00 356.59L304.50 357.61L305.00 358.63L305.50 359.67L306.00 360.71L306.50 361.76L307.00 362.81L307.50 363.88L308.00 364.95L308.50 366.02L309.00 367.08L309.50 368.14L310.00 369.19L310.50 370.23L311.00 371.26L311.50 372.26L312.00 373.25L312.50 374.23L313.00 375.18L313.50 376.11L314.00 377.04L314.50 377.94L315.00 378.84L315.50 379.73L316.00 380.61L316.50 381.48L317.00 382.35L317.50 383.21L318.00 384.07L318.50 384.93L319.00 385.78L319.50 386.62L320.00 387.46L320.50 388.29L321.00 389.11L321.50 389.92L322.00 390.72L322.50 391.50L323.00 392.28L323.50 393.04L324.00 393.79L324.50 394.52L325.00 395.24L325.50 395.94L326.00 396.63L326.50 397.31L327.00 397.97L327.50 398.62L328.00 399.26L328.50 399.89L329.00 400.50L329.50 401.10L330.00 401.70L330.50 402.28L331.00 402.85L331.50 403.41L332.00 403.97L332.50 404.51L333.00 405.05L333.50 405.57L334.00 406.09L334.50 406.60L335.00 407.10L335.50 407.60L336.00 408.08L336.50 408.55L337.00 409.02L337.50 409.47L338.00 409.91L338.50 410.34L339.00 410.76L339.50 411.17L340.00 411.57L340.50 411.95L341.00 412.32L341.50 412.69L342.00 413.04L342.50 413.38L343.00 413.71L343.50 414.04L344.00 414.35L344.50 414.66L345.00 414.96L345.50 415.26L346.00 415.55L346.50 415.83L347.00 416.11L347.50 416.39L348.00 416.66L348.50 416.94L349.00 417.21L349.50 417.47L350.00 417.74L350.50 418.01L351.00 418.27L351.50 418.53L352.00 418.79L352.50 419.05L353.00 419.31L353.50 419.57L354.00 419.82L354.50 420.07L355.00 420.33L355.50 420.58L356.00 420.83L356.50 421.08L357.00 421.33L357.50 421.58L358.00 421.83L358.50 422.08L359.00 422.33L359.50 422.58L360.00 422.84L360.50 423.10L361.00 423.36L361.50 423.62L362.00 423.89L362.50 424.16L363.00 424.43L363.50 424.71L364.00 424.99L364.50 425.27L365.00 425.55L365.50 425.83L366.00 426.11L366.50 426.40L367.00 426.68L367.50 426.96L368.00 427.24L368.50 427.51L369.00 427.78L369.50 428.05L370.00 428.31L370.50 428.58L371.00 428.83L371.50 429.09L372.00 429.34L372.50 429.59L373.00 429.84L373.50 430.09L374.00 430.34L374.50 430.59L375.00 430.84L375.50 431.09L376.00 431.34L376.50 431.59L377.00 431.85L377.50 432.11L378.00 432.38L378.50 432.64L379.00 432.91L379.50 433.19L380.00 433.47L380.50 433.75L381.00 434.03L381.50 434.32L382.00 434.61L382.50 434.91L383.00 435.21L383.50 435.51L384.00 435.81L384.50 436.12L385.00 436.43L385.50 436.74L386.00 437.05L386.50 437.36L387.00 437.68L387.50 438.00L388.00 438.32L388.50 438.65L389.00 438.97L389.50 439.30L390.00 439.63L390.50 439.97L391.00 440.30L391.50 440.64L392.00 440.99L392.50 441.33L393.00 441.68L393.50 442.04L394.00 442.40L394.50 442.76L395.00 443.13L395.50 443.50L396.00 443.88L396.50 444.27L397.00 444.66L397.50 445.06L398.00 445.47L398.50 445.88L399.00 446.31L399.50 446.73L400.00 447.17L400.50 447.61L401.00 448.05L401.50 448.50L402.00 448.95L402.50 449.40L403.00 449.85L403.50 450.30L404.00 450.75L404.50 451.20L405.00 451.65L405.50 452.09L406.00 452.53L406.50 452.97L407.00 453.40L407.50 453.83L408.00 454.26L408.50 454.68L409.00 455.10L409.50 455.52L410.00 455.93L410.50 456.34L411.00 456.75L411.50 457.15L412.00 457.55L412.50 457.95L413.00 458.35L413.50 458.74L414.00 459.14L414.50 459.52L415.00 459.91L415.50 460.29L416.00 460.67L416.50 461.05L417.00 461.43L417.50 461.80L418.00 462.17L418.50 462.54L419.00 462.91L419.50 463.27L420.00 463.63L420.50 463.98L421.00 464.33L421.50 464.68L422.00 465.02L422.50 465.35L423.00 465.68L423.50 466.01L424.00 466.33L424.50 466.64L425.00 466.95L425.50 467.25L426.00 467.54L426.50 467.84L427.00 468.12L427.50 468.40L428.00 468.68L428.50 468.95L429.00 469.21L429.50 469.47L430.00 469.72L430.50 469.97L431.00 470.22L431.50 470.45L432.00 470.68L432.50 470.91L433.00 471.13L433.50 471.34L434.00 471.55L434.50 471.75L435.00 471.94L435.50 472.13L436.00 472.31L436.50 472.49L437.00 472.66L437.50 472.83L438.00 472.99L438.50 473.15L439.00 473.31L439.50 473.46L440.00 473.61L440.50 473.75L441.00 473.89L441.50 474.03L442.00 474.16L442.50 474.29L443.00 474.42L443.50 474.55L444.00 474.67L444.50 474.79L445.00 474.90L445.50 475.02L446.00 475.13L446.50 475.24L447.00 475.35L447.50 475.45L448.00 475.55L448.50 475.65L449.00 475.75L449.50 475.84L450.00 475.93L450.50 476.02L451.00 476.11L451.50 476.19L452.00 476.27L452.50 476.35L453.00 476.42L453.50 476.49L454.00 476.56L454.50 476.62L455.00 476.69L455.50 476.75L456.00 476.81L456.50 476.86L457.00 476.92L457.50 476.97L458.00 477.03L458.50 477.08L459.00 477.13L459.50 477.18L460.00 477.24L460.50 477.29L461.00 477.34L461.50 477.39L462.00 477.44L462.50 477.50L463.00 477.55L463.50 477.61L464.00 477.66L464.50 477.72L465.00 477.77L465.50 477.83L466.00 477.88L466.50 477.94L467.00 478.00L467.50 478.05L468.00 478.11L468.50 478.17L469.00 478.22L469.50 478.28L470.00 478.34L470.50 478.39L471.00 478.44L471.50 478.49L472.00 478.54L472.50 478.59L473.00 478.63L473.50 478.66L474.00 478.69" fill="none" stroke="#9BBB59" stroke-width="2.4" stroke-linejoin="round"/>
<path d="M262.50 482.73L263.90 482.00L265.30 480.12L266.70 478.96L268.10 477.35L269.50 474.76L270.90 472.45L272.30 469.40L273.70 466.70L275.10 463.87L276.50 460.91L277.90 457.95L279.30 454.76L280.70 452.16L282.10 450.37L283.50 449.14L284.90 446.82L286.30 445.74L287.70 445.11L289.10 442.77L290.50 441.36L291.90 438.25L293.30 433.15L294.70 428.81L296.10 424.38L297.50 418.59L298.90 413.33L300.30 407.90L301.70 402.25L303.10 396.53L304.50 390.14L305.90 384.10L307.30 379.16L308.70 375.08L310.10 370.75L311.50 368.15L312.90 365.25L314.30 361.93L315.70 359.39L317.10 356.15L318.50 353.30L319.90 350.14L321.30 347.71L322.70 344.82L324.10 342.36L325.50 340.46L326.90 338.22L328.30 337.15L329.70 334.95L331.10 334.04L332.50 331.38L333.90 329.08L335.30 327.80L336.70 326.24L338.10 324.38L339.50 322.10L340.90 320.90L342.30 320.58L343.70 319.36L345.10 318.53L346.50 317.79L347.90 316.77L349.30 315.77L350.70 315.74L352.10 315.68L353.50 314.91L354.90 316.22L356.30 316.71L357.70 317.11L359.10 317.11L360.50 317.61L361.90 316.38L363.30 316.45L364.70 318.48L366.10 320.63L367.50 321.22L368.90 321.63L370.30 325.08L371.70 328.94L373.10 332.44L374.50 335.54L375.90 339.55L377.30 344.19L378.70 349.00L380.10 352.55L381.50 355.76L382.90 358.92L384.30 361.44L385.70 363.85L387.10 366.61L388.50 370.43L389.90 374.78L391.30 377.99L392.70 382.21L394.10 384.35L395.50 387.37L396.90 392.91L398.30 398.03L399.70 399.22L401.10 401.60L402.50 403.50L403.90 407.67L405.30 411.20L406.70 412.35L408.10 414.10L409.50 415.69L410.90 417.03L412.30 418.19L413.70 419.41L415.10 423.39L416.50 426.95L417.90 428.80L419.30 431.14L420.70 432.82L422.10 434.46L423.50 435.99L424.90 436.85L426.30 438.72L427.70 440.95L429.10 442.13L430.50 443.99L431.90 446.26L433.30 447.73L434.70 450.33L436.10 452.33L437.50 453.35L438.90 455.97L440.30 458.58L441.70 461.10L443.10 462.66L444.50 464.46L445.90 466.41L447.30 467.62L448.70 468.01L450.10 469.29L451.50 470.29L452.90 471.13L454.30 471.09L455.70 472.04L457.10 472.06L458.50 471.65L459.90 471.10L461.30 470.83L462.70 471.29L464.10 472.19L465.50 471.68L466.90 471.96L468.30 472.71L469.70 473.19L471.10 474.09L472.50 474.76L473.90 476.13" fill="none" stroke="#4A7EBB" stroke-width="2.4" stroke-linejoin="round"/>
<path d="M262.4 297V489.6H474.2V296.8" fill="none" stroke="#2e2e2e" stroke-width="1.3"/>
<path d="M474.2 296.8H479.3" stroke="#2e2e2e" stroke-width="1.25"/>
<path d="M474.2 335.3H479.3" stroke="#2e2e2e" stroke-width="1.25"/>
<path d="M474.2 374.9H479.3" stroke="#2e2e2e" stroke-width="1.25"/>
<path d="M474.2 413.4H479.3" stroke="#2e2e2e" stroke-width="1.25"/>
<path d="M474.2 451.3H479.3" stroke="#2e2e2e" stroke-width="1.25"/>
<text x="250.20" y="319.40" font-size="14.00" text-anchor="end" font-weight="bold" fill="#575757" font-family='"Liberation Serif", serif' >1</text>
<text x="250.20" y="354.70" font-size="14.00" text-anchor="end" font-weight="bold" fill="#575757" font-family='"Liberation Serif", serif' >0.8</text>
<text x="250.20" y="390.00" font-size="14.00" text-anchor="end" font-weight="bold" fill="#575757" font-family='"Liberation Serif", serif' >0.6</text>
<text x="250.20" y="424.40" font-size="14.00" text-anchor="end" font-weight="bold" fill="#575757" font-family='"Liberation Serif", serif' >0.4</text>
<text x="250.20" y="459.30" font-size="14.00" text-anchor="end" font-weight="bold" fill="#575757" font-family='"Liberation Serif", serif' >0.2</text>
<text x="250.20" y="494.50" font-size="14.00" text-anchor="end" font-weight="bold" fill="#575757" font-family='"Liberation Serif", serif' >0</text>
<text x="486.50" y="302.10" font-size="14.00" text-anchor="start" font-weight="bold" fill="#575757" font-family='"Liberation Serif", serif' >1</text>
<text x="486.50" y="340.30" font-size="14.00" text-anchor="start" font-weight="bold" fill="#575757" font-family='"Liberation Serif", serif' >0.8</text>
<text x="486.50" y="379.90" font-size="14.00" text-anchor="start" font-weight="bold" fill="#575757" font-family='"Liberation Serif", serif' >0.6</text>
<text x="486.50" y="418.40" font-size="14.00" text-anchor="start" font-weight="bold" fill="#575757" font-family='"Liberation Serif", serif' >0.4</text>
<text x="486.50" y="456.30" font-size="14.00" text-anchor="start" font-weight="bold" fill="#575757" font-family='"Liberation Serif", serif' >0.2</text>
<text x="486.50" y="494.50" font-size="14.00" text-anchor="start" font-weight="bold" fill="#575757" font-family='"Liberation Serif", serif' >0</text>
<text x="261.30" y="511.30" font-size="14.00" text-anchor="middle" font-weight="bold" fill="#575757" font-family='"Liberation Serif", serif' >290</text>
<text x="321.80" y="511.30" font-size="14.00" text-anchor="middle" font-weight="bold" fill="#575757" font-family='"Liberation Serif", serif' >330</text>
<text x="382.10" y="511.30" font-size="14.00" text-anchor="middle" font-weight="bold" fill="#575757" font-family='"Liberation Serif", serif' >370</text>
<text x="443.10" y="511.30" font-size="14.00" text-anchor="middle" font-weight="bold" fill="#575757" font-family='"Liberation Serif", serif' >410</text>
<text x="367.50" y="531.80" font-size="14.50" text-anchor="middle" font-weight="bold" fill="#575757" textLength="110.80" lengthAdjust="spacingAndGlyphs" font-family='"Liberation Serif", serif' >Wavelength&#160;&#160;(nm)</text>
<g transform="translate(219.00 385.80) rotate(-90)"><text x="0.00" y="4.95" font-size="15.00" text-anchor="middle" font-weight="bold" fill="#575757" textLength="59.60" lengthAdjust="spacingAndGlyphs" font-family='"Liberation Serif", serif' >F I (a. u.)</text></g>
<g transform="translate(518.60 394.00) rotate(-90)"><text x="0.00" y="4.79" font-size="14.50" text-anchor="middle" font-weight="bold" fill="#575757" textLength="73.50" lengthAdjust="spacingAndGlyphs" font-family='"Liberation Serif", serif' >Absorbance</text></g>
<text x="292.70" y="289.60" font-size="21.50" text-anchor="middle" font-weight="bold" fill="#000" font-family='"Liberation Serif", serif' >c</text>
<path d="M312.2 285.2H343.1" stroke="#4A7EBB" stroke-width="2.2"/>
<text x="347.30" y="289.20" font-size="14.00" text-anchor="start" font-weight="bold" fill="#575757" textLength="25.10" lengthAdjust="spacingAndGlyphs" font-family='"Liberation Serif", serif' >BSA</text>
<path d="M383.8 284.8H415.9" stroke="#9BBB59" stroke-width="2.2"/>
<text x="418.80" y="289.20" font-size="14.00" text-anchor="start" font-weight="bold" fill="#575757" textLength="12.90" lengthAdjust="spacingAndGlyphs" font-family='"Liberation Serif", serif' >31</text>
</svg></body></html>
